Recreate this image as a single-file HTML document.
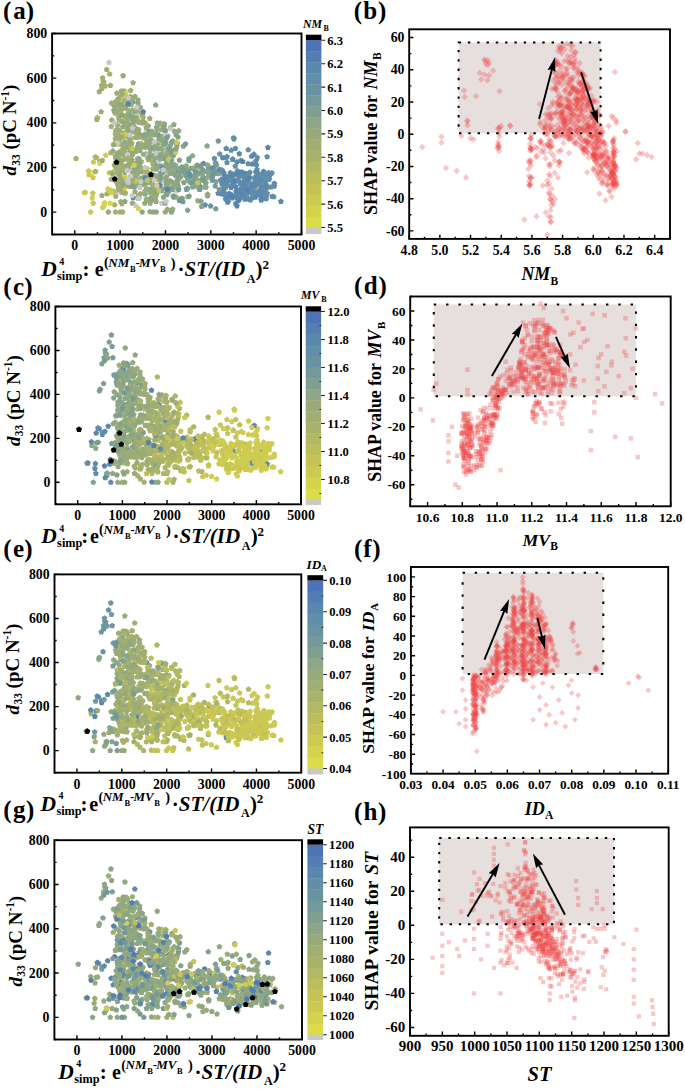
<!DOCTYPE html>
<html><head><meta charset="utf-8"><style>
html,body{margin:0;padding:0;background:#fff;}
svg{display:block;}
text{font-family:"Liberation Serif",serif;font-weight:bold;fill:#000;}
</style></head><body>
<svg width="685" height="1089" viewBox="0 0 685 1089">
<defs><clipPath id="clipLa"><rect x="52.1" y="33.5" width="249.4" height="201.0"/></clipPath><clipPath id="clipLc"><rect x="55.4" y="306.5" width="245.6" height="197.8"/></clipPath><clipPath id="clipLe"><rect x="54.5" y="574.4" width="246.8" height="198.30000000000007"/></clipPath><clipPath id="clipLg"><rect x="54.4" y="840.2" width="247.6" height="199.29999999999995"/></clipPath><clipPath id="clipRb"><rect x="409.2" y="29.3" width="260.8" height="209.6"/></clipPath><clipPath id="clipRd"><rect x="410.2" y="296.5" width="260.50000000000006" height="209.8"/></clipPath><clipPath id="clipRf"><rect x="410.9" y="567.0" width="257.30000000000007" height="206.70000000000005"/></clipPath><clipPath id="clipRh"><rect x="410.0" y="827.4" width="258.70000000000005" height="208.39999999999998"/></clipPath><marker id="ma13" markerUnits="userSpaceOnUse" overflow="visible" markerWidth="1" markerHeight="1" refX="0" refY="0" orient="0"><polygon points="0.00,-2.60 2.90,-0.49 1.79,2.92 -1.79,2.92 -2.90,-0.49" fill="#b0b664"/></marker><marker id="ma14" markerUnits="userSpaceOnUse" overflow="visible" markerWidth="1" markerHeight="1" refX="0" refY="0" orient="0"><polygon points="0.00,-2.60 2.90,-0.49 1.79,2.92 -1.79,2.92 -2.90,-0.49" fill="#acb468"/></marker><marker id="ma15" markerUnits="userSpaceOnUse" overflow="visible" markerWidth="1" markerHeight="1" refX="0" refY="0" orient="0"><polygon points="0.00,-2.60 2.90,-0.49 1.79,2.92 -1.79,2.92 -2.90,-0.49" fill="#a8b16a"/></marker><marker id="ma16" markerUnits="userSpaceOnUse" overflow="visible" markerWidth="1" markerHeight="1" refX="0" refY="0" orient="0"><polygon points="0.00,-2.60 2.90,-0.49 1.79,2.92 -1.79,2.92 -2.90,-0.49" fill="#a4af6e"/></marker><marker id="ma17" markerUnits="userSpaceOnUse" overflow="visible" markerWidth="1" markerHeight="1" refX="0" refY="0" orient="0"><polygon points="0.00,-2.60 2.90,-0.49 1.79,2.92 -1.79,2.92 -2.90,-0.49" fill="#a1ae71"/></marker><marker id="ma18" markerUnits="userSpaceOnUse" overflow="visible" markerWidth="1" markerHeight="1" refX="0" refY="0" orient="0"><polygon points="0.00,-2.60 2.90,-0.49 1.79,2.92 -1.79,2.92 -2.90,-0.49" fill="#9dac75"/></marker><marker id="ma19" markerUnits="userSpaceOnUse" overflow="visible" markerWidth="1" markerHeight="1" refX="0" refY="0" orient="0"><polygon points="0.00,-2.60 2.90,-0.49 1.79,2.92 -1.79,2.92 -2.90,-0.49" fill="#9aab78"/></marker><marker id="ma2" markerUnits="userSpaceOnUse" overflow="visible" markerWidth="1" markerHeight="1" refX="0" refY="0" orient="0"><polygon points="0.00,-2.60 2.90,-0.49 1.79,2.92 -1.79,2.92 -2.90,-0.49" fill="#d8d64c"/></marker><marker id="ma20" markerUnits="userSpaceOnUse" overflow="visible" markerWidth="1" markerHeight="1" refX="0" refY="0" orient="0"><polygon points="0.00,-2.60 2.90,-0.49 1.79,2.92 -1.79,2.92 -2.90,-0.49" fill="#96a97c"/></marker><marker id="ma21" markerUnits="userSpaceOnUse" overflow="visible" markerWidth="1" markerHeight="1" refX="0" refY="0" orient="0"><polygon points="0.00,-2.60 2.90,-0.49 1.79,2.92 -1.79,2.92 -2.90,-0.49" fill="#90a882"/></marker><marker id="ma22" markerUnits="userSpaceOnUse" overflow="visible" markerWidth="1" markerHeight="1" refX="0" refY="0" orient="0"><polygon points="0.00,-2.60 2.90,-0.49 1.79,2.92 -1.79,2.92 -2.90,-0.49" fill="#8ba686"/></marker><marker id="ma23" markerUnits="userSpaceOnUse" overflow="visible" markerWidth="1" markerHeight="1" refX="0" refY="0" orient="0"><polygon points="0.00,-2.60 2.90,-0.49 1.79,2.92 -1.79,2.92 -2.90,-0.49" fill="#86a38b"/></marker><marker id="ma24" markerUnits="userSpaceOnUse" overflow="visible" markerWidth="1" markerHeight="1" refX="0" refY="0" orient="0"><polygon points="0.00,-2.60 2.90,-0.49 1.79,2.92 -1.79,2.92 -2.90,-0.49" fill="#80a18f"/></marker><marker id="ma25" markerUnits="userSpaceOnUse" overflow="visible" markerWidth="1" markerHeight="1" refX="0" refY="0" orient="0"><polygon points="0.00,-2.60 2.90,-0.49 1.79,2.92 -1.79,2.92 -2.90,-0.49" fill="#7a9e93"/></marker><marker id="ma26" markerUnits="userSpaceOnUse" overflow="visible" markerWidth="1" markerHeight="1" refX="0" refY="0" orient="0"><polygon points="0.00,-2.60 2.90,-0.49 1.79,2.92 -1.79,2.92 -2.90,-0.49" fill="#769b97"/></marker><marker id="ma27" markerUnits="userSpaceOnUse" overflow="visible" markerWidth="1" markerHeight="1" refX="0" refY="0" orient="0"><polygon points="0.00,-2.60 2.90,-0.49 1.79,2.92 -1.79,2.92 -2.90,-0.49" fill="#70989c"/></marker><marker id="ma28" markerUnits="userSpaceOnUse" overflow="visible" markerWidth="1" markerHeight="1" refX="0" refY="0" orient="0"><polygon points="0.00,-2.60 2.90,-0.49 1.79,2.92 -1.79,2.92 -2.90,-0.49" fill="#6c95a0"/></marker><marker id="ma29" markerUnits="userSpaceOnUse" overflow="visible" markerWidth="1" markerHeight="1" refX="0" refY="0" orient="0"><polygon points="0.00,-2.60 2.90,-0.49 1.79,2.92 -1.79,2.92 -2.90,-0.49" fill="#6993a2"/></marker><marker id="ma3" markerUnits="userSpaceOnUse" overflow="visible" markerWidth="1" markerHeight="1" refX="0" refY="0" orient="0"><polygon points="0.00,-2.60 2.90,-0.49 1.79,2.92 -1.79,2.92 -2.90,-0.49" fill="#d6d24d"/></marker><marker id="ma30" markerUnits="userSpaceOnUse" overflow="visible" markerWidth="1" markerHeight="1" refX="0" refY="0" orient="0"><polygon points="0.00,-2.60 2.90,-0.49 1.79,2.92 -1.79,2.92 -2.90,-0.49" fill="#6591a6"/></marker><marker id="ma31" markerUnits="userSpaceOnUse" overflow="visible" markerWidth="1" markerHeight="1" refX="0" refY="0" orient="0"><polygon points="0.00,-2.60 2.90,-0.49 1.79,2.92 -1.79,2.92 -2.90,-0.49" fill="#628fa8"/></marker><marker id="ma32" markerUnits="userSpaceOnUse" overflow="visible" markerWidth="1" markerHeight="1" refX="0" refY="0" orient="0"><polygon points="0.00,-2.60 2.90,-0.49 1.79,2.92 -1.79,2.92 -2.90,-0.49" fill="#5f8cab"/></marker><marker id="ma33" markerUnits="userSpaceOnUse" overflow="visible" markerWidth="1" markerHeight="1" refX="0" refY="0" orient="0"><polygon points="0.00,-2.60 2.90,-0.49 1.79,2.92 -1.79,2.92 -2.90,-0.49" fill="#5c89ad"/></marker><marker id="ma34" markerUnits="userSpaceOnUse" overflow="visible" markerWidth="1" markerHeight="1" refX="0" refY="0" orient="0"><polygon points="0.00,-2.60 2.90,-0.49 1.79,2.92 -1.79,2.92 -2.90,-0.49" fill="#5985af"/></marker><marker id="ma35" markerUnits="userSpaceOnUse" overflow="visible" markerWidth="1" markerHeight="1" refX="0" refY="0" orient="0"><polygon points="0.00,-2.60 2.90,-0.49 1.79,2.92 -1.79,2.92 -2.90,-0.49" fill="#5682b1"/></marker><marker id="ma4" markerUnits="userSpaceOnUse" overflow="visible" markerWidth="1" markerHeight="1" refX="0" refY="0" orient="0"><polygon points="0.00,-2.60 2.90,-0.49 1.79,2.92 -1.79,2.92 -2.90,-0.49" fill="#d2ce4f"/></marker><marker id="ma5" markerUnits="userSpaceOnUse" overflow="visible" markerWidth="1" markerHeight="1" refX="0" refY="0" orient="0"><polygon points="0.00,-2.60 2.90,-0.49 1.79,2.92 -1.79,2.92 -2.90,-0.49" fill="#cfcc51"/></marker><marker id="ma6" markerUnits="userSpaceOnUse" overflow="visible" markerWidth="1" markerHeight="1" refX="0" refY="0" orient="0"><polygon points="0.00,-2.60 2.90,-0.49 1.79,2.92 -1.79,2.92 -2.90,-0.49" fill="#cbc853"/></marker><marker id="ma7" markerUnits="userSpaceOnUse" overflow="visible" markerWidth="1" markerHeight="1" refX="0" refY="0" orient="0"><polygon points="0.00,-2.60 2.90,-0.49 1.79,2.92 -1.79,2.92 -2.90,-0.49" fill="#c8c655"/></marker><marker id="ma8" markerUnits="userSpaceOnUse" overflow="visible" markerWidth="1" markerHeight="1" refX="0" refY="0" orient="0"><polygon points="0.00,-2.60 2.90,-0.49 1.79,2.92 -1.79,2.92 -2.90,-0.49" fill="#c4c357"/></marker><marker id="mag" markerUnits="userSpaceOnUse" overflow="visible" markerWidth="1" markerHeight="1" refX="0" refY="0" orient="0"><polygon points="0.00,-2.60 2.90,-0.49 1.79,2.92 -1.79,2.92 -2.90,-0.49" fill="#c8c8c8"/></marker><marker id="mak" markerUnits="userSpaceOnUse" overflow="visible" markerWidth="1" markerHeight="1" refX="0" refY="0" orient="0"><polygon points="0.00,-2.60 2.90,-0.49 1.79,2.92 -1.79,2.92 -2.90,-0.49" fill="#000"/></marker><marker id="mc10" markerUnits="userSpaceOnUse" overflow="visible" markerWidth="1" markerHeight="1" refX="0" refY="0" orient="0"><polygon points="0.00,-2.60 2.90,-0.49 1.79,2.92 -1.79,2.92 -2.90,-0.49" fill="#bcbe5c"/></marker><marker id="mc11" markerUnits="userSpaceOnUse" overflow="visible" markerWidth="1" markerHeight="1" refX="0" refY="0" orient="0"><polygon points="0.00,-2.60 2.90,-0.49 1.79,2.92 -1.79,2.92 -2.90,-0.49" fill="#b8bb5f"/></marker><marker id="mc12" markerUnits="userSpaceOnUse" overflow="visible" markerWidth="1" markerHeight="1" refX="0" refY="0" orient="0"><polygon points="0.00,-2.60 2.90,-0.49 1.79,2.92 -1.79,2.92 -2.90,-0.49" fill="#b4b962"/></marker><marker id="mc13" markerUnits="userSpaceOnUse" overflow="visible" markerWidth="1" markerHeight="1" refX="0" refY="0" orient="0"><polygon points="0.00,-2.60 2.90,-0.49 1.79,2.92 -1.79,2.92 -2.90,-0.49" fill="#b0b664"/></marker><marker id="mc14" markerUnits="userSpaceOnUse" overflow="visible" markerWidth="1" markerHeight="1" refX="0" refY="0" orient="0"><polygon points="0.00,-2.60 2.90,-0.49 1.79,2.92 -1.79,2.92 -2.90,-0.49" fill="#acb468"/></marker><marker id="mc15" markerUnits="userSpaceOnUse" overflow="visible" markerWidth="1" markerHeight="1" refX="0" refY="0" orient="0"><polygon points="0.00,-2.60 2.90,-0.49 1.79,2.92 -1.79,2.92 -2.90,-0.49" fill="#a8b16a"/></marker><marker id="mc16" markerUnits="userSpaceOnUse" overflow="visible" markerWidth="1" markerHeight="1" refX="0" refY="0" orient="0"><polygon points="0.00,-2.60 2.90,-0.49 1.79,2.92 -1.79,2.92 -2.90,-0.49" fill="#a4af6e"/></marker><marker id="mc17" markerUnits="userSpaceOnUse" overflow="visible" markerWidth="1" markerHeight="1" refX="0" refY="0" orient="0"><polygon points="0.00,-2.60 2.90,-0.49 1.79,2.92 -1.79,2.92 -2.90,-0.49" fill="#a1ae71"/></marker><marker id="mc18" markerUnits="userSpaceOnUse" overflow="visible" markerWidth="1" markerHeight="1" refX="0" refY="0" orient="0"><polygon points="0.00,-2.60 2.90,-0.49 1.79,2.92 -1.79,2.92 -2.90,-0.49" fill="#9dac75"/></marker><marker id="mc19" markerUnits="userSpaceOnUse" overflow="visible" markerWidth="1" markerHeight="1" refX="0" refY="0" orient="0"><polygon points="0.00,-2.60 2.90,-0.49 1.79,2.92 -1.79,2.92 -2.90,-0.49" fill="#9aab78"/></marker><marker id="mc20" markerUnits="userSpaceOnUse" overflow="visible" markerWidth="1" markerHeight="1" refX="0" refY="0" orient="0"><polygon points="0.00,-2.60 2.90,-0.49 1.79,2.92 -1.79,2.92 -2.90,-0.49" fill="#96a97c"/></marker><marker id="mc21" markerUnits="userSpaceOnUse" overflow="visible" markerWidth="1" markerHeight="1" refX="0" refY="0" orient="0"><polygon points="0.00,-2.60 2.90,-0.49 1.79,2.92 -1.79,2.92 -2.90,-0.49" fill="#90a882"/></marker><marker id="mc22" markerUnits="userSpaceOnUse" overflow="visible" markerWidth="1" markerHeight="1" refX="0" refY="0" orient="0"><polygon points="0.00,-2.60 2.90,-0.49 1.79,2.92 -1.79,2.92 -2.90,-0.49" fill="#8ba686"/></marker><marker id="mc23" markerUnits="userSpaceOnUse" overflow="visible" markerWidth="1" markerHeight="1" refX="0" refY="0" orient="0"><polygon points="0.00,-2.60 2.90,-0.49 1.79,2.92 -1.79,2.92 -2.90,-0.49" fill="#86a38b"/></marker><marker id="mc24" markerUnits="userSpaceOnUse" overflow="visible" markerWidth="1" markerHeight="1" refX="0" refY="0" orient="0"><polygon points="0.00,-2.60 2.90,-0.49 1.79,2.92 -1.79,2.92 -2.90,-0.49" fill="#80a18f"/></marker><marker id="mc25" markerUnits="userSpaceOnUse" overflow="visible" markerWidth="1" markerHeight="1" refX="0" refY="0" orient="0"><polygon points="0.00,-2.60 2.90,-0.49 1.79,2.92 -1.79,2.92 -2.90,-0.49" fill="#7a9e93"/></marker><marker id="mc26" markerUnits="userSpaceOnUse" overflow="visible" markerWidth="1" markerHeight="1" refX="0" refY="0" orient="0"><polygon points="0.00,-2.60 2.90,-0.49 1.79,2.92 -1.79,2.92 -2.90,-0.49" fill="#769b97"/></marker><marker id="mc27" markerUnits="userSpaceOnUse" overflow="visible" markerWidth="1" markerHeight="1" refX="0" refY="0" orient="0"><polygon points="0.00,-2.60 2.90,-0.49 1.79,2.92 -1.79,2.92 -2.90,-0.49" fill="#70989c"/></marker><marker id="mc32" markerUnits="userSpaceOnUse" overflow="visible" markerWidth="1" markerHeight="1" refX="0" refY="0" orient="0"><polygon points="0.00,-2.60 2.90,-0.49 1.79,2.92 -1.79,2.92 -2.90,-0.49" fill="#5f8cab"/></marker><marker id="mc33" markerUnits="userSpaceOnUse" overflow="visible" markerWidth="1" markerHeight="1" refX="0" refY="0" orient="0"><polygon points="0.00,-2.60 2.90,-0.49 1.79,2.92 -1.79,2.92 -2.90,-0.49" fill="#5c89ad"/></marker><marker id="mc34" markerUnits="userSpaceOnUse" overflow="visible" markerWidth="1" markerHeight="1" refX="0" refY="0" orient="0"><polygon points="0.00,-2.60 2.90,-0.49 1.79,2.92 -1.79,2.92 -2.90,-0.49" fill="#5985af"/></marker><marker id="mc35" markerUnits="userSpaceOnUse" overflow="visible" markerWidth="1" markerHeight="1" refX="0" refY="0" orient="0"><polygon points="0.00,-2.60 2.90,-0.49 1.79,2.92 -1.79,2.92 -2.90,-0.49" fill="#5682b1"/></marker><marker id="mc5" markerUnits="userSpaceOnUse" overflow="visible" markerWidth="1" markerHeight="1" refX="0" refY="0" orient="0"><polygon points="0.00,-2.60 2.90,-0.49 1.79,2.92 -1.79,2.92 -2.90,-0.49" fill="#cfcc51"/></marker><marker id="mc6" markerUnits="userSpaceOnUse" overflow="visible" markerWidth="1" markerHeight="1" refX="0" refY="0" orient="0"><polygon points="0.00,-2.60 2.90,-0.49 1.79,2.92 -1.79,2.92 -2.90,-0.49" fill="#cbc853"/></marker><marker id="mc7" markerUnits="userSpaceOnUse" overflow="visible" markerWidth="1" markerHeight="1" refX="0" refY="0" orient="0"><polygon points="0.00,-2.60 2.90,-0.49 1.79,2.92 -1.79,2.92 -2.90,-0.49" fill="#c8c655"/></marker><marker id="mc8" markerUnits="userSpaceOnUse" overflow="visible" markerWidth="1" markerHeight="1" refX="0" refY="0" orient="0"><polygon points="0.00,-2.60 2.90,-0.49 1.79,2.92 -1.79,2.92 -2.90,-0.49" fill="#c4c357"/></marker><marker id="mc9" markerUnits="userSpaceOnUse" overflow="visible" markerWidth="1" markerHeight="1" refX="0" refY="0" orient="0"><polygon points="0.00,-2.60 2.90,-0.49 1.79,2.92 -1.79,2.92 -2.90,-0.49" fill="#c0c05a"/></marker><marker id="mck" markerUnits="userSpaceOnUse" overflow="visible" markerWidth="1" markerHeight="1" refX="0" refY="0" orient="0"><polygon points="0.00,-2.60 2.90,-0.49 1.79,2.92 -1.79,2.92 -2.90,-0.49" fill="#000"/></marker><marker id="me10" markerUnits="userSpaceOnUse" overflow="visible" markerWidth="1" markerHeight="1" refX="0" refY="0" orient="0"><polygon points="0.00,-2.60 2.90,-0.49 1.79,2.92 -1.79,2.92 -2.90,-0.49" fill="#bcbe5c"/></marker><marker id="me11" markerUnits="userSpaceOnUse" overflow="visible" markerWidth="1" markerHeight="1" refX="0" refY="0" orient="0"><polygon points="0.00,-2.60 2.90,-0.49 1.79,2.92 -1.79,2.92 -2.90,-0.49" fill="#b8bb5f"/></marker><marker id="me12" markerUnits="userSpaceOnUse" overflow="visible" markerWidth="1" markerHeight="1" refX="0" refY="0" orient="0"><polygon points="0.00,-2.60 2.90,-0.49 1.79,2.92 -1.79,2.92 -2.90,-0.49" fill="#b4b962"/></marker><marker id="me13" markerUnits="userSpaceOnUse" overflow="visible" markerWidth="1" markerHeight="1" refX="0" refY="0" orient="0"><polygon points="0.00,-2.60 2.90,-0.49 1.79,2.92 -1.79,2.92 -2.90,-0.49" fill="#b0b664"/></marker><marker id="me14" markerUnits="userSpaceOnUse" overflow="visible" markerWidth="1" markerHeight="1" refX="0" refY="0" orient="0"><polygon points="0.00,-2.60 2.90,-0.49 1.79,2.92 -1.79,2.92 -2.90,-0.49" fill="#acb468"/></marker><marker id="me15" markerUnits="userSpaceOnUse" overflow="visible" markerWidth="1" markerHeight="1" refX="0" refY="0" orient="0"><polygon points="0.00,-2.60 2.90,-0.49 1.79,2.92 -1.79,2.92 -2.90,-0.49" fill="#a8b16a"/></marker><marker id="me16" markerUnits="userSpaceOnUse" overflow="visible" markerWidth="1" markerHeight="1" refX="0" refY="0" orient="0"><polygon points="0.00,-2.60 2.90,-0.49 1.79,2.92 -1.79,2.92 -2.90,-0.49" fill="#a4af6e"/></marker><marker id="me17" markerUnits="userSpaceOnUse" overflow="visible" markerWidth="1" markerHeight="1" refX="0" refY="0" orient="0"><polygon points="0.00,-2.60 2.90,-0.49 1.79,2.92 -1.79,2.92 -2.90,-0.49" fill="#a1ae71"/></marker><marker id="me18" markerUnits="userSpaceOnUse" overflow="visible" markerWidth="1" markerHeight="1" refX="0" refY="0" orient="0"><polygon points="0.00,-2.60 2.90,-0.49 1.79,2.92 -1.79,2.92 -2.90,-0.49" fill="#9dac75"/></marker><marker id="me19" markerUnits="userSpaceOnUse" overflow="visible" markerWidth="1" markerHeight="1" refX="0" refY="0" orient="0"><polygon points="0.00,-2.60 2.90,-0.49 1.79,2.92 -1.79,2.92 -2.90,-0.49" fill="#9aab78"/></marker><marker id="me20" markerUnits="userSpaceOnUse" overflow="visible" markerWidth="1" markerHeight="1" refX="0" refY="0" orient="0"><polygon points="0.00,-2.60 2.90,-0.49 1.79,2.92 -1.79,2.92 -2.90,-0.49" fill="#96a97c"/></marker><marker id="me21" markerUnits="userSpaceOnUse" overflow="visible" markerWidth="1" markerHeight="1" refX="0" refY="0" orient="0"><polygon points="0.00,-2.60 2.90,-0.49 1.79,2.92 -1.79,2.92 -2.90,-0.49" fill="#90a882"/></marker><marker id="me22" markerUnits="userSpaceOnUse" overflow="visible" markerWidth="1" markerHeight="1" refX="0" refY="0" orient="0"><polygon points="0.00,-2.60 2.90,-0.49 1.79,2.92 -1.79,2.92 -2.90,-0.49" fill="#8ba686"/></marker><marker id="me23" markerUnits="userSpaceOnUse" overflow="visible" markerWidth="1" markerHeight="1" refX="0" refY="0" orient="0"><polygon points="0.00,-2.60 2.90,-0.49 1.79,2.92 -1.79,2.92 -2.90,-0.49" fill="#86a38b"/></marker><marker id="me24" markerUnits="userSpaceOnUse" overflow="visible" markerWidth="1" markerHeight="1" refX="0" refY="0" orient="0"><polygon points="0.00,-2.60 2.90,-0.49 1.79,2.92 -1.79,2.92 -2.90,-0.49" fill="#80a18f"/></marker><marker id="me25" markerUnits="userSpaceOnUse" overflow="visible" markerWidth="1" markerHeight="1" refX="0" refY="0" orient="0"><polygon points="0.00,-2.60 2.90,-0.49 1.79,2.92 -1.79,2.92 -2.90,-0.49" fill="#7a9e93"/></marker><marker id="me26" markerUnits="userSpaceOnUse" overflow="visible" markerWidth="1" markerHeight="1" refX="0" refY="0" orient="0"><polygon points="0.00,-2.60 2.90,-0.49 1.79,2.92 -1.79,2.92 -2.90,-0.49" fill="#769b97"/></marker><marker id="me27" markerUnits="userSpaceOnUse" overflow="visible" markerWidth="1" markerHeight="1" refX="0" refY="0" orient="0"><polygon points="0.00,-2.60 2.90,-0.49 1.79,2.92 -1.79,2.92 -2.90,-0.49" fill="#70989c"/></marker><marker id="me28" markerUnits="userSpaceOnUse" overflow="visible" markerWidth="1" markerHeight="1" refX="0" refY="0" orient="0"><polygon points="0.00,-2.60 2.90,-0.49 1.79,2.92 -1.79,2.92 -2.90,-0.49" fill="#6c95a0"/></marker><marker id="me29" markerUnits="userSpaceOnUse" overflow="visible" markerWidth="1" markerHeight="1" refX="0" refY="0" orient="0"><polygon points="0.00,-2.60 2.90,-0.49 1.79,2.92 -1.79,2.92 -2.90,-0.49" fill="#6993a2"/></marker><marker id="me31" markerUnits="userSpaceOnUse" overflow="visible" markerWidth="1" markerHeight="1" refX="0" refY="0" orient="0"><polygon points="0.00,-2.60 2.90,-0.49 1.79,2.92 -1.79,2.92 -2.90,-0.49" fill="#628fa8"/></marker><marker id="me32" markerUnits="userSpaceOnUse" overflow="visible" markerWidth="1" markerHeight="1" refX="0" refY="0" orient="0"><polygon points="0.00,-2.60 2.90,-0.49 1.79,2.92 -1.79,2.92 -2.90,-0.49" fill="#5f8cab"/></marker><marker id="me33" markerUnits="userSpaceOnUse" overflow="visible" markerWidth="1" markerHeight="1" refX="0" refY="0" orient="0"><polygon points="0.00,-2.60 2.90,-0.49 1.79,2.92 -1.79,2.92 -2.90,-0.49" fill="#5c89ad"/></marker><marker id="me35" markerUnits="userSpaceOnUse" overflow="visible" markerWidth="1" markerHeight="1" refX="0" refY="0" orient="0"><polygon points="0.00,-2.60 2.90,-0.49 1.79,2.92 -1.79,2.92 -2.90,-0.49" fill="#5682b1"/></marker><marker id="me6" markerUnits="userSpaceOnUse" overflow="visible" markerWidth="1" markerHeight="1" refX="0" refY="0" orient="0"><polygon points="0.00,-2.60 2.90,-0.49 1.79,2.92 -1.79,2.92 -2.90,-0.49" fill="#cbc853"/></marker><marker id="me7" markerUnits="userSpaceOnUse" overflow="visible" markerWidth="1" markerHeight="1" refX="0" refY="0" orient="0"><polygon points="0.00,-2.60 2.90,-0.49 1.79,2.92 -1.79,2.92 -2.90,-0.49" fill="#c8c655"/></marker><marker id="me8" markerUnits="userSpaceOnUse" overflow="visible" markerWidth="1" markerHeight="1" refX="0" refY="0" orient="0"><polygon points="0.00,-2.60 2.90,-0.49 1.79,2.92 -1.79,2.92 -2.90,-0.49" fill="#c4c357"/></marker><marker id="me9" markerUnits="userSpaceOnUse" overflow="visible" markerWidth="1" markerHeight="1" refX="0" refY="0" orient="0"><polygon points="0.00,-2.60 2.90,-0.49 1.79,2.92 -1.79,2.92 -2.90,-0.49" fill="#c0c05a"/></marker><marker id="mek" markerUnits="userSpaceOnUse" overflow="visible" markerWidth="1" markerHeight="1" refX="0" refY="0" orient="0"><polygon points="0.00,-2.60 2.90,-0.49 1.79,2.92 -1.79,2.92 -2.90,-0.49" fill="#000"/></marker><marker id="mg10" markerUnits="userSpaceOnUse" overflow="visible" markerWidth="1" markerHeight="1" refX="0" refY="0" orient="0"><polygon points="0.00,-2.60 2.90,-0.49 1.79,2.92 -1.79,2.92 -2.90,-0.49" fill="#bcbe5c"/></marker><marker id="mg15" markerUnits="userSpaceOnUse" overflow="visible" markerWidth="1" markerHeight="1" refX="0" refY="0" orient="0"><polygon points="0.00,-2.60 2.90,-0.49 1.79,2.92 -1.79,2.92 -2.90,-0.49" fill="#a8b16a"/></marker><marker id="mg16" markerUnits="userSpaceOnUse" overflow="visible" markerWidth="1" markerHeight="1" refX="0" refY="0" orient="0"><polygon points="0.00,-2.60 2.90,-0.49 1.79,2.92 -1.79,2.92 -2.90,-0.49" fill="#a4af6e"/></marker><marker id="mg17" markerUnits="userSpaceOnUse" overflow="visible" markerWidth="1" markerHeight="1" refX="0" refY="0" orient="0"><polygon points="0.00,-2.60 2.90,-0.49 1.79,2.92 -1.79,2.92 -2.90,-0.49" fill="#a1ae71"/></marker><marker id="mg18" markerUnits="userSpaceOnUse" overflow="visible" markerWidth="1" markerHeight="1" refX="0" refY="0" orient="0"><polygon points="0.00,-2.60 2.90,-0.49 1.79,2.92 -1.79,2.92 -2.90,-0.49" fill="#9dac75"/></marker><marker id="mg19" markerUnits="userSpaceOnUse" overflow="visible" markerWidth="1" markerHeight="1" refX="0" refY="0" orient="0"><polygon points="0.00,-2.60 2.90,-0.49 1.79,2.92 -1.79,2.92 -2.90,-0.49" fill="#9aab78"/></marker><marker id="mg20" markerUnits="userSpaceOnUse" overflow="visible" markerWidth="1" markerHeight="1" refX="0" refY="0" orient="0"><polygon points="0.00,-2.60 2.90,-0.49 1.79,2.92 -1.79,2.92 -2.90,-0.49" fill="#96a97c"/></marker><marker id="mg21" markerUnits="userSpaceOnUse" overflow="visible" markerWidth="1" markerHeight="1" refX="0" refY="0" orient="0"><polygon points="0.00,-2.60 2.90,-0.49 1.79,2.92 -1.79,2.92 -2.90,-0.49" fill="#90a882"/></marker><marker id="mg22" markerUnits="userSpaceOnUse" overflow="visible" markerWidth="1" markerHeight="1" refX="0" refY="0" orient="0"><polygon points="0.00,-2.60 2.90,-0.49 1.79,2.92 -1.79,2.92 -2.90,-0.49" fill="#8ba686"/></marker><marker id="mg23" markerUnits="userSpaceOnUse" overflow="visible" markerWidth="1" markerHeight="1" refX="0" refY="0" orient="0"><polygon points="0.00,-2.60 2.90,-0.49 1.79,2.92 -1.79,2.92 -2.90,-0.49" fill="#86a38b"/></marker><marker id="mg24" markerUnits="userSpaceOnUse" overflow="visible" markerWidth="1" markerHeight="1" refX="0" refY="0" orient="0"><polygon points="0.00,-2.60 2.90,-0.49 1.79,2.92 -1.79,2.92 -2.90,-0.49" fill="#80a18f"/></marker><marker id="mg25" markerUnits="userSpaceOnUse" overflow="visible" markerWidth="1" markerHeight="1" refX="0" refY="0" orient="0"><polygon points="0.00,-2.60 2.90,-0.49 1.79,2.92 -1.79,2.92 -2.90,-0.49" fill="#7a9e93"/></marker><marker id="mg26" markerUnits="userSpaceOnUse" overflow="visible" markerWidth="1" markerHeight="1" refX="0" refY="0" orient="0"><polygon points="0.00,-2.60 2.90,-0.49 1.79,2.92 -1.79,2.92 -2.90,-0.49" fill="#769b97"/></marker><marker id="mg27" markerUnits="userSpaceOnUse" overflow="visible" markerWidth="1" markerHeight="1" refX="0" refY="0" orient="0"><polygon points="0.00,-2.60 2.90,-0.49 1.79,2.92 -1.79,2.92 -2.90,-0.49" fill="#70989c"/></marker><marker id="mg28" markerUnits="userSpaceOnUse" overflow="visible" markerWidth="1" markerHeight="1" refX="0" refY="0" orient="0"><polygon points="0.00,-2.60 2.90,-0.49 1.79,2.92 -1.79,2.92 -2.90,-0.49" fill="#6c95a0"/></marker><marker id="mg33" markerUnits="userSpaceOnUse" overflow="visible" markerWidth="1" markerHeight="1" refX="0" refY="0" orient="0"><polygon points="0.00,-2.60 2.90,-0.49 1.79,2.92 -1.79,2.92 -2.90,-0.49" fill="#5c89ad"/></marker><marker id="mg34" markerUnits="userSpaceOnUse" overflow="visible" markerWidth="1" markerHeight="1" refX="0" refY="0" orient="0"><polygon points="0.00,-2.60 2.90,-0.49 1.79,2.92 -1.79,2.92 -2.90,-0.49" fill="#5985af"/></marker><marker id="mg35" markerUnits="userSpaceOnUse" overflow="visible" markerWidth="1" markerHeight="1" refX="0" refY="0" orient="0"><polygon points="0.00,-2.60 2.90,-0.49 1.79,2.92 -1.79,2.92 -2.90,-0.49" fill="#5682b1"/></marker><marker id="mg36" markerUnits="userSpaceOnUse" overflow="visible" markerWidth="1" markerHeight="1" refX="0" refY="0" orient="0"><polygon points="0.00,-2.60 2.90,-0.49 1.79,2.92 -1.79,2.92 -2.90,-0.49" fill="#547eb3"/></marker><marker id="mg37" markerUnits="userSpaceOnUse" overflow="visible" markerWidth="1" markerHeight="1" refX="0" refY="0" orient="0"><polygon points="0.00,-2.60 2.90,-0.49 1.79,2.92 -1.79,2.92 -2.90,-0.49" fill="#5178b5"/></marker><marker id="mg4" markerUnits="userSpaceOnUse" overflow="visible" markerWidth="1" markerHeight="1" refX="0" refY="0" orient="0"><polygon points="0.00,-2.60 2.90,-0.49 1.79,2.92 -1.79,2.92 -2.90,-0.49" fill="#d2ce4f"/></marker><marker id="mg5" markerUnits="userSpaceOnUse" overflow="visible" markerWidth="1" markerHeight="1" refX="0" refY="0" orient="0"><polygon points="0.00,-2.60 2.90,-0.49 1.79,2.92 -1.79,2.92 -2.90,-0.49" fill="#cfcc51"/></marker><marker id="mg6" markerUnits="userSpaceOnUse" overflow="visible" markerWidth="1" markerHeight="1" refX="0" refY="0" orient="0"><polygon points="0.00,-2.60 2.90,-0.49 1.79,2.92 -1.79,2.92 -2.90,-0.49" fill="#cbc853"/></marker><marker id="mg7" markerUnits="userSpaceOnUse" overflow="visible" markerWidth="1" markerHeight="1" refX="0" refY="0" orient="0"><polygon points="0.00,-2.60 2.90,-0.49 1.79,2.92 -1.79,2.92 -2.90,-0.49" fill="#c8c655"/></marker><marker id="mg8" markerUnits="userSpaceOnUse" overflow="visible" markerWidth="1" markerHeight="1" refX="0" refY="0" orient="0"><polygon points="0.00,-2.60 2.90,-0.49 1.79,2.92 -1.79,2.92 -2.90,-0.49" fill="#c4c357"/></marker><marker id="mg9" markerUnits="userSpaceOnUse" overflow="visible" markerWidth="1" markerHeight="1" refX="0" refY="0" orient="0"><polygon points="0.00,-2.60 2.90,-0.49 1.79,2.92 -1.79,2.92 -2.90,-0.49" fill="#c0c05a"/></marker><marker id="mg14" markerUnits="userSpaceOnUse" overflow="visible" markerWidth="1" markerHeight="1" refX="0" refY="0" orient="0"><polygon points="0.00,-2.60 2.90,-0.49 1.79,2.92 -1.79,2.92 -2.90,-0.49" fill="#acb468"/></marker><marker id="mg32" markerUnits="userSpaceOnUse" overflow="visible" markerWidth="1" markerHeight="1" refX="0" refY="0" orient="0"><polygon points="0.00,-2.60 2.90,-0.49 1.79,2.92 -1.79,2.92 -2.90,-0.49" fill="#5f8cab"/></marker><marker id="mgk" markerUnits="userSpaceOnUse" overflow="visible" markerWidth="1" markerHeight="1" refX="0" refY="0" orient="0"><polygon points="0.00,-2.60 2.90,-0.49 1.79,2.92 -1.79,2.92 -2.90,-0.49" fill="#000"/></marker><marker id="rb" markerUnits="userSpaceOnUse" overflow="visible" markerWidth="1" markerHeight="1" refX="0" refY="0" orient="0"><polygon points="0,-3.36 3.20,0 0,3.36 -3.20,0" fill="#ee4444" fill-opacity="0.3"/></marker><marker id="rd" markerUnits="userSpaceOnUse" overflow="visible" markerWidth="1" markerHeight="1" refX="0" refY="0" orient="0"><rect x="-2.25" y="-2.25" width="4.50" height="4.50" fill="#ee4444" fill-opacity="0.3"/></marker><marker id="rf" markerUnits="userSpaceOnUse" overflow="visible" markerWidth="1" markerHeight="1" refX="0" refY="0" orient="0"><polygon points="0,-3.04 2.90,0 0,3.04 -2.90,0" fill="#ee4444" fill-opacity="0.3"/></marker><marker id="rh" markerUnits="userSpaceOnUse" overflow="visible" markerWidth="1" markerHeight="1" refX="0" refY="0" orient="0"><rect x="-2.10" y="-2.10" width="4.20" height="4.20" fill="#ee4444" fill-opacity="0.3"/></marker></defs>
<g clip-path="url(#clipLa)"><path d="M96.5 157.2" marker-start="url(#ma13)" marker-mid="url(#ma13)" marker-end="url(#ma13)" fill="none" stroke="none"/><path d="M119.9 97.2L113.5 191.0L121.2 165.3" marker-start="url(#ma14)" marker-mid="url(#ma14)" marker-end="url(#ma14)" fill="none" stroke="none"/><path d="M122.7 148.7L128.8 182.8L129.7 186.1L127.4 166.3L125.2 116.8L114.6 204.4L121.7 104.6L124.4 137.3L119.1 119.6" marker-start="url(#ma15)" marker-mid="url(#ma15)" marker-end="url(#ma15)" fill="none" stroke="none"/><path d="M115.7 195.8L137.9 173.0L145.3 174.5L125.6 107.2L124.6 90.9L120.0 211.7L109.7 73.7L122.6 211.7L154.1 174.8L119.6 114.9L120.0 175.2L124.1 126.3L111.3 178.9" marker-start="url(#ma16)" marker-mid="url(#ma16)" marker-end="url(#ma16)" fill="none" stroke="none"/><path d="M116.3 134.6L129.8 151.5L139.6 161.1L126.7 142.2L139.8 112.9L126.8 117.4L126.5 155.0L121.8 168.8L127.6 119.1L101.1 111.4L115.6 130.4L121.6 120.8L99.8 161.0L197.8 200.3L129.0 114.1L140.4 144.1L145.1 122.4L135.9 120.9L137.8 182.2L130.0 139.5L128.4 166.3L101.6 85.1" marker-start="url(#ma17)" marker-mid="url(#ma17)" marker-end="url(#ma17)" fill="none" stroke="none"/><path d="M117.8 101.4L135.5 162.8L125.9 115.8L181.0 198.2L107.1 193.4L116.9 92.8L155.5 178.8L160.7 148.1L132.5 202.8L120.4 105.3L170.6 173.1L121.1 110.0L115.8 180.3L123.6 149.2L122.1 153.6L155.4 165.2L115.6 156.8L171.2 172.5L136.8 183.7L137.9 132.2L207.3 171.1L151.7 180.0L117.9 157.4L120.0 181.5L133.0 175.6" marker-start="url(#ma18)" marker-mid="url(#ma18)" marker-end="url(#ma18)" fill="none" stroke="none"/><path d="M165.5 130.0L127.9 113.7L160.2 122.8L119.1 135.9L138.0 99.6L115.5 155.5L161.4 129.4L160.2 123.9L171.8 152.1L134.5 111.4L140.9 135.2L131.3 144.0L187.9 196.3L147.1 155.4L165.8 152.6L142.9 183.0L149.7 174.9L134.3 126.5L116.8 100.5L132.8 173.4L118.7 140.9L145.7 137.0L152.5 192.8L174.0 195.6" marker-start="url(#ma19)" marker-mid="url(#ma19)" marker-end="url(#ma19)" fill="none" stroke="none"/><path d="M99.8 163.2L110.2 202.8" marker-start="url(#ma2)" marker-mid="url(#ma2)" marker-end="url(#ma2)" fill="none" stroke="none"/><path d="M121.6 91.9L140.1 144.0L137.2 130.7L175.6 165.1L128.5 126.8L163.7 169.4L153.8 158.0L138.5 129.2L115.7 157.4L147.8 172.3L188.3 180.3L150.0 211.3L146.9 141.0L135.7 117.5L156.0 186.7L142.3 181.4L133.1 179.9L116.0 104.0L161.6 140.7L166.1 184.1L135.5 151.1L186.7 169.2L122.8 181.7L150.2 182.3L125.1 103.8L168.4 147.9L136.7 133.0L160.5 166.6L152.0 179.4L153.1 155.2L142.5 145.8L136.4 110.5L159.0 138.8L148.2 125.5L122.3 144.4" marker-start="url(#ma20)" marker-mid="url(#ma20)" marker-end="url(#ma20)" fill="none" stroke="none"/><path d="M208.9 174.0L150.6 139.1L205.7 182.9L151.4 189.0L118.8 181.6L152.4 184.3L164.7 141.5L192.5 155.4L178.7 130.4L125.0 152.0L158.2 178.1L131.8 159.6L117.8 170.6L178.2 185.8L219.5 173.3L199.4 180.9L134.5 186.8L116.5 161.9L187.7 187.9L137.1 148.6L117.5 102.9L135.6 170.8L159.8 176.8L128.6 110.0L130.8 150.6L162.4 154.7L180.6 176.6L197.6 179.7" marker-start="url(#ma21)" marker-mid="url(#ma21)" marker-end="url(#ma21)" fill="none" stroke="none"/><path d="M173.3 153.4L138.9 197.7L171.5 141.9L197.8 166.3L118.4 109.6L202.7 178.7L156.6 126.9L163.5 196.8L112.8 150.7L170.1 180.4L166.9 194.3L170.5 144.9L153.4 211.7L169.0 173.3L147.6 178.2L188.9 160.3L135.8 184.6L174.7 183.2" marker-start="url(#ma22)" marker-mid="url(#ma22)" marker-end="url(#ma22)" fill="none" stroke="none"/><path d="M215.9 181.4L124.9 201.1L156.5 160.6L171.5 211.7L173.9 152.0L149.2 131.3L142.2 171.4L170.6 154.2L202.6 172.7L168.7 191.2L201.0 200.9L198.9 173.7L189.0 174.5L178.0 136.7L137.9 102.9L161.0 172.1L137.6 163.0L193.3 183.7L219.0 171.2" marker-start="url(#ma23)" marker-mid="url(#ma23)" marker-end="url(#ma23)" fill="none" stroke="none"/><path d="M197.0 168.1L179.4 159.8L166.5 158.4L168.9 181.6L190.0 176.1L165.8 176.2L121.6 114.1L201.1 171.7L194.0 177.1L196.7 167.6" marker-start="url(#ma24)" marker-mid="url(#ma24)" marker-end="url(#ma24)" fill="none" stroke="none"/><path d="M163.2 158.1L199.5 189.2L174.2 149.7L173.3 155.3L207.6 195.3L177.3 182.8L185.9 165.6L206.0 186.7" marker-start="url(#ma25)" marker-mid="url(#ma25)" marker-end="url(#ma25)" fill="none" stroke="none"/><path d="M182.9 201.4L179.7 171.8L192.0 168.2" marker-start="url(#ma26)" marker-mid="url(#ma26)" marker-end="url(#ma26)" fill="none" stroke="none"/><path d="M193.2 184.2L212.2 179.8L218.3 140.5L191.6 181.5L193.5 181.7" marker-start="url(#ma27)" marker-mid="url(#ma27)" marker-end="url(#ma27)" fill="none" stroke="none"/><path d="M208.1 166.4L179.4 200.0L184.2 170.0" marker-start="url(#ma28)" marker-mid="url(#ma28)" marker-end="url(#ma28)" fill="none" stroke="none"/><path d="M253.5 190.0L210.6 205.7L244.6 186.7" marker-start="url(#ma29)" marker-mid="url(#ma29)" marker-end="url(#ma29)" fill="none" stroke="none"/><path d="M104.3 204.7L138.4 208.2L94.1 171.5" marker-start="url(#ma3)" marker-mid="url(#ma3)" marker-end="url(#ma3)" fill="none" stroke="none"/><path d="M225.5 194.7L238.8 176.2L248.3 149.4L209.0 175.6L265.4 188.6L221.8 183.3" marker-start="url(#ma30)" marker-mid="url(#ma30)" marker-end="url(#ma30)" fill="none" stroke="none"/><path d="M240.3 183.4L227.1 184.7L249.6 185.7L244.9 196.6L264.5 197.0L222.1 169.7L257.0 169.2L264.7 184.8L248.9 176.9L270.9 186.6L261.9 189.1L261.6 178.7L249.9 171.9L265.6 186.6L265.5 179.7L231.2 149.9L232.5 175.0L232.9 180.0L240.2 196.8L232.7 158.7L229.4 196.7" marker-start="url(#ma31)" marker-mid="url(#ma31)" marker-end="url(#ma31)" fill="none" stroke="none"/><path d="M231.7 176.2L231.7 194.3L261.3 178.6L269.3 178.8L240.2 194.1L252.2 192.7L154.4 164.5L223.7 172.2L205.1 204.6L221.8 193.6L274.3 185.8L223.8 186.9L259.2 193.6L243.9 172.8L236.5 194.7L158.8 134.9L224.4 174.6L260.0 194.0L223.6 189.4L223.1 185.2L225.8 193.5L226.2 194.3L257.2 157.2L266.6 178.2L258.0 187.8L249.8 190.0" marker-start="url(#ma32)" marker-mid="url(#ma32)" marker-end="url(#ma32)" fill="none" stroke="none"/><path d="M247.0 178.9L236.8 197.0L266.2 198.3L245.8 190.1L223.7 179.4L234.7 180.9L215.7 162.5L227.0 156.3L229.3 193.1L241.5 171.6L240.7 189.2L256.9 182.3L235.7 203.2L228.1 201.2L236.9 161.7L256.2 193.9L267.5 175.5" marker-start="url(#ma33)" marker-mid="url(#ma33)" marker-end="url(#ma33)" fill="none" stroke="none"/><path d="M174.6 170.9L195.7 185.4L252.3 163.7L255.4 196.8L258.5 186.5L267.5 174.7L270.2 174.0L263.4 187.4L233.6 137.6L267.9 147.0" marker-start="url(#ma34)" marker-mid="url(#ma34)" marker-end="url(#ma34)" fill="none" stroke="none"/><path d="M233.0 174.2L258.0 188.3" marker-start="url(#ma35)" marker-mid="url(#ma35)" marker-end="url(#ma35)" fill="none" stroke="none"/><path d="M92.2 197.6L113.1 171.3L158.7 180.1L113.9 143.5L107.9 188.4L102.7 207.2" marker-start="url(#ma4)" marker-mid="url(#ma4)" marker-end="url(#ma4)" fill="none" stroke="none"/><path d="M155.6 179.2L184.2 166.7L175.4 152.0" marker-start="url(#ma5)" marker-mid="url(#ma5)" marker-end="url(#ma5)" fill="none" stroke="none"/><path d="M88.7 170.6L90.6 211.7L103.0 80.6L126.5 182.5" marker-start="url(#ma6)" marker-mid="url(#ma6)" marker-end="url(#ma6)" fill="none" stroke="none"/><path d="M179.2 178.9L147.1 168.2L89.1 174.4L163.9 123.5" marker-start="url(#ma7)" marker-mid="url(#ma7)" marker-end="url(#ma7)" fill="none" stroke="none"/><path d="M198.8 186.6L197.9 167.9L191.4 181.2" marker-start="url(#ma8)" marker-mid="url(#ma8)" marker-end="url(#ma8)" fill="none" stroke="none"/><path d="M138.3 163.0L164.9 174.1L138.4 115.5L109.0 62.1L159.5 186.7L144.3 175.2L114.8 113.2L161.7 202.8L129.7 130.1L132.0 169.3L158.5 160.5L146.6 130.2L131.3 104.6L125.7 101.7" marker-start="url(#mag)" marker-mid="url(#mag)" marker-end="url(#mag)" fill="none" stroke="none"/><path d="M119.9 112.6L95.3 156.5" marker-start="url(#ma13)" marker-mid="url(#ma13)" marker-end="url(#ma13)" fill="none" stroke="none"/><path d="M150.0 158.7" marker-start="url(#ma14)" marker-mid="url(#ma14)" marker-end="url(#ma14)" fill="none" stroke="none"/><path d="M76.1 158.1L130.4 175.7L127.3 96.6L128.5 110.6L102.0 88.2L104.6 202.5L140.3 166.7L105.2 85.5" marker-start="url(#ma15)" marker-mid="url(#ma15)" marker-end="url(#ma15)" fill="none" stroke="none"/><path d="M141.3 161.2L131.4 155.2L118.1 162.7L132.4 128.1L114.7 178.7L130.6 90.1L146.4 171.3L121.4 163.2L141.7 121.5L144.2 169.8L118.6 176.9" marker-start="url(#ma16)" marker-mid="url(#ma16)" marker-end="url(#ma16)" fill="none" stroke="none"/><path d="M136.3 108.4L118.0 153.5L134.2 181.9L138.6 136.8L193.2 175.7L155.2 167.9L133.1 82.4L122.0 192.2L123.5 154.4L137.5 133.8L103.8 81.5L128.5 128.5L121.7 169.7L115.4 133.8L102.0 195.2L134.0 131.6L118.9 143.3L111.5 102.7L152.8 184.1L114.4 164.7L126.6 131.1L102.6 77.5L118.6 116.8" marker-start="url(#ma17)" marker-mid="url(#ma17)" marker-end="url(#ma17)" fill="none" stroke="none"/><path d="M117.4 183.4L99.3 91.3L102.3 160.0L135.4 137.2L115.4 138.5L145.9 177.1L148.4 159.3L117.5 152.7L117.0 143.4L125.2 192.5L130.3 103.8L134.6 169.7L123.9 90.9L134.9 96.1L121.5 90.5L151.7 147.2L124.8 107.9L117.5 124.8L118.8 160.6L154.1 193.9L139.8 186.6L121.9 203.3L161.9 165.8L120.8 201.3L119.0 159.2" marker-start="url(#ma18)" marker-mid="url(#ma18)" marker-end="url(#ma18)" fill="none" stroke="none"/><path d="M129.8 139.5L125.8 185.6L165.3 211.7L125.5 165.9L163.9 150.7L129.0 165.8L158.5 177.9L131.9 154.2L133.8 165.7L147.3 156.5L118.8 99.5L161.2 179.9L147.2 154.2L147.0 199.5L166.1 136.7L165.1 143.1L115.7 105.4L156.7 132.6L165.1 169.6L121.2 95.9L121.2 152.7L146.4 198.8L137.6 158.6L127.0 180.7L193.5 167.9L135.9 117.0L165.9 180.2L160.4 158.5L153.5 164.8" marker-start="url(#ma19)" marker-mid="url(#ma19)" marker-end="url(#ma19)" fill="none" stroke="none"/><path d="M111.2 192.4" marker-start="url(#ma2)" marker-mid="url(#ma2)" marker-end="url(#ma2)" fill="none" stroke="none"/><path d="M156.5 175.6L125.3 140.3L139.6 133.7L122.7 126.4L132.6 153.7L126.2 179.6L161.3 138.4L172.2 183.3L163.1 144.8L157.3 122.6L207.6 193.9L138.8 122.1L207.6 177.2L135.4 149.4L121.7 132.4L187.5 176.8L168.3 168.7L149.4 139.6L136.3 128.5L108.4 211.7L173.9 124.2L169.6 149.7L170.5 127.3L138.1 198.1L129.7 133.2L162.6 171.5L137.6 146.1L122.8 184.4L167.8 135.7L136.1 166.3L176.9 146.0L133.1 123.4L138.4 170.9L127.1 169.7L151.6 199.4" marker-start="url(#ma20)" marker-mid="url(#ma20)" marker-end="url(#ma20)" fill="none" stroke="none"/><path d="M156.8 188.4L139.7 163.8L167.0 149.2L142.6 114.1L166.0 156.5L146.3 143.5L141.3 144.3L121.3 104.0L161.8 136.0L156.7 187.2L146.6 188.8L165.3 202.8L162.2 136.1L169.8 184.7L148.5 134.0L123.1 75.3L135.4 176.8L172.2 187.0L115.9 155.8L125.1 181.0L159.8 178.6L165.7 143.1L170.6 181.4L149.9 153.8L119.0 173.1" marker-start="url(#ma21)" marker-mid="url(#ma21)" marker-end="url(#ma21)" fill="none" stroke="none"/><path d="M169.4 167.0L143.5 184.0L164.5 188.0L195.1 170.8L192.6 182.5L176.1 148.5L145.9 153.6L207.1 145.6L173.9 196.8L181.0 169.9L167.8 166.4L150.9 197.6L170.2 189.3L189.4 174.0L113.9 110.0L172.3 188.1L139.5 162.7L164.5 123.7L171.6 154.4L115.3 165.3L163.5 154.4L139.9 150.2L129.9 137.2L156.0 201.2" marker-start="url(#ma22)" marker-mid="url(#ma22)" marker-end="url(#ma22)" fill="none" stroke="none"/><path d="M216.7 173.1L126.2 147.3L213.8 169.8L192.7 186.5L183.4 145.8L136.1 129.3L187.2 177.5L174.1 189.3L163.9 126.5L172.8 140.5L199.2 165.9L138.6 143.3L120.7 133.5L179.6 176.5L138.3 161.9L164.2 175.2L190.1 181.9L166.3 163.4L153.3 189.3L173.6 170.9" marker-start="url(#ma23)" marker-mid="url(#ma23)" marker-end="url(#ma23)" fill="none" stroke="none"/><path d="M149.0 130.9L176.2 134.6L183.8 167.3L161.8 178.7L202.8 177.9L176.2 142.3L174.8 174.0L156.1 193.3L214.4 169.7L205.7 181.9" marker-start="url(#ma24)" marker-mid="url(#ma24)" marker-end="url(#ma24)" fill="none" stroke="none"/><path d="M170.9 150.6L166.3 159.1L202.9 169.4L179.4 170.2L160.8 173.5L215.5 163.2L215.7 172.3L148.8 189.2L186.4 189.0L166.2 192.9L187.0 188.0L138.6 166.5L185.5 143.5" marker-start="url(#ma25)" marker-mid="url(#ma25)" marker-end="url(#ma25)" fill="none" stroke="none"/><path d="M211.3 168.0L216.4 164.8L194.1 177.7L215.2 185.7" marker-start="url(#ma26)" marker-mid="url(#ma26)" marker-end="url(#ma26)" fill="none" stroke="none"/><path d="M192.0 182.6" marker-start="url(#ma27)" marker-mid="url(#ma27)" marker-end="url(#ma27)" fill="none" stroke="none"/><path d="M190.9 175.7" marker-start="url(#ma28)" marker-mid="url(#ma28)" marker-end="url(#ma28)" fill="none" stroke="none"/><path d="M273.8 196.4L244.2 174.2L177.2 142.7L235.3 165.8" marker-start="url(#ma29)" marker-mid="url(#ma29)" marker-end="url(#ma29)" fill="none" stroke="none"/><path d="M124.4 188.8" marker-start="url(#ma3)" marker-mid="url(#ma3)" marker-end="url(#ma3)" fill="none" stroke="none"/><path d="M244.1 183.1L225.9 157.2L225.6 187.3L246.2 173.3L200.3 186.3L241.3 195.8" marker-start="url(#ma30)" marker-mid="url(#ma30)" marker-end="url(#ma30)" fill="none" stroke="none"/><path d="M240.9 160.0L263.8 174.3L249.8 187.0L223.2 179.3L261.5 175.5L265.9 180.2L248.1 163.3L203.4 163.0L243.2 185.8L258.7 173.2L267.1 156.3L240.9 190.3" marker-start="url(#ma31)" marker-mid="url(#ma31)" marker-end="url(#ma31)" fill="none" stroke="none"/><path d="M243.7 183.2L266.7 194.1L268.8 177.2L272.2 196.1L235.3 148.1L255.1 181.2L264.3 190.8L261.0 176.2L265.3 180.4L218.2 192.9L251.8 197.4L212.8 167.6L258.5 182.1L263.8 180.9L237.9 180.6L226.5 183.1L232.3 196.8L252.9 194.3L220.6 179.7L225.6 198.5L268.6 172.3L232.6 159.0L248.4 198.7L237.2 179.8" marker-start="url(#ma32)" marker-mid="url(#ma32)" marker-end="url(#ma32)" fill="none" stroke="none"/><path d="M274.3 183.1L133.2 197.3L221.1 190.6L264.4 183.7L227.8 180.1L232.6 183.7L250.8 191.6L280.9 201.0L246.7 191.0L237.5 170.8L132.7 101.4L253.9 153.9L236.6 173.5L241.8 187.7L250.4 199.6L255.9 176.8L251.0 186.5L258.8 175.2L241.0 174.3L227.8 176.5L260.7 184.8" marker-start="url(#ma33)" marker-mid="url(#ma33)" marker-end="url(#ma33)" fill="none" stroke="none"/><path d="M260.7 181.1L260.5 195.1L231.2 187.1L256.2 190.6L252.1 184.9L239.3 199.0L245.0 173.3L160.0 184.8" marker-start="url(#ma34)" marker-mid="url(#ma34)" marker-end="url(#ma34)" fill="none" stroke="none"/><path d="M260.1 187.9L234.5 180.5L229.7 194.5L263.1 187.1L143.2 111.4L236.9 205.5L240.9 190.5" marker-start="url(#ma35)" marker-mid="url(#ma35)" marker-end="url(#ma35)" fill="none" stroke="none"/><path d="M122.0 134.7L125.8 92.6L125.0 176.8" marker-start="url(#ma4)" marker-mid="url(#ma4)" marker-end="url(#ma4)" fill="none" stroke="none"/><path d="M122.1 99.0L85.2 192.1L84.2 192.3" marker-start="url(#ma6)" marker-mid="url(#ma6)" marker-end="url(#ma6)" fill="none" stroke="none"/><path d="M249.0 182.6L93.2 202.8L135.5 180.6L256.4 187.7L132.0 148.0" marker-start="url(#ma7)" marker-mid="url(#ma7)" marker-end="url(#ma7)" fill="none" stroke="none"/><path d="M117.9 143.7L109.3 172.4L92.8 192.8" marker-start="url(#ma8)" marker-mid="url(#ma8)" marker-end="url(#ma8)" fill="none" stroke="none"/><path d="M146.3 154.7L172.5 185.0L164.6 181.2L166.1 151.7L139.9 186.8L177.1 190.4L117.5 142.4L127.5 154.1L144.9 167.1L140.5 106.9L129.4 101.4L135.7 205.2L165.4 134.8L165.5 176.1L163.5 169.2L118.1 191.9L132.5 165.2L124.6 140.0L175.8 182.0" marker-start="url(#mag)" marker-mid="url(#mag)" marker-end="url(#mag)" fill="none" stroke="none"/><path d="M118.3 114.6L95.6 171.1L97.5 117.2L124.2 100.0" marker-start="url(#ma14)" marker-mid="url(#ma14)" marker-end="url(#ma14)" fill="none" stroke="none"/><path d="M111.3 126.0L117.8 168.8L110.9 152.3L129.2 143.4" marker-start="url(#ma15)" marker-mid="url(#ma15)" marker-end="url(#ma15)" fill="none" stroke="none"/><path d="M128.2 159.2L125.2 192.8L143.1 117.1L127.6 158.0L123.5 149.2L114.3 102.2L138.5 195.3L119.1 129.9L123.3 136.0L118.4 186.5L150.9 192.6L106.7 69.2L119.6 151.4L141.6 143.5L142.5 122.5" marker-start="url(#ma16)" marker-mid="url(#ma16)" marker-end="url(#ma16)" fill="none" stroke="none"/><path d="M132.0 118.7L118.3 163.7L114.0 174.6L149.7 118.1L117.3 161.7L118.6 136.6L137.0 119.4L96.8 119.0L117.9 171.6L155.4 188.3L131.1 126.6L132.5 179.9L152.8 168.6L115.5 211.7L118.3 189.4L117.4 108.8L116.1 167.5L119.9 138.2" marker-start="url(#ma17)" marker-mid="url(#ma17)" marker-end="url(#ma17)" fill="none" stroke="none"/><path d="M152.8 162.6L115.3 112.1L143.3 137.6L145.8 137.4L130.2 137.6L120.6 177.9L110.4 85.1L120.3 136.3L136.8 119.2L140.3 178.1L124.8 172.1L111.8 119.7L118.8 156.2L137.3 150.4L116.9 129.2L131.4 103.7L155.7 148.2L140.2 167.3L131.6 142.6L157.5 144.1L143.4 153.9L145.0 190.7L125.8 180.9L137.1 168.0L155.1 188.7L139.2 121.5L118.1 98.4L137.4 164.7L113.9 105.1L123.7 159.1L155.9 195.9L115.8 155.9" marker-start="url(#ma18)" marker-mid="url(#ma18)" marker-end="url(#ma18)" fill="none" stroke="none"/><path d="M128.6 163.9L155.3 199.5L127.1 147.2L135.0 191.7L149.5 142.3L129.3 142.6L140.8 179.5L174.5 183.3L122.4 121.1L126.7 184.1L131.3 162.9L121.0 181.3L132.3 109.9L146.2 127.1L147.8 146.3L154.2 134.7L137.7 129.9L141.2 182.2L120.7 189.7L161.6 153.3L130.5 184.2L116.8 111.5L128.8 135.7L129.1 113.3L150.2 149.6L136.2 172.6L146.6 188.3L122.5 93.7L176.2 196.7L151.0 174.2L112.3 173.1L145.3 182.4L140.8 146.5L132.2 99.2L140.5 193.4L140.3 107.0L131.9 176.7" marker-start="url(#ma19)" marker-mid="url(#ma19)" marker-end="url(#ma19)" fill="none" stroke="none"/><path d="M104.5 202.8" marker-start="url(#ma2)" marker-mid="url(#ma2)" marker-end="url(#ma2)" fill="none" stroke="none"/><path d="M128.2 123.2L129.5 185.3L132.5 124.6L146.7 182.6L125.9 122.7L157.1 192.2L118.0 153.0L115.9 162.2L130.2 96.2L113.5 144.4L150.2 191.5L167.2 152.1L124.6 142.0L143.5 122.0L152.0 130.9L129.9 128.2L129.9 124.9L119.4 160.2L151.3 134.2L128.7 100.8L170.0 164.1L144.8 202.8L197.2 164.8L167.4 208.9L175.8 184.5L150.2 202.8L157.2 187.7L145.0 146.9L204.9 186.8L151.0 140.7" marker-start="url(#ma20)" marker-mid="url(#ma20)" marker-end="url(#ma20)" fill="none" stroke="none"/><path d="M175.6 167.5L132.5 172.6L122.7 185.1L156.3 211.7L165.6 166.3L154.9 149.8L172.6 208.8L197.6 186.4L133.3 116.3L156.9 128.1L155.7 104.7L174.3 164.3L132.8 185.7L207.7 164.7L172.9 170.6L174.4 130.9L146.0 134.7L156.5 168.9L155.4 143.9L134.5 168.7L145.3 193.8" marker-start="url(#ma21)" marker-mid="url(#ma21)" marker-end="url(#ma21)" fill="none" stroke="none"/><path d="M178.7 168.7L133.2 120.5L195.8 176.6L175.8 183.2L177.3 179.6L152.0 147.0L121.3 114.9L159.8 165.6L144.2 134.4L190.4 168.1L150.2 176.5L158.4 148.6L128.4 131.0L209.6 173.3L143.6 177.2L158.5 156.8L171.8 181.6L154.4 141.7L142.2 211.7L160.4 190.4L155.9 190.8L166.3 181.4L138.7 158.1L155.8 134.2L166.3 177.1L161.2 166.0L152.0 174.3" marker-start="url(#ma22)" marker-mid="url(#ma22)" marker-end="url(#ma22)" fill="none" stroke="none"/><path d="M167.9 191.3L176.0 175.1L136.8 166.2L206.8 171.1L158.3 154.4L193.2 185.5L149.1 156.7L164.9 130.1L201.6 206.0L129.8 115.1L205.8 182.4L172.2 165.5L164.6 143.9L144.9 182.7L186.0 170.7" marker-start="url(#ma23)" marker-mid="url(#ma23)" marker-end="url(#ma23)" fill="none" stroke="none"/><path d="M182.4 171.7L183.8 182.2L132.9 185.8L165.6 141.4L172.3 187.6L187.6 209.9L171.6 160.1L203.5 176.9L189.1 195.8L193.6 176.8" marker-start="url(#ma24)" marker-mid="url(#ma24)" marker-end="url(#ma24)" fill="none" stroke="none"/><path d="M166.8 137.0L215.8 208.4L173.2 195.9L196.9 165.2L185.6 175.1L203.5 179.8L199.8 189.0L183.6 169.6L161.4 190.1L181.7 166.7L189.0 158.3L169.1 148.6" marker-start="url(#ma25)" marker-mid="url(#ma25)" marker-end="url(#ma25)" fill="none" stroke="none"/><path d="M201.1 165.4L178.7 189.1L182.3 198.0L214.8 170.1L219.2 189.0" marker-start="url(#ma26)" marker-mid="url(#ma26)" marker-end="url(#ma26)" fill="none" stroke="none"/><path d="M198.1 183.6L219.7 153.5L195.5 171.8L212.6 172.5" marker-start="url(#ma27)" marker-mid="url(#ma27)" marker-end="url(#ma27)" fill="none" stroke="none"/><path d="M189.0 172.7L212.8 175.8" marker-start="url(#ma28)" marker-mid="url(#ma28)" marker-end="url(#ma28)" fill="none" stroke="none"/><path d="M264.7 188.2" marker-start="url(#ma29)" marker-mid="url(#ma29)" marker-end="url(#ma29)" fill="none" stroke="none"/><path d="M189.8 175.2L245.4 181.3L250.7 183.0L214.4 158.1L220.7 169.9" marker-start="url(#ma30)" marker-mid="url(#ma30)" marker-end="url(#ma30)" fill="none" stroke="none"/><path d="M255.5 176.5L271.9 172.5L229.6 180.2L243.6 187.5L267.8 178.5L234.0 138.5L246.9 181.7L248.2 173.5L261.5 174.9L267.1 193.1L262.2 182.9L264.7 194.7L248.4 179.0" marker-start="url(#ma31)" marker-mid="url(#ma31)" marker-end="url(#ma31)" fill="none" stroke="none"/><path d="M230.3 172.4L256.4 164.6L245.8 193.2L244.7 178.7L249.8 177.2L243.5 176.4L254.2 191.2L251.6 192.1L232.3 197.7L247.2 193.5L238.1 179.3L258.6 190.9L227.0 162.1L232.3 184.9L255.9 160.6L226.0 194.0L254.7 177.9L225.8 182.2L219.5 169.0L237.2 190.2L237.7 170.8L234.0 174.5" marker-start="url(#ma32)" marker-mid="url(#ma32)" marker-end="url(#ma32)" fill="none" stroke="none"/><path d="M254.9 185.4L234.0 173.8L239.3 153.3L260.8 192.5L227.6 201.8L261.4 189.9L224.1 193.5L252.3 185.0L255.8 171.5L241.0 188.5L255.0 185.9L145.6 177.5L242.9 181.6L226.2 148.1L261.2 199.5L162.4 167.9L244.8 198.8L263.6 171.0L257.9 177.4L266.3 184.5L266.8 187.3L245.9 184.2L222.7 157.3" marker-start="url(#ma33)" marker-mid="url(#ma33)" marker-end="url(#ma33)" fill="none" stroke="none"/><path d="M238.3 200.4L251.6 155.9L261.3 199.3L227.6 197.6L238.2 173.0L223.9 177.6L235.8 186.3L242.1 193.8L245.7 189.0" marker-start="url(#ma34)" marker-mid="url(#ma34)" marker-end="url(#ma34)" fill="none" stroke="none"/><path d="M247.2 189.8L167.3 188.9L231.6 196.2L248.3 177.9L242.6 161.2L128.1 103.7L236.2 190.9" marker-start="url(#ma35)" marker-mid="url(#ma35)" marker-end="url(#ma35)" fill="none" stroke="none"/><path d="M134.4 164.8" marker-start="url(#ma4)" marker-mid="url(#ma4)" marker-end="url(#ma4)" fill="none" stroke="none"/><path d="M108.7 190.1L105.7 154.8L111.4 189.9" marker-start="url(#ma5)" marker-mid="url(#ma5)" marker-end="url(#ma5)" fill="none" stroke="none"/><path d="M176.7 142.0L93.0 177.1L126.1 134.0L93.5 161.7" marker-start="url(#ma6)" marker-mid="url(#ma6)" marker-end="url(#ma6)" fill="none" stroke="none"/><path d="M159.0 190.1" marker-start="url(#ma7)" marker-mid="url(#ma7)" marker-end="url(#ma7)" fill="none" stroke="none"/><path d="M197.6 182.6L168.3 158.8L147.3 179.9" marker-start="url(#ma8)" marker-mid="url(#ma8)" marker-end="url(#ma8)" fill="none" stroke="none"/><path d="M128.3 181.8L130.8 175.7L156.0 152.6L154.4 141.4L138.6 198.1L127.0 170.1L166.2 201.0L115.1 177.1L140.7 181.4L156.9 185.4L127.4 180.4L132.2 195.2L114.5 122.4L128.3 97.3L132.6 127.7L163.1 169.4L154.3 179.9L136.8 106.9L170.6 128.4L130.0 134.7" marker-start="url(#mag)" marker-mid="url(#mag)" marker-end="url(#mag)" fill="none" stroke="none"/><path d="M116.5 161.9L114.7 178.7L151.0 174.2" marker-start="url(#mak)" marker-mid="url(#mak)" marker-end="url(#mak)" fill="none" stroke="none"/></g>
<path d="M74.77 234.50v-4.2M97.45 234.50v-2.2M120.12 234.50v-4.2M142.79 234.50v-2.2M165.46 234.50v-4.2M188.14 234.50v-2.2M210.81 234.50v-4.2M233.48 234.50v-2.2M256.15 234.50v-4.2M278.83 234.50v-2.2M301.50 234.50v-4.2M52.10 234.50h2.2M52.10 212.17h4.2M52.10 189.83h2.2M52.10 167.50h4.2M52.10 145.17h2.2M52.10 122.83h4.2M52.10 100.50h2.2M52.10 78.17h4.2M52.10 55.83h2.2M52.10 33.50h4.2" stroke="#000" stroke-width="1.4" fill="none"/>
<rect x="52.10" y="33.50" width="249.40" height="201.00" fill="none" stroke="#000" stroke-width="1.9"/>
<text x="74.77" y="250.30" font-size="13.8" text-anchor="middle">0</text>
<text x="120.12" y="250.30" font-size="13.8" text-anchor="middle">1000</text>
<text x="165.46" y="250.30" font-size="13.8" text-anchor="middle">2000</text>
<text x="210.81" y="250.30" font-size="13.8" text-anchor="middle">3000</text>
<text x="256.15" y="250.30" font-size="13.8" text-anchor="middle">4000</text>
<text x="301.50" y="250.30" font-size="13.8" text-anchor="middle">5000</text>
<text x="47.20" y="216.67" font-size="13.8" text-anchor="end">0</text>
<text x="47.20" y="172.00" font-size="13.8" text-anchor="end">200</text>
<text x="47.20" y="127.33" font-size="13.8" text-anchor="end">400</text>
<text x="47.20" y="82.67" font-size="13.8" text-anchor="end">600</text>
<text x="47.20" y="38.00" font-size="13.8" text-anchor="end">800</text>
<text x="3.00" y="18.80" font-size="25">(</text><text x="13.25" y="18.80" font-size="25">a</text><text x="25.80" y="18.80" font-size="25">)</text>
<g transform="translate(16.10 175.30) rotate(-90)"><text x="-0.20" y="0.00" font-size="19" font-style="italic">d</text><text x="9.60" y="3.60" font-size="11.5">33</text><text x="21.00" y="0.00" font-size="19"> (pC N</text><text x="74.80" y="-7.60" font-size="11.5">-1</text><text x="84.20" y="0.00" font-size="19">)</text></g>
<g transform="translate(0.00 0.00)"><text x="41.15" y="276.00" font-size="21.5" font-style="italic">D</text><text x="59.16" y="264.90" font-size="10">4</text><text x="57.00" y="280.00" font-size="12.3">simp</text><text x="82.60" y="276.00" font-size="21">:</text><text x="94.80" y="276.00" font-size="20">e</text><text x="104.00" y="267.20" font-size="14">(</text><text x="108.30" y="266.60" font-size="13" font-style="italic">NM</text><text x="130.00" y="271.70" font-size="8.5">B</text><text x="135.50" y="266.60" font-size="13">-</text><text x="139.10" y="266.60" font-size="13" font-style="italic">MV</text><text x="159.90" y="271.70" font-size="8.5">B</text><text x="170.80" y="267.60" font-size="14.5">)</text><text x="177.40" y="276.00" font-size="21">·</text><text x="184.40" y="276.00" font-size="21" font-style="italic">ST/(ID</text><text x="246.70" y="282.60" font-size="12">A</text><text x="255.60" y="276.00" font-size="21">)</text><text x="262.40" y="268.70" font-size="13">2</text></g>
<rect x="305.90" y="40.10" width="15.50" height="11.44" fill="#4d72b8"/>
<rect x="305.90" y="51.14" width="15.50" height="11.44" fill="#547eb3"/>
<rect x="305.90" y="62.18" width="15.50" height="11.44" fill="#5a87ae"/>
<rect x="305.90" y="73.22" width="15.50" height="11.44" fill="#618ea9"/>
<rect x="305.90" y="84.26" width="15.50" height="11.44" fill="#6993a2"/>
<rect x="305.90" y="95.31" width="15.50" height="11.44" fill="#73999a"/>
<rect x="305.90" y="106.35" width="15.50" height="11.44" fill="#7fa090"/>
<rect x="305.90" y="117.39" width="15.50" height="11.44" fill="#8ca686"/>
<rect x="305.90" y="128.43" width="15.50" height="11.44" fill="#98aa7a"/>
<rect x="305.90" y="139.47" width="15.50" height="11.44" fill="#a0ae72"/>
<rect x="305.90" y="150.51" width="15.50" height="11.44" fill="#a9b26a"/>
<rect x="305.90" y="161.55" width="15.50" height="11.44" fill="#b2b863"/>
<rect x="305.90" y="172.59" width="15.50" height="11.44" fill="#bcbe5c"/>
<rect x="305.90" y="183.64" width="15.50" height="11.44" fill="#c5c357"/>
<rect x="305.90" y="194.68" width="15.50" height="11.44" fill="#cdca52"/>
<rect x="305.90" y="205.72" width="15.50" height="11.44" fill="#d5d24d"/>
<rect x="305.90" y="216.76" width="15.50" height="11.44" fill="#dcdb4a"/>
<rect x="305.90" y="34.70" width="15.50" height="5.40" fill="#000"/>
<rect x="305.90" y="227.80" width="15.50" height="6.20" fill="#c8c8cc"/>
<text x="327.30" y="44.70" font-size="12.6">6.3</text>
<text x="327.30" y="68.10" font-size="12.6">6.2</text>
<text x="327.30" y="91.50" font-size="12.6">6.1</text>
<text x="327.30" y="114.90" font-size="12.6">6.0</text>
<text x="327.30" y="138.30" font-size="12.6">5.9</text>
<text x="327.30" y="161.70" font-size="12.6">5.8</text>
<text x="327.30" y="185.10" font-size="12.6">5.7</text>
<text x="327.30" y="208.50" font-size="12.6">5.6</text>
<text x="327.30" y="231.90" font-size="12.6">5.5</text>
<path d="M321.40 40.30h3.8M321.40 63.70h3.8M321.40 87.10h3.8M321.40 110.50h3.8M321.40 133.90h3.8M321.40 157.30h3.8M321.40 180.70h3.8M321.40 204.10h3.8M321.40 227.50h3.8" stroke="#222" stroke-width="1.1" fill="none"/>
<text x="302.90" y="28.00" font-size="11.8" font-style="italic">NM</text>
<text x="323.60" y="31.00" font-size="8">B</text>
<g clip-path="url(#clipLc)"><path d="M216.7 452.1L172.0 443.9L200.6 459.7L216.5 433.5L225.1 445.4L162.1 437.5" marker-start="url(#mc10)" marker-mid="url(#mc10)" marker-end="url(#mc10)" fill="none" stroke="none"/><path d="M176.1 441.7L189.6 451.0L163.1 400.9L198.8 470.6L198.8 437.2L167.4 446.9L199.9 444.5L171.6 451.0L190.2 445.3L208.2 441.9L170.5 444.1L175.5 466.0L181.9 447.3L176.2 453.8" marker-start="url(#mc11)" marker-mid="url(#mc11)" marker-end="url(#mc11)" fill="none" stroke="none"/><path d="M167.0 401.4L153.1 459.5L182.3 468.6L170.5 452.3L174.8 424.5L200.5 451.5L191.2 446.8L192.6 451.8L188.0 440.0L144.8 453.7L195.1 447.8L178.7 453.4L194.4 454.3" marker-start="url(#mc12)" marker-mid="url(#mc12)" marker-end="url(#mc12)" fill="none" stroke="none"/><path d="M181.0 442.6L158.2 431.6L166.5 444.9L193.7 426.4L133.9 430.6L174.7 426.4L170.3 461.7L202.0 471.2L167.4 423.7L172.0 416.1L122.2 446.0L180.7 470.3L162.6 442.9L190.2 431.3" marker-start="url(#mc13)" marker-mid="url(#mc13)" marker-end="url(#mc13)" fill="none" stroke="none"/><path d="M154.2 454.9L168.1 429.5L179.5 456.4L173.0 413.2L185.4 437.5L163.4 473.1L153.8 450.1L179.4 408.0L155.2 481.9L185.4 440.8L160.7 410.2" marker-start="url(#mc14)" marker-mid="url(#mc14)" marker-end="url(#mc14)" fill="none" stroke="none"/><path d="M173.0 481.9L166.3 412.8L173.3 423.2L159.9 448.8L172.0 425.2L149.0 426.5L165.1 467.2L188.9 458.5L172.7 443.3L169.9 419.1L176.8 423.1L151.6 445.7L165.5 395.1L168.4 464.8L135.1 446.3" marker-start="url(#mc15)" marker-mid="url(#mc15)" marker-end="url(#mc15)" fill="none" stroke="none"/><path d="M142.0 415.2L137.6 433.8L165.3 440.3L156.1 435.4L157.2 449.5L160.4 450.8L140.4 387.2L140.4 478.5L161.9 395.5L120.1 441.4L161.1 457.3L140.8 468.1L133.4 415.2L167.7 454.7L157.1 436.1L138.8 404.4L137.9 392.5L161.4 447.5L126.6 408.6L148.5 401.7L132.9 421.7L154.2 463.3L122.3 452.1L137.8 455.2L133.4 376.5" marker-start="url(#mc16)" marker-mid="url(#mc16)" marker-end="url(#mc16)" fill="none" stroke="none"/><path d="M127.1 471.4L177.0 436.0L130.6 398.3L161.8 394.4L149.6 443.1L119.2 364.8L162.4 419.3L144.1 442.2L142.8 406.5L175.6 420.9L157.3 449.9L136.6 457.4L160.4 406.3L137.5 422.2L146.2 445.9L152.0 453.0L147.0 394.0L138.8 454.3L144.4 417.0L130.7 381.8L153.5 450.7L134.9 444.2L149.4 448.9L139.6 434.0L164.0 425.8L124.5 415.6" marker-start="url(#mc17)" marker-mid="url(#mc17)" marker-end="url(#mc17)" fill="none" stroke="none"/><path d="M131.9 422.7L123.8 364.0L152.4 410.5L139.9 443.8L155.6 429.0L175.4 423.1L127.2 423.1L157.7 457.3L142.3 415.4L115.2 421.9L131.8 401.5L155.9 445.6L119.8 374.8L123.8 385.8L139.9 374.8L113.7 449.6L127.9 373.6" marker-start="url(#mc18)" marker-mid="url(#mc18)" marker-end="url(#mc18)" fill="none" stroke="none"/><path d="M118.7 406.0L120.1 373.4L128.9 413.4L118.0 466.2L164.8 429.2L147.2 445.3L129.7 390.7L140.0 371.6L148.8 412.3L117.8 426.6L148.9 439.1L118.2 451.0L115.9 461.5L129.6 437.2L158.3 398.4L117.9 427.9L124.8 481.9L154.9 426.3" marker-start="url(#mc19)" marker-mid="url(#mc19)" marker-end="url(#mc19)" fill="none" stroke="none"/><path d="M121.1 452.3L128.7 426.0L124.0 439.6L134.5 473.1L116.3 414.8L122.2 369.2L124.9 419.9L144.2 452.0L127.8 379.1L135.2 450.6L122.2 481.9L131.8 456.6L125.8 420.4L139.1 419.8L139.8 452.8L139.9 403.6L137.6 441.6L136.3 398.0L138.4 382.2L160.2 431.5L121.4 391.3L150.0 397.1L130.6 437.2" marker-start="url(#mc20)" marker-mid="url(#mc20)" marker-end="url(#mc20)" fill="none" stroke="none"/><path d="M141.6 432.0L140.3 433.9L115.5 442.1L105.5 352.9L151.1 402.8L117.9 401.9L163.2 412.0L112.6 473.1L125.0 452.3L117.1 384.9L91.8 445.2L121.9 386.6L124.0 376.5L119.1 372.4L121.0 412.2L147.6 408.4" marker-start="url(#mc21)" marker-mid="url(#mc21)" marker-end="url(#mc21)" fill="none" stroke="none"/><path d="M139.2 402.1L128.9 389.1L130.1 385.5L140.4 400.7L123.9 392.4L124.3 424.7L128.7 453.2L132.1 410.8" marker-start="url(#mc22)" marker-mid="url(#mc22)" marker-end="url(#mc22)" fill="none" stroke="none"/><path d="M93.3 481.9L128.1 387.5L121.4 407.2L130.9 453.4L126.8 363.0L123.3 381.8L123.5 436.2L116.9 474.6L126.3 397.9" marker-start="url(#mc23)" marker-mid="url(#mc23)" marker-end="url(#mc23)" fill="none" stroke="none"/><path d="M103.6 383.2L136.5 383.1L137.8 389.2L118.3 375.9L120.7 381.4" marker-start="url(#mc24)" marker-mid="url(#mc24)" marker-end="url(#mc24)" fill="none" stroke="none"/><path d="M141.8 384.6L118.0 428.4L122.7 377.1L111.4 334.6L131.1 385.8L127.4 388.4L112.1 346.1L96.7 442.3L134.0 440.2L104.1 357.3" marker-start="url(#mc25)" marker-mid="url(#mc25)" marker-end="url(#mc25)" fill="none" stroke="none"/><path d="M102.3 432.0L127.2 375.6" marker-start="url(#mc26)" marker-mid="url(#mc26)" marker-end="url(#mc26)" fill="none" stroke="none"/><path d="M118.8 432.9" marker-start="url(#mc27)" marker-mid="url(#mc27)" marker-end="url(#mc27)" fill="none" stroke="none"/><path d="M91.4 441.4L94.9 468.0L102.4 434.1L105.2 477.4" marker-start="url(#mc32)" marker-mid="url(#mc32)" marker-end="url(#mc32)" fill="none" stroke="none"/><path d="M109.6 463.9L110.3 459.0L120.2 428.4" marker-start="url(#mc33)" marker-mid="url(#mc33)" marker-end="url(#mc33)" fill="none" stroke="none"/><path d="M106.8 474.9L151.9 481.5" marker-start="url(#mc34)" marker-mid="url(#mc34)" marker-end="url(#mc34)" fill="none" stroke="none"/><path d="M260.1 464.4L99.1 428.3" marker-start="url(#mc35)" marker-mid="url(#mc35)" marker-end="url(#mc35)" fill="none" stroke="none"/><path d="M240.8 454.0L227.7 455.3L249.9 456.3L247.3 449.6L245.3 467.0L232.3 464.7L253.7 460.5L261.4 449.3L269.3 449.5L240.6 464.6L264.5 467.4L222.8 440.5L257.2 440.1L252.4 463.2L266.3 468.7L213.1 450.5L224.4 443.0L264.7 455.4L246.1 460.6L235.2 451.5L252.5 434.6L222.5 464.1L239.2 447.0L233.5 445.0L274.2 456.4L249.2 447.6L270.8 457.2L224.5 457.5L259.3 464.1L211.5 476.0L262.0 459.6L261.7 449.4L219.1 411.8L244.2 443.6L255.6 467.2L237.0 465.1L229.9 463.6L241.9 442.4L258.7 457.0L250.1 442.7L267.5 445.4L258.1 458.8L209.0 437.3L224.3 460.0L270.2 444.7L226.5 463.9L265.7 457.2L265.5 450.3L248.6 420.6L226.9 464.8L257.1 453.0L231.8 421.0L257.4 428.3L266.6 448.9L258.2 458.3L236.3 473.5L263.5 458.0L265.5 459.2L250.1 460.5L228.7 471.5L237.4 432.7L233.3 429.7L256.4 464.3L267.9 418.1L267.5 446.2" marker-start="url(#mc5)" marker-mid="url(#mc5)" marker-end="url(#mc5)" fill="none" stroke="none"/><path d="M232.3 447.0L206.1 474.8L192.8 452.2L203.7 449.4L208.5 465.7L233.1 445.8L222.5 453.9L187.2 436.5L230.0 467.1" marker-start="url(#mc6)" marker-mid="url(#mc6)" marker-end="url(#mc6)" fill="none" stroke="none"/><path d="M209.8 444.8L193.2 439.1L226.1 465.1L237.2 467.4L194.4 454.8L224.4 450.1L227.7 427.4L241.1 459.7L244.9 457.3L209.9 446.3L202.1 442.5" marker-start="url(#mc7)" marker-mid="url(#mc7)" marker-end="url(#mc7)" fill="none" stroke="none"/><path d="M180.8 430.8L196.8 456.0L180.6 449.6L199.0 438.7L220.2 444.1L223.8 455.8L197.8 438.5L240.6 467.2L219.7 442.0L198.7 450.4" marker-start="url(#mc8)" marker-mid="url(#mc8)" marker-end="url(#mc8)" fill="none" stroke="none"/><path d="M198.1 439.0L184.2 471.7L206.7 453.6L199.8 457.2L180.1 401.9L203.6 443.5L189.2 466.7L233.4 450.7L194.7 452.3L234.2 408.9L207.0 457.3" marker-start="url(#mc9)" marker-mid="url(#mc9)" marker-end="url(#mc9)" fill="none" stroke="none"/><path d="M180.8 441.0L193.7 453.1L147.7 424.7L193.2 453.3L193.8 457.0L188.5 448.2L158.4 457.7L195.2 448.4L157.8 463.8L192.1 446.4L173.1 425.4L188.2 458.6L169.4 407.1" marker-start="url(#mc10)" marker-mid="url(#mc10)" marker-end="url(#mc10)" fill="none" stroke="none"/><path d="M203.9 440.2L196.2 441.6L166.9 481.9L182.3 440.8L175.6 459.8L177.6 413.6L204.4 433.9L188.8 447.5L167.0 406.2L154.6 454.7L167.3 414.3L186.8 414.7L175.0 441.8" marker-start="url(#mc11)" marker-mid="url(#mc11)" marker-end="url(#mc11)" fill="none" stroke="none"/><path d="M163.4 407.4L173.7 458.6L167.0 446.8L181.0 447.3L167.8 463.4L178.3 417.2L161.7 455.4" marker-start="url(#mc12)" marker-mid="url(#mc12)" marker-end="url(#mc12)" fill="none" stroke="none"/><path d="M166.1 458.5L168.6 420.3L169.3 437.3L171.7 459.8L124.3 462.7L166.7 440.4L176.2 444.8L165.8 445.9L173.7 457.5L164.3 442.3L146.1 440.7L142.3 437.6" marker-start="url(#mc13)" marker-mid="url(#mc13)" marker-end="url(#mc13)" fill="none" stroke="none"/><path d="M158.2 446.4L158.5 459.0L136.3 452.6L174.0 455.5L141.7 434.7L167.5 427.6L208.1 416.8L175.3 467.2L157.0 438.8L150.9 402.3L190.6 444.7L185.1 438.1L141.5 433.6L167.7 408.0L148.4 459.3L166.1 395.3L148.3 469.1L175.3 395.7L140.1 468.5L161.5 449.3L162.1 429.5L172.1 452.1L141.7 457.1" marker-start="url(#mc14)" marker-mid="url(#mc14)" marker-end="url(#mc14)" fill="none" stroke="none"/><path d="M167.8 430.1L163.0 409.7L151.8 429.7L162.5 444.2L137.4 408.5L152.7 468.0L146.7 438.0L150.2 430.3L150.6 459.7L137.7 475.4L134.4 399.6L171.3 455.3L150.3 405.4L171.1 420.8L117.7 436.2L127.3 451.7L134.1 419.2L163.5 436.7L177.3 452.7L155.0 459.8" marker-start="url(#mc15)" marker-mid="url(#mc15)" marker-end="url(#mc15)" fill="none" stroke="none"/><path d="M145.4 454.6L141.6 405.1L167.7 422.9L177.5 419.6L164.8 416.0L163.4 449.4L147.7 447.8L126.6 459.4L166.7 414.3L166.9 473.1L139.6 429.6L145.1 383.2L140.3 432.8L172.0 398.8L191.3 452.5L140.4 441.7L157.7 471.5" marker-start="url(#mc16)" marker-mid="url(#mc16)" marker-end="url(#mc16)" fill="none" stroke="none"/><path d="M170.9 437.9L148.2 425.8L166.2 451.8L135.3 467.7L131.1 436.7L148.1 414.7L129.7 425.2L135.9 436.6L149.2 427.6L162.8 450.5L142.5 378.7L133.5 426.3L148.9 469.9L165.5 398.0L163.8 407.5L123.0 405.0L136.1 403.1L137.4 447.6L153.5 418.4L165.1 425.5L167.4 450.8L140.6 437.4L129.2 440.5L153.4 469.8" marker-start="url(#mc17)" marker-mid="url(#mc17)" marker-end="url(#mc17)" fill="none" stroke="none"/><path d="M128.4 418.5L174.2 411.8L138.3 399.9L134.6 436.1L139.6 417.3L141.9 421.3L143.6 393.1L123.1 471.7L126.8 411.3L121.3 443.9" marker-start="url(#mc18)" marker-mid="url(#mc18)" marker-end="url(#mc18)" fill="none" stroke="none"/><path d="M172.4 421.7L138.3 380.2L127.5 411.6L120.2 414.9L132.5 446.4L141.9 457.3L127.7 436.8L144.5 385.8L119.8 413.6L134.0 425.3L149.1 425.3L127.4 462.9L132.4 375.7L136.7 440.5L137.0 368.1L138.0 388.6L121.1 431.6L138.1 437.2L127.2 447.5" marker-start="url(#mc19)" marker-mid="url(#mc19)" marker-end="url(#mc19)" fill="none" stroke="none"/><path d="M127.9 456.1L119.7 454.0L134.7 424.8L130.6 400.0L137.5 420.6L123.4 423.8L121.2 414.5L132.7 362.2L118.2 426.8L125.1 455.0L132.0 408.6L135.2 394.9L151.7 424.9L167.9 434.3L121.3 430.2L120.9 447.6" marker-start="url(#mc20)" marker-mid="url(#mc20)" marker-end="url(#mc20)" fill="none" stroke="none"/><path d="M140.6 408.2L129.5 368.6L138.1 400.8L121.1 371.5L123.6 375.9L135.2 354.6L159.0 394.2L124.3 406.1L140.7 393.7L140.6 414.5L117.8 405.2L137.5 451.3L125.3 347.6L127.0 379.7L120.9 388.5" marker-start="url(#mc21)" marker-mid="url(#mc21)" marker-end="url(#mc21)" fill="none" stroke="none"/><path d="M131.9 410.8L120.3 424.6L124.9 397.9L143.3 415.5L117.7 409.8L139.5 405.2L119.8 423.8L131.6 373.3L120.4 433.6L124.0 440.6L120.4 462.3L151.2 410.9L87.0 462.8L119.8 396.3L113.6 462.9L124.1 473.6L107.7 357.7" marker-start="url(#mc22)" marker-mid="url(#mc22)" marker-end="url(#mc22)" fill="none" stroke="none"/><path d="M125.7 425.5L106.3 353.8L126.1 363.0L123.7 362.6L116.7 435.6" marker-start="url(#mc23)" marker-mid="url(#mc23)" marker-end="url(#mc23)" fill="none" stroke="none"/><path d="M143.3 432.2L101.9 363.4L130.6 382.4L118.0 377.3L119.3 414.7L124.0 403.8L134.8 373.3L107.1 472.8L123.6 434.1L128.7 402.5" marker-start="url(#mc24)" marker-mid="url(#mc24)" marker-end="url(#mc24)" fill="none" stroke="none"/><path d="M111.8 443.2L124.3 370.9L116.3 381.8L129.2 451.4L122.2 384.4L131.8 404.6L105.1 349.8" marker-start="url(#mc25)" marker-mid="url(#mc25)" marker-end="url(#mc25)" fill="none" stroke="none"/><path d="M79.0 429.1L104.5 360.3L128.0 364.6L113.9 374.6" marker-start="url(#mc26)" marker-mid="url(#mc26)" marker-end="url(#mc26)" fill="none" stroke="none"/><path d="M117.0 449.4" marker-start="url(#mc27)" marker-mid="url(#mc27)" marker-end="url(#mc27)" fill="none" stroke="none"/><path d="M260.9 451.7L235.1 451.2L160.2 448.6L104.8 431.0L95.9 473.1L88.0 462.5L110.8 481.9L95.4 463.2L97.9 427.5L155.8 464.4L155.3 435.7" marker-start="url(#mc32)" marker-mid="url(#mc32)" marker-end="url(#mc32)" fill="none" stroke="none"/><path d="M165.5 421.9L254.2 425.0L165.1 440.0" marker-start="url(#mc33)" marker-mid="url(#mc33)" marker-end="url(#mc33)" fill="none" stroke="none"/><path d="M123.4 367.9" marker-start="url(#mc34)" marker-mid="url(#mc34)" marker-end="url(#mc34)" fill="none" stroke="none"/><path d="M128.4 450.3L158.4 404.0L104.5 465.6L194.7 438.7L148.3 442.1" marker-start="url(#mc35)" marker-mid="url(#mc35)" marker-end="url(#mc35)" fill="none" stroke="none"/><path d="M217.5 443.9L241.3 431.0L263.8 445.1L273.7 466.8L250.1 457.6L244.1 453.8L266.8 464.6L268.8 447.9L272.1 466.5L274.3 453.8L255.4 451.9L221.8 461.1L260.6 465.5L231.8 457.7L264.4 461.3L264.5 454.3L256.4 461.1L261.1 446.9L252.4 455.5L261.7 446.2L244.5 445.0L265.3 451.1L218.9 463.4L228.4 450.8L266.0 450.9L263.2 457.6L233.1 454.3L216.3 434.1L251.1 462.1L252.0 467.8L280.7 471.3L216.5 443.1L247.0 461.5L249.3 453.2L248.4 434.2L258.7 452.8L263.9 451.6L226.2 457.9L238.3 451.2L227.2 453.8L237.1 444.2L246.5 444.1L256.6 458.3L243.6 456.4L253.2 464.8L242.3 458.3L226.3 468.9L241.7 466.2L237.4 475.7L268.6 443.1L250.7 469.9L258.9 444.0L267.1 427.4L241.4 460.8L248.7 469.1L256.1 447.5L237.6 450.5L251.3 457.0L259.0 446.0L241.5 445.1L241.3 461.0L260.8 455.3" marker-start="url(#mc5)" marker-mid="url(#mc5)" marker-end="url(#mc5)" fill="none" stroke="none"/><path d="M244.4 453.7L221.3 450.4L228.4 447.3L216.0 456.3" marker-start="url(#mc6)" marker-mid="url(#mc6)" marker-end="url(#mc6)" fill="none" stroke="none"/><path d="M260.2 458.5L223.9 450.0L184.7 417.0L230.3 464.9L238.0 441.6L239.8 469.4L226.5 428.2L232.8 467.2L215.2 440.6" marker-start="url(#mc7)" marker-mid="url(#mc7)" marker-end="url(#mc7)" fill="none" stroke="none"/><path d="M214.6 440.6L235.8 419.2L208.6 464.4L217.2 435.7L200.3 436.8L208.5 447.9L169.9 439.6L235.8 436.7L201.3 456.8L245.4 444.1L233.1 430.0" marker-start="url(#mc8)" marker-mid="url(#mc8)" marker-end="url(#mc8)" fill="none" stroke="none"/><path d="M178.5 460.9L194.3 446.4L173.7 453.9L212.2 438.8L178.6 413.9L177.6 405.9L187.7 459.5L203.8 448.6L213.6 438.5L206.7 452.5" marker-start="url(#mc9)" marker-mid="url(#mc9)" marker-end="url(#mc9)" fill="none" stroke="none"/><path d="M177.2 453.9L158.6 455.9L198.7 456.9L200.8 459.5L146.7 473.1L167.8 452.0L190.2 429.3L204.5 447.6L187.3 441.5" marker-start="url(#mc10)" marker-mid="url(#mc10)" marker-end="url(#mc10)" fill="none" stroke="none"/><path d="M174.7 466.3L186.9 445.9L199.1 454.2L194.4 456.0L191.6 438.9L198.7 453.2L163.0 460.6L175.7 435.2L248.7 449.7" marker-start="url(#mc11)" marker-mid="url(#mc11)" marker-end="url(#mc11)" fill="none" stroke="none"/><path d="M177.4 445.8L145.2 408.9L140.5 465.8L180.0 459.6L160.6 460.6L196.6 442.6L164.7 440.2L169.9 429.8L213.4 443.3L158.9 458.3L158.2 439.8" marker-start="url(#mc12)" marker-mid="url(#mc12)" marker-end="url(#mc12)" fill="none" stroke="none"/><path d="M168.4 408.4L169.4 461.8L180.1 439.5L202.1 436.3L190.2 443.5L168.9 459.5L167.7 471.3L191.0 445.9L175.9 453.9L178.7 450.3L178.1 413.2L152.0 462.0L142.2 438.2L157.4 376.6L157.6 461.3L177.2 455.1L152.0 473.1L174.4 441.4L167.9 447.8L190.3 466.2L205.9 457.4" marker-start="url(#mc13)" marker-mid="url(#mc13)" marker-end="url(#mc13)" fill="none" stroke="none"/><path d="M154.6 433.5L157.7 423.7L157.0 469.8L156.7 420.9L139.7 401.4L157.2 458.9L163.3 424.4L166.2 415.1L159.2 415.3L173.7 458.1L132.0 399.6L156.1 450.5L156.8 459.2L148.5 458.8L162.0 460.9L177.6 467.1" marker-start="url(#mc14)" marker-mid="url(#mc14)" marker-end="url(#mc14)" fill="none" stroke="none"/><path d="M153.8 418.2L150.9 427.8L174.1 479.0L147.4 448.2L155.9 406.1L167.2 412.7L157.4 419.3L145.5 447.9L164.1 438.8L152.0 420.7L173.2 452.3L156.1 412.9L171.5 435.0L149.2 450.6L170.7 419.8L157.1 415.2L142.5 463.9" marker-start="url(#mc15)" marker-mid="url(#mc15)" marker-end="url(#mc15)" fill="none" stroke="none"/><path d="M131.6 455.9L140.6 468.4L129.2 441.0L148.5 453.2L158.8 462.7L129.6 451.0L142.3 448.8L166.5 401.6L160.1 419.8L168.7 423.2L153.8 402.3L127.9 451.5L139.1 438.8L144.1 481.9L152.7 445.0L157.5 405.6L136.5 439.5L147.2 464.3L152.8 411.9L157.6 466.3" marker-start="url(#mc16)" marker-mid="url(#mc16)" marker-end="url(#mc16)" fill="none" stroke="none"/><path d="M130.5 452.5L130.3 430.2L147.7 408.8L156.1 412.7L151.3 413.5L142.7 452.0L128.1 394.3L134.3 465.7L120.7 457.1L152.7 463.0L149.6 417.5L152.0 447.3L184.9 440.5L160.1 427.8L144.4 394.1L154.6 439.5L138.3 443.3L119.7 380.6L146.8 453.4L173.1 431.0L175.8 402.3L147.2 453.0L146.8 418.1" marker-start="url(#mc17)" marker-mid="url(#mc17)" marker-end="url(#mc17)" fill="none" stroke="none"/><path d="M127.4 463.3L137.1 462.2L145.0 388.7L120.9 408.0L160.0 425.5L138.8 390.9L123.2 451.9L135.0 456.3L148.1 398.6L161.4 436.5L173.7 436.4L132.6 454.8L134.6 450.6L121.8 422.5L146.9 461.2L121.7 431.2L141.1 393.1L172.1 399.9L140.6 429.1L134.9 456.3L162.9 436.9L142.7 417.7L118.4 438.4" marker-start="url(#mc18)" marker-mid="url(#mc18)" marker-end="url(#mc18)" fill="none" stroke="none"/><path d="M134.5 396.1L142.7 450.2L134.6 443.4L139.0 391.0L128.9 454.7L125.5 407.3L120.2 442.4L123.5 386.6L132.3 368.2L121.1 427.3L135.4 388.0L158.6 399.6L143.2 452.8L133.7 413.9L145.4 393.6L119.1 383.3L145.3 425.0L131.2 385.0L153.1 405.6L117.8 481.9L139.4 435.7L136.4 435.7L134.3 371.2L134.0 447.5" marker-start="url(#mc19)" marker-mid="url(#mc19)" marker-end="url(#mc19)" fill="none" stroke="none"/><path d="M120.5 434.6L129.3 418.4L125.7 420.4L124.9 455.7L118.2 433.2L146.1 405.8L130.4 369.3L131.9 386.8L122.9 460.2L130.5 402.4L134.7 399.2L128.3 405.4L138.8 378.7L130.3 375.6L113.8 460.4L125.9 430.1L142.2 378.8L118.1 426.9" marker-start="url(#mc20)" marker-mid="url(#mc20)" marker-end="url(#mc20)" fill="none" stroke="none"/><path d="M120.6 386.3L130.3 394.8L134.1 390.3L111.1 460.6L135.3 392.2L122.9 448.6L158.1 481.8L121.3 401.4L133.3 433.8L134.4 381.6L127.0 442.9L114.2 391.4L139.3 421.5L126.8 413.3L113.3 423.4L130.9 407.1L143.5 414.8L132.1 396.5L130.8 372.7L132.1 406.1L147.9 406.0" marker-start="url(#mc21)" marker-mid="url(#mc21)" marker-end="url(#mc21)" fill="none" stroke="none"/><path d="M117.6 383.8L130.7 434.8L120.1 439.7L117.4 447.8L95.7 447.8L133.5 375.6L116.9 394.0L124.8 365.7L120.4 370.3L114.7 443.8" marker-start="url(#mc22)" marker-mid="url(#mc22)" marker-end="url(#mc22)" fill="none" stroke="none"/><path d="M113.7 397.5L132.9 446.5L138.9 437.1L99.4 390.7L120.3 424.1L107.0 473.1L115.9 415.7L119.2 400.7L126.4 372.0L120.6 460.0" marker-start="url(#mc23)" marker-mid="url(#mc23)" marker-end="url(#mc23)" fill="none" stroke="none"/><path d="M132.4 408.9L129.8 429.0L131.4 413.9L116.6 374.1L109.2 341.7L131.3 414.6L122.1 409.5" marker-start="url(#mc24)" marker-mid="url(#mc24)" marker-end="url(#mc24)" fill="none" stroke="none"/><path d="M112.8 357.3L98.2 441.9L100.1 388.9" marker-start="url(#mc25)" marker-mid="url(#mc25)" marker-end="url(#mc25)" fill="none" stroke="none"/><path d="M124.7 392.7L122.6 407.6L133.2 398.1L116.2 377.0" marker-start="url(#mc26)" marker-mid="url(#mc26)" marker-end="url(#mc26)" fill="none" stroke="none"/><path d="M116.4 445.4" marker-start="url(#mc27)" marker-mid="url(#mc27)" marker-end="url(#mc27)" fill="none" stroke="none"/><path d="M267.1 463.6" marker-start="url(#mc33)" marker-mid="url(#mc33)" marker-end="url(#mc33)" fill="none" stroke="none"/><path d="M151.5 389.8L108.2 425.8L251.9 462.5L96.2 432.7L183.0 437.6" marker-start="url(#mc34)" marker-mid="url(#mc34)" marker-end="url(#mc34)" fill="none" stroke="none"/><path d="M119.6 432.7L153.8 445.1" marker-start="url(#mc35)" marker-mid="url(#mc35)" marker-end="url(#mc35)" fill="none" stroke="none"/><path d="M247.5 460.3L255.1 456.0L230.9 443.2L256.6 435.5L255.7 447.2L216.7 478.6L271.9 443.3L251.9 427.0L260.9 463.0L228.2 472.1L264.7 458.8L261.5 460.4L246.2 463.7L245.1 449.3L250.1 447.9L243.9 447.1L224.8 464.0L232.2 466.6L261.4 469.7L252.6 455.6L248.6 448.6L256.0 442.3L244.0 458.0L241.4 459.0L255.2 456.4L254.4 461.7L245.8 451.9L243.3 452.2L267.8 449.2L213.6 446.5L234.6 409.8L251.0 453.6L247.2 452.4L210.5 444.0L258.8 461.4L261.3 469.8L232.8 455.5L245.2 469.1L256.1 431.6L242.9 432.2L261.6 445.6L254.9 448.6L226.5 452.8L220.3 439.9L236.3 456.9L236.7 461.4L262.3 453.5L264.7 465.2L263.7 441.8L258.1 448.1L221.5 440.8L242.5 464.3L219.9 459.5L266.3 455.1L237.7 460.7L246.1 459.6L266.8 457.9L246.2 454.8L223.4 428.3L238.2 441.6L234.5 445.2" marker-start="url(#mc5)" marker-mid="url(#mc5)" marker-end="url(#mc5)" fill="none" stroke="none"/><path d="M234.5 444.6L238.7 470.7L230.2 450.9L226.9 419.2L232.9 468.1L202.6 476.2L206.8 453.0L247.6 464.0L248.5 444.3L208.7 435.6" marker-start="url(#mc6)" marker-mid="url(#mc6)" marker-end="url(#mc6)" fill="none" stroke="none"/><path d="M177.0 438.4L183.7 442.5L207.8 441.9L220.4 424.6L238.6 443.8L238.6 450.0L224.6 448.3L227.7 433.1L198.3 435.7" marker-start="url(#mc7)" marker-mid="url(#mc7)" marker-end="url(#mc7)" fill="none" stroke="none"/><path d="M198.0 436.1L167.2 437.2L228.2 468.0L204.4 450.5L226.7 464.4L215.2 429.1L168.9 479.1L188.9 480.1L215.6 440.9" marker-start="url(#mc8)" marker-mid="url(#mc8)" marker-end="url(#mc8)" fill="none" stroke="none"/><path d="M239.7 424.4L197.0 447.3L185.1 452.8L183.6 468.3L194.7 447.5" marker-start="url(#mc9)" marker-mid="url(#mc9)" marker-end="url(#mc9)" fill="none" stroke="none"/><path d="M79.0 429.1L119.6 432.7L121.3 443.9L113.7 449.6L111.1 460.6" marker-start="url(#mck)" marker-mid="url(#mck)" marker-end="url(#mck)" fill="none" stroke="none"/></g>
<path d="M77.73 504.30v-4.2M100.05 504.30v-2.2M122.38 504.30v-4.2M144.71 504.30v-2.2M167.04 504.30v-4.2M189.36 504.30v-2.2M211.69 504.30v-4.2M234.02 504.30v-2.2M256.35 504.30v-4.2M278.67 504.30v-2.2M301.00 504.30v-4.2M55.40 504.30h2.2M55.40 482.32h4.2M55.40 460.34h2.2M55.40 438.37h4.2M55.40 416.39h2.2M55.40 394.41h4.2M55.40 372.43h2.2M55.40 350.46h4.2M55.40 328.48h2.2M55.40 306.50h4.2" stroke="#000" stroke-width="1.4" fill="none"/>
<rect x="55.40" y="306.50" width="245.60" height="197.80" fill="none" stroke="#000" stroke-width="1.9"/>
<text x="77.73" y="520.10" font-size="13.8" text-anchor="middle">0</text>
<text x="122.38" y="520.10" font-size="13.8" text-anchor="middle">1000</text>
<text x="167.04" y="520.10" font-size="13.8" text-anchor="middle">2000</text>
<text x="211.69" y="520.10" font-size="13.8" text-anchor="middle">3000</text>
<text x="256.35" y="520.10" font-size="13.8" text-anchor="middle">4000</text>
<text x="301.00" y="520.10" font-size="13.8" text-anchor="middle">5000</text>
<text x="50.50" y="486.82" font-size="13.8" text-anchor="end">0</text>
<text x="50.50" y="442.87" font-size="13.8" text-anchor="end">200</text>
<text x="50.50" y="398.91" font-size="13.8" text-anchor="end">400</text>
<text x="50.50" y="354.96" font-size="13.8" text-anchor="end">600</text>
<text x="50.50" y="311.00" font-size="13.8" text-anchor="end">800</text>
<text x="3.30" y="294.60" font-size="25">(</text><text x="12.95" y="294.60" font-size="25">c</text><text x="24.30" y="294.60" font-size="25">)</text>
<g transform="translate(19.80 445.80) rotate(-90)"><text x="-0.20" y="0.00" font-size="19" font-style="italic">d</text><text x="9.60" y="3.60" font-size="11.5">33</text><text x="21.00" y="0.00" font-size="19"> (pC N</text><text x="74.80" y="-7.60" font-size="11.5">-1</text><text x="84.20" y="0.00" font-size="19">)</text></g>
<g transform="translate(0.10 267.30)"><text x="41.15" y="276.00" font-size="21.5" font-style="italic">D</text><text x="59.16" y="264.90" font-size="10">4</text><text x="57.00" y="280.00" font-size="12.3">simp</text><text x="81.10" y="276.00" font-size="21">:</text><text x="89.80" y="276.00" font-size="20">e</text><text x="99.00" y="267.20" font-size="14">(</text><text x="103.30" y="266.60" font-size="13" font-style="italic">NM</text><text x="125.00" y="271.70" font-size="8.5">B</text><text x="130.50" y="266.60" font-size="13">-</text><text x="134.10" y="266.60" font-size="13" font-style="italic">MV</text><text x="154.90" y="271.70" font-size="8.5">B</text><text x="165.80" y="267.60" font-size="14.5">)</text><text x="172.40" y="276.00" font-size="21">·</text><text x="179.40" y="276.00" font-size="21" font-style="italic">ST/(ID</text><text x="241.70" y="282.60" font-size="12">A</text><text x="250.60" y="276.00" font-size="21">)</text><text x="257.40" y="268.70" font-size="13">2</text></g>
<rect x="305.70" y="311.70" width="15.40" height="11.46" fill="#4d72b8"/>
<rect x="305.70" y="322.76" width="15.40" height="11.46" fill="#547eb3"/>
<rect x="305.70" y="333.82" width="15.40" height="11.46" fill="#5a87ae"/>
<rect x="305.70" y="344.88" width="15.40" height="11.46" fill="#618ea9"/>
<rect x="305.70" y="355.94" width="15.40" height="11.46" fill="#6993a2"/>
<rect x="305.70" y="366.99" width="15.40" height="11.46" fill="#73999a"/>
<rect x="305.70" y="378.05" width="15.40" height="11.46" fill="#7fa090"/>
<rect x="305.70" y="389.11" width="15.40" height="11.46" fill="#8ca686"/>
<rect x="305.70" y="400.17" width="15.40" height="11.46" fill="#98aa7a"/>
<rect x="305.70" y="411.23" width="15.40" height="11.46" fill="#a0ae72"/>
<rect x="305.70" y="422.29" width="15.40" height="11.46" fill="#a9b26a"/>
<rect x="305.70" y="433.35" width="15.40" height="11.46" fill="#b2b863"/>
<rect x="305.70" y="444.41" width="15.40" height="11.46" fill="#bcbe5c"/>
<rect x="305.70" y="455.46" width="15.40" height="11.46" fill="#c5c357"/>
<rect x="305.70" y="466.52" width="15.40" height="11.46" fill="#cdca52"/>
<rect x="305.70" y="477.58" width="15.40" height="11.46" fill="#d5d24d"/>
<rect x="305.70" y="488.64" width="15.40" height="11.46" fill="#dcdb4a"/>
<rect x="305.70" y="306.30" width="15.40" height="5.40" fill="#000"/>
<rect x="305.70" y="499.70" width="15.40" height="5.30" fill="#c8c8cc"/>
<text x="327.50" y="315.90" font-size="12.6">12.0</text>
<text x="327.50" y="343.90" font-size="12.6">11.8</text>
<text x="327.50" y="371.90" font-size="12.6">11.6</text>
<text x="327.50" y="399.90" font-size="12.6">11.4</text>
<text x="327.50" y="427.90" font-size="12.6">11.2</text>
<text x="327.50" y="455.90" font-size="12.6">11.0</text>
<text x="327.50" y="483.90" font-size="12.6">10.8</text>
<path d="M321.10 311.50h3.8M321.10 325.50h-1.6M321.10 339.50h3.8M321.10 353.50h-1.6M321.10 367.50h3.8M321.10 381.50h-1.6M321.10 395.50h3.8M321.10 409.50h-1.6M321.10 423.50h3.8M321.10 437.50h-1.6M321.10 451.50h3.8M321.10 465.50h-1.6M321.10 479.50h3.8M321.10 493.50h-1.6" stroke="#222" stroke-width="1.1" fill="none"/>
<text x="301.10" y="298.70" font-size="11.8" font-style="italic">MV</text>
<text x="321.30" y="301.60" font-size="8">B</text>
<g clip-path="url(#clipLe)"><path d="M128.4 657.2L139.9 702.2L237.2 735.7L222.7 708.7L174.4 692.7L219.0 680.0L175.3 689.1L162.8 680.2L192.5 720.5L203.5 717.7L124.4 720.6L199.7 712.8L153.3 718.3L185.2 709.1L250.1 728.8L186.9 704.7L175.1 734.3" marker-start="url(#me10)" marker-mid="url(#me10)" marker-end="url(#me10)" fill="none" stroke="none"/><path d="M232.2 715.2L180.8 710.8L182.1 736.9L139.9 655.3L171.7 712.1L171.7 693.4L174.4 694.6L164.8 735.5L161.7 705.7L233.4 719.0L170.2 712.3" marker-start="url(#me11)" marker-mid="url(#me11)" marker-end="url(#me11)" fill="none" stroke="none"/><path d="M184.0 740.1L141.6 683.4L206.5 721.8L176.7 704.2L155.2 697.2L175.8 710.0L140.0 668.9L123.5 707.9L170.1 720.5L196.6 724.3L189.3 719.3L151.4 749.8L175.1 691.3L179.8 670.0L159.5 717.1L140.4 736.4L134.7 718.8L132.9 683.4L167.3 723.0L148.5 694.7L187.7 708.3L185.2 705.8L141.8 683.5L151.6 721.2L248.6 688.8L138.3 672.5L176.5 691.3L155.5 713.8L138.7 688.0L190.0 713.5L161.1 715.8L201.9 710.8L153.8 731.5L219.6 710.3" marker-start="url(#me12)" marker-mid="url(#me12)" marker-end="url(#me12)" fill="none" stroke="none"/><path d="M146.7 713.5L149.2 711.3L139.9 746.8L143.7 710.5L167.0 691.9L151.1 713.9L159.8 699.7L194.5 720.6L147.1 676.5L124.0 683.8" marker-start="url(#me13)" marker-mid="url(#me13)" marker-end="url(#me13)" fill="none" stroke="none"/><path d="M209.6 713.0L166.7 669.6L128.1 694.3L162.0 687.5L246.2 728.9L180.3 717.9L136.0 651.2L143.7 720.3L156.9 718.1L148.5 707.3L136.1 725.7L156.7 704.3L126.7 643.7L165.2 663.2L168.1 733.1L139.3 721.1L179.1 676.2L180.5 738.6L162.3 711.1L153.1 718.9L194.9 716.1L148.0 669.8L132.4 689.9L194.2 722.6L137.3 723.5" marker-start="url(#me14)" marker-mid="url(#me14)" marker-end="url(#me14)" fill="none" stroke="none"/><path d="M152.7 727.8L164.9 708.5L157.8 699.8L162.7 669.0L193.5 694.6L150.6 670.9L127.2 647.1L160.7 725.5L122.8 649.9L172.7 681.3L160.0 674.5L191.0 715.1L145.7 714.2L188.7 726.7L117.3 696.1L91.1 713.4L137.4 660.6L171.7 684.3L154.5 694.5L133.5 708.4L135.8 666.2L127.3 641.7" marker-start="url(#me15)" marker-mid="url(#me15)" marker-end="url(#me15)" fill="none" stroke="none"/><path d="M126.6 739.7L192.9 707.3L114.8 710.3L160.0 719.0L148.4 680.5L121.6 637.2L173.0 691.4L130.4 721.7L126.3 631.0L131.3 724.9L125.2 688.6L167.1 715.2L126.9 656.5L126.1 676.8" marker-start="url(#me16)" marker-mid="url(#me16)" marker-end="url(#me16)" fill="none" stroke="none"/><path d="M119.5 641.4L141.1 700.3L141.3 652.7L138.7 670.3L151.9 678.6L117.4 734.5L164.5 697.4L161.5 663.6L137.3 657.3L137.0 690.4L157.9 666.5L116.5 653.0L144.3 721.9L171.3 719.3L123.3 653.9L123.4 644.5L137.1 709.9L121.7 714.2L144.0 685.2L139.4 642.8L137.9 650.3L149.0 717.2L149.6 665.2L163.6 694.0L134.6 714.5" marker-start="url(#me17)" marker-mid="url(#me17)" marker-end="url(#me17)" fill="none" stroke="none"/><path d="M118.1 674.2L128.3 681.6L139.4 712.0L130.1 666.4L120.5 720.5L166.1 713.1L134.0 741.4L165.9 681.0L126.6 691.3L117.3 670.0L130.6 653.9L115.3 729.8L129.0 705.4L128.1 721.4L160.3 678.3L121.7 720.4L130.0 705.5" marker-start="url(#me18)" marker-mid="url(#me18)" marker-end="url(#me18)" fill="none" stroke="none"/><path d="M137.1 702.0L153.8 723.2L109.0 732.2L118.6 632.9L129.2 658.9L119.5 709.6L117.6 719.2L118.2 701.1L208.3 734.0L172.3 711.5L139.1 702.2L132.9 644.6" marker-start="url(#me19)" marker-mid="url(#me19)" marker-end="url(#me19)" fill="none" stroke="none"/><path d="M129.5 653.6L106.2 743.3L167.7 697.7L139.5 639.6L133.4 698.8L117.7 644.0L121.7 750.2L124.2 750.2L121.3 654.7L138.3 722.5L130.2 649.9L134.4 712.4" marker-start="url(#me20)" marker-mid="url(#me20)" marker-end="url(#me20)" fill="none" stroke="none"/><path d="M123.3 632.0L92.6 750.2L122.1 645.2L139.4 671.7L119.3 642.8L104.6 745.8L131.6 679.0L118.5 640.5L120.8 659.4" marker-start="url(#me21)" marker-mid="url(#me21)" marker-end="url(#me21)" fill="none" stroke="none"/><path d="M131.4 690.9L120.8 675.4L142.4 674.7L109.7 727.3L120.4 680.4L119.6 696.6" marker-start="url(#me22)" marker-mid="url(#me22)" marker-end="url(#me22)" fill="none" stroke="none"/><path d="M94.2 736.3L127.6 655.6L117.5 696.7L115.7 682.9L120.1 649.5L114.6 690.1" marker-start="url(#me23)" marker-mid="url(#me23)" marker-end="url(#me23)" fill="none" stroke="none"/><path d="M161.4 662.5L117.2 694.8L124.4 688.1L122.9 704.4L112.0 741.4L131.3 669.7L113.1 717.8" marker-start="url(#me24)" marker-mid="url(#me24)" marker-end="url(#me24)" fill="none" stroke="none"/><path d="M116.3 743.0L125.8 666.0" marker-start="url(#me25)" marker-mid="url(#me25)" marker-end="url(#me25)" fill="none" stroke="none"/><path d="M111.5 614.1L103.5 625.3" marker-start="url(#me26)" marker-mid="url(#me26)" marker-end="url(#me26)" fill="none" stroke="none"/><path d="M104.8 620.9" marker-start="url(#me27)" marker-mid="url(#me27)" marker-end="url(#me27)" fill="none" stroke="none"/><path d="M110.8 602.6" marker-start="url(#me28)" marker-mid="url(#me28)" marker-end="url(#me28)" fill="none" stroke="none"/><path d="M103.0 651.3" marker-start="url(#me29)" marker-mid="url(#me29)" marker-end="url(#me29)" fill="none" stroke="none"/><path d="M123.3 660.5" marker-start="url(#me31)" marker-mid="url(#me31)" marker-end="url(#me31)" fill="none" stroke="none"/><path d="M90.7 709.7L101.7 700.2L146.5 662.1" marker-start="url(#me32)" marker-mid="url(#me32)" marker-end="url(#me32)" fill="none" stroke="none"/><path d="M101.7 702.3L208.9 705.5L123.8 692.9L98.4 696.5" marker-start="url(#me33)" marker-mid="url(#me33)" marker-end="url(#me33)" fill="none" stroke="none"/><path d="M96.0 710.5" marker-start="url(#me35)" marker-mid="url(#me35)" marker-end="url(#me35)" fill="none" stroke="none"/><path d="M227.6 723.5L249.9 724.6L245.3 735.3L232.2 733.0L261.5 717.6L269.5 717.7L226.1 733.4L240.7 732.9L264.6 735.7L194.1 723.0L257.3 708.3L252.5 731.5L266.4 737.0L213.0 718.8L224.3 711.2L264.9 723.6L156.8 717.8L224.4 718.4L205.9 743.2L235.2 719.8L252.6 702.9L222.4 732.4L239.2 715.2L233.5 713.3L274.4 724.7L249.2 715.8L271.0 725.4L216.4 701.7L259.4 732.4L211.3 744.3L262.2 727.9L244.3 711.9L255.7 735.5L237.0 733.4L198.6 738.9L227.6 695.6L169.9 730.0L225.0 713.6L260.2 732.7L229.9 731.9L241.9 710.7L258.8 725.3L250.2 711.0L267.7 713.7L258.2 727.1L270.3 713.0L223.7 724.1L226.4 732.2L265.8 725.5L265.7 718.6L241.1 728.0L245.0 725.6L257.2 721.2L209.7 714.6L231.7 689.2L257.5 696.5L266.7 717.2L233.1 714.0L258.3 726.6L236.2 741.9L263.6 726.3L265.6 727.4L222.4 722.2L234.1 677.1L240.6 735.5L233.2 697.9L256.5 732.6L206.8 725.6L268.0 686.3L267.6 714.5" marker-start="url(#me6)" marker-mid="url(#me6)" marker-end="url(#me6)" fill="none" stroke="none"/><path d="M247.3 717.9L253.8 728.8L172.6 750.2L200.4 728.0L261.8 717.6L220.1 712.3L198.6 705.4L208.1 710.2L237.4 700.9L229.9 735.4" marker-start="url(#me7)" marker-mid="url(#me7)" marker-end="url(#me7)" fill="none" stroke="none"/><path d="M216.6 720.4L180.5 699.0L199.6 725.4L155.7 703.7L198.8 707.0L200.3 719.8L201.8 739.5L224.2 728.2L169.5 687.3L226.8 733.1L154.8 750.2L178.4 721.7L228.7 739.8L175.9 722.1" marker-start="url(#me8)" marker-mid="url(#me8)" marker-end="url(#me8)" fill="none" stroke="none"/><path d="M240.8 722.2L197.9 707.2L157.3 725.5L224.4 725.8L203.4 711.7L179.2 724.7L188.9 735.0L192.4 720.1L163.0 741.4L189.9 699.5L197.6 706.7L181.6 715.6L198.5 718.7" marker-start="url(#me9)" marker-mid="url(#me9)" marker-end="url(#me9)" fill="none" stroke="none"/><path d="M217.4 712.1L165.8 726.8L203.7 708.5L193.5 721.4L173.3 722.2L175.0 735.5L193.6 725.3L182.0 709.0L184.9 706.4L165.1 666.1L177.3 681.7L148.0 727.6L163.4 675.7L201.1 725.1L228.4 715.5" marker-start="url(#me10)" marker-mid="url(#me10)" marker-end="url(#me10)" fill="none" stroke="none"/><path d="M212.0 707.1L244.6 713.2L203.7 716.8L217.1 703.9L248.5 702.4L166.5 741.4L175.9 713.0L238.3 719.5L173.4 725.8L154.2 723.0L248.7 737.4L161.3 723.6" marker-start="url(#me11)" marker-mid="url(#me11)" marker-end="url(#me11)" fill="none" stroke="none"/><path d="M144.9 722.8L157.8 714.6L235.0 719.5L196.0 709.9L180.5 709.3L141.2 703.0L130.6 704.9L135.4 704.8L171.4 728.1L177.3 674.1L130.1 650.4L158.0 672.1L137.2 743.8L139.8 701.0L165.5 714.2L175.0 663.8L128.6 719.6L147.9 710.3L120.3 715.9L174.7 710.0" marker-start="url(#me12)" marker-mid="url(#me12)" marker-end="url(#me12)" fill="none" stroke="none"/><path d="M170.6 706.1L137.9 648.3L167.4 691.1L177.2 687.8L164.4 684.2L169.0 705.6L216.2 702.3L162.4 718.8L158.0 726.0L187.4 727.8L133.0 694.5L140.1 682.7L137.0 688.7L226.5 696.4L133.9 667.8L169.5 707.8L164.7 708.3L167.4 731.7L153.1 686.6L86.3 731.1L167.1 719.1L155.4 732.7L141.3 725.4L167.5 702.6L120.3 656.6" marker-start="url(#me13)" marker-mid="url(#me13)" marker-end="url(#me13)" fill="none" stroke="none"/><path d="M158.1 727.2L147.7 694.0L127.4 724.4L168.2 688.5L119.6 683.1L178.2 729.2L162.1 712.5L129.1 693.4L146.3 706.2L139.0 673.3L178.3 682.1L147.3 716.1L149.8 698.5L130.1 668.1L126.8 731.2L150.8 679.1L172.8 693.6L170.8 689.0L139.6 736.8L191.1 720.8L126.8 719.9L139.1 685.5L124.5 723.3L178.0 685.4L123.1 702.3L145.7 708.9L241.5 713.3L153.0 738.1L157.3 739.8L126.2 679.5L215.9 724.5" marker-start="url(#me14)" marker-mid="url(#me14)" marker-end="url(#me14)" fill="none" stroke="none"/><path d="M119.7 692.8L165.9 720.1L124.3 666.0L162.6 677.9L148.6 693.5L119.8 701.8L166.3 682.5L204.3 702.1L123.4 708.8L95.2 741.4L136.2 708.7L171.7 666.9L161.7 697.7L143.1 661.2L163.2 705.0L141.8 705.9L122.5 740.0L128.7 708.8L177.0 720.9" marker-start="url(#me15)" marker-mid="url(#me15)" marker-end="url(#me15)" fill="none" stroke="none"/><path d="M173.7 723.8L142.8 700.4L141.4 725.6L144.1 653.9L147.3 692.9L184.4 685.1L156.6 707.0L120.5 639.5L136.9 676.7L134.7 622.7L123.7 639.0L123.7 731.0L190.3 713.0L142.0 646.8L163.1 717.7L140.3 661.8L200.1 705.0L117.4 645.4L166.3 708.7L134.3 641.4L137.5 656.7L140.1 705.6L123.5 741.9L154.9 704.0" marker-start="url(#me16)" marker-mid="url(#me16)" marker-end="url(#me16)" fill="none" stroke="none"/><path d="M172.1 689.9L131.4 679.0L167.5 698.3L167.2 695.8L147.7 682.9L148.7 695.8L163.0 675.5L148.4 738.2L141.0 701.9L165.7 663.4L119.8 730.6L144.6 651.3L135.6 671.2L136.5 636.2L123.2 630.6L132.2 630.3L164.7 693.7L161.1 717.6L166.9 682.5L126.6 715.8" marker-start="url(#me17)" marker-mid="url(#me17)" marker-end="url(#me17)" fill="none" stroke="none"/><path d="M119.1 722.2L134.8 736.0L127.1 705.0L151.4 697.9L165.1 690.1L140.1 676.4L159.8 716.8L150.4 670.5L123.0 644.0L173.4 726.9L123.7 674.3L118.7 682.9L123.4 671.9L166.7 715.1L157.4 732.1L134.1 704.3L106.5 741.1L117.6 695.0L137.6 705.4L139.9 710.0L116.1 703.9L120.7 712.1" marker-start="url(#me18)" marker-mid="url(#me18)" marker-end="url(#me18)" fill="none" stroke="none"/><path d="M141.1 673.3L135.8 720.8L137.6 668.9L111.1 711.4L131.9 643.7L127.4 632.7L166.6 674.4L117.2 673.4L124.8 615.6L125.5 631.0L139.1 697.9L137.8 668.1L131.3 672.8L169.0 675.3L131.5 676.7L120.5 699.8L134.7 663.1" marker-start="url(#me19)" marker-mid="url(#me19)" marker-end="url(#me19)" fill="none" stroke="none"/><path d="M132.0 714.6L125.1 693.7L131.0 641.3L122.8 692.0L103.9 733.9L180.7 715.5L141.4 689.5L119.2 664.5L128.2 670.7L154.6 728.1" marker-start="url(#me20)" marker-mid="url(#me20)" marker-end="url(#me20)" fill="none" stroke="none"/><path d="M78.2 697.3L134.2 693.0L127.8 718.6L117.1 678.0L126.1 727.6L119.2 692.0L120.6 682.7L126.5 647.8L117.1 704.4L133.6 687.4" marker-start="url(#me21)" marker-mid="url(#me21)" marker-end="url(#me21)" fill="none" stroke="none"/><path d="M122.8 635.9L137.0 719.5L122.4 673.1L110.2 750.2L121.6 652.4L113.0 731.2" marker-start="url(#me22)" marker-mid="url(#me22)" marker-end="url(#me22)" fill="none" stroke="none"/><path d="M115.7 649.9L149.9 673.5L87.3 730.8" marker-start="url(#me23)" marker-mid="url(#me23)" marker-end="url(#me23)" fill="none" stroke="none"/><path d="M127.8 686.7L126.9 679.8L128.9 636.6L167.4 676.2" marker-start="url(#me24)" marker-mid="url(#me24)" marker-end="url(#me24)" fill="none" stroke="none"/><path d="M133.5 693.5L104.2 699.2L116.4 717.6L120.7 698.5" marker-start="url(#me25)" marker-mid="url(#me25)" marker-end="url(#me25)" fill="none" stroke="none"/><path d="M119.2 681.8L107.1 625.7" marker-start="url(#me26)" marker-mid="url(#me26)" marker-end="url(#me26)" fill="none" stroke="none"/><path d="M113.3 642.7L104.4 617.8" marker-start="url(#me27)" marker-mid="url(#me27)" marker-end="url(#me27)" fill="none" stroke="none"/><path d="M101.3 631.5L105.7 621.8L94.7 731.5" marker-start="url(#me28)" marker-mid="url(#me28)" marker-end="url(#me28)" fill="none" stroke="none"/><path d="M103.9 628.4" marker-start="url(#me29)" marker-mid="url(#me29)" marker-end="url(#me29)" fill="none" stroke="none"/><path d="M142.8 683.7L136.9 715.8L226.2 737.2L97.2 695.8" marker-start="url(#me33)" marker-mid="url(#me33)" marker-end="url(#me33)" fill="none" stroke="none"/><path d="M264.0 713.3L273.9 735.2L261.0 720.0L250.1 725.9L244.1 722.1L266.9 732.9L268.9 716.2L272.3 734.8L223.8 718.3L274.4 722.0L255.4 720.1L221.7 729.4L193.0 721.5L207.9 685.0L260.8 733.8L231.7 726.0L264.5 729.6L264.6 722.6L261.2 715.2L252.5 723.8L152.2 736.3L230.3 733.2L261.8 714.4L265.4 719.4L218.8 731.7L266.1 719.1L158.6 662.3L263.3 725.9L233.1 722.5L208.4 732.7L252.1 736.1L280.9 739.7L247.1 729.8L244.5 722.0L195.0 716.7L238.0 709.9L239.8 737.7L258.8 721.0L264.0 719.9L147.9 737.4L254.2 693.2L237.1 712.5L232.8 735.5L191.9 714.7L215.1 708.8L241.7 734.5L237.4 744.1L268.7 711.4L250.8 738.2L258.9 712.2L233.1 698.2L267.3 695.6L206.5 720.8L256.2 715.8L171.7 720.3L251.3 725.3L259.1 714.2L186.5 682.9L260.9 723.6" marker-start="url(#me6)" marker-mid="url(#me6)" marker-end="url(#me6)" fill="none" stroke="none"/><path d="M235.8 687.4L256.5 729.4L216.4 711.3L188.5 715.8L226.2 726.2L256.6 726.6L243.7 724.7L221.3 718.7L188.0 726.9" marker-start="url(#me7)" marker-mid="url(#me7)" marker-end="url(#me7)" fill="none" stroke="none"/><path d="M241.3 699.2L166.5 750.2L214.5 708.9L188.2 716.5L228.4 719.1L175.3 728.1L213.5 706.7L208.4 716.1L171.0 723.5L227.1 722.0L235.8 704.9L242.3 726.5L194.5 707.0L245.4 712.4L163.9 710.5L241.3 729.3" marker-start="url(#me8)" marker-mid="url(#me8)" marker-end="url(#me8)" fill="none" stroke="none"/><path d="M260.3 726.8L194.1 714.6L251.2 730.4L150.2 728.0L173.9 679.9L249.4 721.5L246.5 712.3L253.2 733.1L241.4 729.1L237.6 718.7L151.3 693.1" marker-start="url(#me9)" marker-mid="url(#me9)" marker-end="url(#me9)" fill="none" stroke="none"/><path d="M176.7 706.6L177.1 714.1L201.9 704.6L155.7 680.9L190.7 714.2L186.6 714.1L198.9 722.5L156.2 689.1L118.7 668.8L147.0 716.5L204.3 718.8L166.2 669.7L202.4 744.5L184.6 708.7L164.4 708.5L169.5 698.0L121.1 699.4L226.4 721.1L148.7 718.8L188.6 748.5L152.3 713.2L174.1 709.6L219.8 727.8" marker-start="url(#me10)" marker-mid="url(#me10)" marker-end="url(#me10)" fill="none" stroke="none"/><path d="M168.0 676.6L129.8 698.4L179.8 707.8L183.5 710.7L190.0 711.8L157.3 691.9L151.1 657.9L134.8 660.3L246.2 732.0L175.6 722.2L178.4 718.6L158.4 731.0L177.8 681.4L220.3 692.8L133.8 734.0L147.6 666.7L129.9 637.4L142.7 721.1L206.6 721.3L172.9 720.5L162.5 705.1L133.5 715.7" marker-start="url(#me11)" marker-mid="url(#me11)" marker-end="url(#me11)" fill="none" stroke="none"/><path d="M154.2 701.7L228.2 740.4L138.5 659.1L176.9 722.1L159.6 693.7L194.1 724.3L152.3 731.3L149.2 685.7L155.5 674.2L151.6 730.3L151.6 715.5L234.5 678.0L200.6 727.8L173.3 704.6L132.1 723.1L134.1 718.9L227.6 701.3L171.8 668.0L134.4 724.6L153.4 713.4L147.5 674.2L117.8 706.6" marker-start="url(#me12)" marker-mid="url(#me12)" marker-end="url(#me12)" fill="none" stroke="none"/><path d="M169.1 730.1L174.4 734.6L131.0 724.1L197.8 704.3L167.4 739.6L128.3 723.0L153.3 686.4L122.6 720.2L166.9 705.4L134.5 724.6L160.3 728.9L161.0 704.8L166.8 680.8L141.7 706.4L158.8 683.5L159.8 696.0L146.5 729.5L156.4 727.5L175.4 703.4L177.3 735.4L157.1 673.8L167.5 716.0L175.5 670.5L170.3 688.0" marker-start="url(#me13)" marker-mid="url(#me13)" marker-end="url(#me13)" fill="none" stroke="none"/><path d="M130.2 703.1L156.6 738.2L128.7 709.2L120.3 676.1L124.3 724.0L122.0 675.8L127.6 662.4L129.0 719.3L150.5 696.0L141.8 717.1L115.3 683.8L130.0 670.6L162.9 692.6L126.2 681.4L157.0 644.7L154.2 707.7L162.7 728.9L155.7 681.1L143.6 750.2L220.2 708.1L124.2 633.7L120.0 728.3L146.3 741.4L176.9 723.3L140.2 697.3L146.4 686.3L187.0 709.7L142.0 732.2" marker-start="url(#me14)" marker-mid="url(#me14)" marker-end="url(#me14)" fill="none" stroke="none"/><path d="M129.9 720.7L128.8 686.6L140.1 736.8L136.6 730.5L129.2 697.3L142.3 718.5L148.1 721.5L142.2 720.3L120.1 725.3L145.6 673.9L139.2 669.5L157.0 687.5L168.4 691.4L122.4 728.5L198.5 721.5L144.9 661.7L118.5 651.4L173.4 726.4L130.7 653.1L143.9 662.2L137.8 711.6L140.7 661.2L171.2 703.2L157.2 729.6L146.4 721.6L151.6 741.4L158.5 726.6L121.5 677.6" marker-start="url(#me15)" marker-mid="url(#me15)" marker-end="url(#me15)" fill="none" stroke="none"/><path d="M129.8 662.9L133.6 658.4L119.5 707.9L140.0 734.1L117.6 701.4L132.9 643.7L159.7 688.0L121.3 690.7L152.7 673.8L125.9 640.0L138.3 646.8L190.0 734.5L194.5 715.8L157.8 708.0L157.2 734.6" marker-start="url(#me16)" marker-mid="url(#me16)" marker-end="url(#me16)" fill="none" stroke="none"/><path d="M138.4 705.3L126.9 731.6L150.9 681.7L144.5 656.8L131.8 677.1L125.1 688.6L132.8 702.1L124.9 675.5L131.8 636.2L133.2 682.0L134.2 667.3L153.3 670.5L130.4 675.2L163.7 707.0L143.0 683.0L155.7 718.8L131.5 664.6L119.8 638.4L130.8 682.8L119.1 648.7L131.6 674.2L113.2 728.7L142.3 685.8L135.9 703.9L136.0 707.7L141.7 646.9" marker-start="url(#me17)" marker-mid="url(#me17)" marker-end="url(#me17)" fill="none" stroke="none"/><path d="M120.0 654.4L132.4 714.7L134.0 711.7L120.8 669.5L138.4 659.0L119.7 692.3L126.5 711.2L145.1 716.2L144.8 693.2L138.9 703.9L146.7 721.3L133.7 639.2L156.7 683.4" marker-start="url(#me18)" marker-mid="url(#me18)" marker-end="url(#me18)" fill="none" stroke="none"/><path d="M117.0 651.9L119.0 700.9L119.6 710.7L120.5 695.5L134.9 656.1L131.4 654.9L130.3 640.8L138.6 707.1L152.4 680.1L125.4 698.3L117.5 695.1" marker-start="url(#me19)" marker-mid="url(#me19)" marker-end="url(#me19)" fill="none" stroke="none"/><path d="M120.0 702.9L144.8 677.1L122.3 716.8L130.9 682.1L113.6 659.5L97.5 710.1L132.7 666.3L127.7 673.5L131.5 667.8L127.4 719.8L148.0 727.1L146.8 732.6" marker-start="url(#me20)" marker-mid="url(#me20)" marker-end="url(#me20)" fill="none" stroke="none"/><path d="M134.0 664.3L156.7 727.1" marker-start="url(#me21)" marker-mid="url(#me21)" marker-end="url(#me21)" fill="none" stroke="none"/><path d="M158.2 724.2L98.7 658.8L133.9 649.7L123.0 654.7L138.8 689.7L116.3 662.1L129.7 643.6L172.8 699.3" marker-start="url(#me22)" marker-mid="url(#me22)" marker-end="url(#me22)" fill="none" stroke="none"/><path d="M110.5 728.9L147.2 676.9L124.1 660.9L158.2 667.7L99.4 657.0L114.1 712.1" marker-start="url(#me23)" marker-mid="url(#me23)" marker-end="url(#me23)" fill="none" stroke="none"/><path d="M106.4 741.4" marker-start="url(#me24)" marker-mid="url(#me24)" marker-end="url(#me24)" fill="none" stroke="none"/><path d="M112.7 691.6L117.2 750.2" marker-start="url(#me25)" marker-mid="url(#me25)" marker-end="url(#me25)" fill="none" stroke="none"/><path d="M113.1 665.6L115.8 713.6" marker-start="url(#me26)" marker-mid="url(#me26)" marker-end="url(#me26)" fill="none" stroke="none"/><path d="M116.8 716.1L95.5 700.9" marker-start="url(#me27)" marker-mid="url(#me27)" marker-end="url(#me27)" fill="none" stroke="none"/><path d="M112.2 625.3L115.6 645.0" marker-start="url(#me28)" marker-mid="url(#me28)" marker-end="url(#me28)" fill="none" stroke="none"/><path d="M116.0 642.2L108.6 609.7" marker-start="url(#me29)" marker-mid="url(#me29)" marker-end="url(#me29)" fill="none" stroke="none"/><path d="M107.6 694.0" marker-start="url(#me33)" marker-mid="url(#me33)" marker-end="url(#me33)" fill="none" stroke="none"/><path d="M94.9 716.1" marker-start="url(#me35)" marker-mid="url(#me35)" marker-end="url(#me35)" fill="none" stroke="none"/><path d="M247.5 728.6L255.2 724.2L230.8 711.4L234.5 712.9L239.7 692.6L256.7 703.7L255.8 715.4L216.5 746.9L272.1 711.6L251.9 695.2L261.0 731.3L196.7 715.5L264.9 727.1L261.6 728.7L245.1 717.6L250.2 716.1L207.6 710.1L243.9 715.4L232.1 734.9L261.5 738.0L252.6 723.9L248.6 716.9L230.2 719.1L244.0 726.3L241.4 727.3L255.3 724.7L254.5 730.0L191.3 707.1L251.9 730.8L267.9 717.5L226.8 687.4L232.8 736.4L251.0 721.9L247.2 720.6L210.3 712.3L238.6 718.2L258.9 729.7L261.4 738.1L232.8 723.8L245.2 737.4L256.2 699.8L243.0 700.4L248.5 712.5L261.7 713.9L267.2 731.9L215.1 697.3L161.6 729.2L236.3 725.2L168.6 747.5L262.4 721.8L215.5 709.1L263.8 710.0L190.0 697.5L258.2 716.4L221.4 709.0L242.5 732.5L266.4 723.4L246.1 727.9L266.9 726.1L246.3 723.1L234.5 713.5" marker-start="url(#me6)" marker-mid="url(#me6)" marker-end="url(#me6)" fill="none" stroke="none"/><path d="M184.8 721.1L228.2 736.3L256.1 710.6L183.3 736.7L213.5 714.8L247.6 732.3L255.0 716.9L236.7 729.7L167.5 720.3L248.7 718.0L204.4 715.9L223.3 696.5" marker-start="url(#me7)" marker-mid="url(#me7)" marker-end="url(#me7)" fill="none" stroke="none"/><path d="M238.7 739.1L157.7 750.2L179.7 727.9L224.5 716.6L213.3 711.5L151.6 688.9L226.6 732.7L264.9 733.5" marker-start="url(#me8)" marker-mid="url(#me8)" marker-end="url(#me8)" fill="none" stroke="none"/><path d="M168.5 727.7L224.7 732.3L173.8 747.3L198.5 725.2L238.6 712.0L196.4 710.9L245.8 720.2L243.3 720.5L165.8 683.3L182.7 705.8L198.1 703.9L208.5 703.9L237.7 729.0L205.7 725.6L238.2 709.8" marker-start="url(#me9)" marker-mid="url(#me9)" marker-end="url(#me9)" fill="none" stroke="none"/><path d="M87.3 730.8" marker-start="url(#mek)" marker-mid="url(#mek)" marker-end="url(#mek)" fill="none" stroke="none"/></g>
<path d="M76.94 772.70v-4.2M99.37 772.70v-2.2M121.81 772.70v-4.2M144.25 772.70v-2.2M166.68 772.70v-4.2M189.12 772.70v-2.2M211.55 772.70v-4.2M233.99 772.70v-2.2M256.43 772.70v-4.2M278.86 772.70v-2.2M301.30 772.70v-4.2M54.50 772.70h2.2M54.50 750.67h4.2M54.50 728.63h2.2M54.50 706.60h4.2M54.50 684.57h2.2M54.50 662.53h4.2M54.50 640.50h2.2M54.50 618.47h4.2M54.50 596.43h2.2M54.50 574.40h4.2" stroke="#000" stroke-width="1.4" fill="none"/>
<rect x="54.50" y="574.40" width="246.80" height="198.30" fill="none" stroke="#000" stroke-width="1.9"/>
<text x="76.94" y="788.50" font-size="13.8" text-anchor="middle">0</text>
<text x="121.81" y="788.50" font-size="13.8" text-anchor="middle">1000</text>
<text x="166.68" y="788.50" font-size="13.8" text-anchor="middle">2000</text>
<text x="211.55" y="788.50" font-size="13.8" text-anchor="middle">3000</text>
<text x="256.43" y="788.50" font-size="13.8" text-anchor="middle">4000</text>
<text x="301.30" y="788.50" font-size="13.8" text-anchor="middle">5000</text>
<text x="49.60" y="755.17" font-size="13.8" text-anchor="end">0</text>
<text x="49.60" y="711.10" font-size="13.8" text-anchor="end">200</text>
<text x="49.60" y="667.03" font-size="13.8" text-anchor="end">400</text>
<text x="49.60" y="622.97" font-size="13.8" text-anchor="end">600</text>
<text x="49.60" y="578.90" font-size="13.8" text-anchor="end">800</text>
<text x="3.30" y="557.10" font-size="25">(</text><text x="12.95" y="557.10" font-size="25">e</text><text x="24.30" y="557.10" font-size="25">)</text>
<g transform="translate(18.70 714.20) rotate(-90)"><text x="-0.20" y="0.00" font-size="19" font-style="italic">d</text><text x="9.60" y="3.60" font-size="11.5">33</text><text x="21.00" y="0.00" font-size="19"> (pC N</text><text x="74.80" y="-7.60" font-size="11.5">-1</text><text x="84.20" y="0.00" font-size="19">)</text></g>
<g transform="translate(-0.60 534.60)"><text x="41.15" y="276.00" font-size="21.5" font-style="italic">D</text><text x="59.16" y="264.90" font-size="10">4</text><text x="57.00" y="280.00" font-size="12.3">simp</text><text x="81.10" y="276.00" font-size="21">:</text><text x="89.80" y="276.00" font-size="20">e</text><text x="99.00" y="267.20" font-size="14">(</text><text x="103.30" y="266.60" font-size="13" font-style="italic">NM</text><text x="125.00" y="271.70" font-size="8.5">B</text><text x="130.50" y="266.60" font-size="13">-</text><text x="134.10" y="266.60" font-size="13" font-style="italic">MV</text><text x="154.90" y="271.70" font-size="8.5">B</text><text x="165.80" y="267.60" font-size="14.5">)</text><text x="172.40" y="276.00" font-size="21">·</text><text x="179.40" y="276.00" font-size="21" font-style="italic">ST/(ID</text><text x="241.70" y="282.60" font-size="12">A</text><text x="250.60" y="276.00" font-size="21">)</text><text x="257.40" y="268.70" font-size="13">2</text></g>
<rect x="307.40" y="580.50" width="15.80" height="11.46" fill="#4d72b8"/>
<rect x="307.40" y="591.56" width="15.80" height="11.46" fill="#547eb3"/>
<rect x="307.40" y="602.63" width="15.80" height="11.46" fill="#5a87ae"/>
<rect x="307.40" y="613.69" width="15.80" height="11.46" fill="#618ea9"/>
<rect x="307.40" y="624.76" width="15.80" height="11.46" fill="#6993a2"/>
<rect x="307.40" y="635.82" width="15.80" height="11.46" fill="#73999a"/>
<rect x="307.40" y="646.89" width="15.80" height="11.46" fill="#7fa090"/>
<rect x="307.40" y="657.95" width="15.80" height="11.46" fill="#8ca686"/>
<rect x="307.40" y="669.02" width="15.80" height="11.46" fill="#98aa7a"/>
<rect x="307.40" y="680.08" width="15.80" height="11.46" fill="#a0ae72"/>
<rect x="307.40" y="691.15" width="15.80" height="11.46" fill="#a9b26a"/>
<rect x="307.40" y="702.21" width="15.80" height="11.46" fill="#b2b863"/>
<rect x="307.40" y="713.28" width="15.80" height="11.46" fill="#bcbe5c"/>
<rect x="307.40" y="724.34" width="15.80" height="11.46" fill="#c5c357"/>
<rect x="307.40" y="735.41" width="15.80" height="11.46" fill="#cdca52"/>
<rect x="307.40" y="746.47" width="15.80" height="11.46" fill="#d5d24d"/>
<rect x="307.40" y="757.54" width="15.80" height="11.46" fill="#dcdb4a"/>
<rect x="307.40" y="575.20" width="15.80" height="5.30" fill="#000"/>
<rect x="307.40" y="768.60" width="15.80" height="5.90" fill="#c8c8cc"/>
<text x="329.30" y="584.80" font-size="12.6">0.10</text>
<text x="329.30" y="616.15" font-size="12.6">0.09</text>
<text x="329.30" y="647.50" font-size="12.6">0.08</text>
<text x="329.30" y="678.85" font-size="12.6">0.07</text>
<text x="329.30" y="710.20" font-size="12.6">0.06</text>
<text x="329.30" y="741.55" font-size="12.6">0.05</text>
<text x="329.30" y="772.90" font-size="12.6">0.04</text>
<path d="M323.20 580.40h3.8M323.20 596.07h-1.6M323.20 611.75h3.8M323.20 627.42h-1.6M323.20 643.10h3.8M323.20 658.77h-1.6M323.20 674.45h3.8M323.20 690.12h-1.6M323.20 705.80h3.8M323.20 721.47h-1.6M323.20 737.15h3.8M323.20 752.82h-1.6M323.20 768.50h3.8" stroke="#222" stroke-width="1.1" fill="none"/>
<text x="306.50" y="568.50" font-size="13.2" font-style="italic">ID</text>
<text x="321.00" y="571.40" font-size="8">A</text>
<g clip-path="url(#clipLg)"><path d="M217.0 986.9L223.1 975.2L172.9 1016.9L155.0 1016.9" marker-start="url(#mg10)" marker-mid="url(#mg10)" marker-end="url(#mg10)" fill="none" stroke="none"/><path d="M120.9 941.7" marker-start="url(#mg15)" marker-mid="url(#mg15)" marker-end="url(#mg15)" fill="none" stroke="none"/><path d="M270.1 984.3L164.7 963.8L118.7 899.0L133.7 974.9L118.6 906.6" marker-start="url(#mg16)" marker-mid="url(#mg16)" marker-end="url(#mg16)" fill="none" stroke="none"/><path d="M130.3 932.7L117.4 961.2L163.0 935.3L127.4 913.3L199.0 1005.6L173.0 947.7L115.4 996.4L203.9 984.2L138.8 954.4L139.6 938.0L187.3 971.2L233.7 964.3L181.9 982.1" marker-start="url(#mg17)" marker-mid="url(#mg17)" marker-end="url(#mg17)" fill="none" stroke="none"/><path d="M184.3 1006.7L210.0 979.5L90.7 976.2L155.4 963.6L149.4 977.8L160.3 985.5L140.1 921.5L122.2 911.4L121.7 903.3L175.3 957.7L175.6 955.5L179.6 991.2L136.2 992.2L250.7 977.5L258.8 993.7L123.9 959.3L156.9 970.8L117.4 962.5L176.8 957.7L144.5 988.5L153.6 984.8L168.4 999.7L172.0 950.6L137.3 976.4L161.3 982.3L125.9 932.3L160.0 966.1L241.1 1002.1L130.2 971.9" marker-start="url(#mg18)" marker-mid="url(#mg18)" marker-end="url(#mg18)" fill="none" stroke="none"/><path d="M118.2 940.5L139.6 978.5L262.1 984.1L94.2 1002.9L129.7 919.8L106.2 1009.9L200.0 992.0L146.9 980.0L224.7 977.7L170.4 987.1L206.3 1009.8L148.6 946.8L180.6 984.4L180.1 936.3L222.9 999.0L239.7 981.7L130.5 988.2L143.9 977.0L244.8 978.4L237.5 1000.0L101.7 966.6L163.1 946.5L170.2 996.5L260.8 999.3L268.3 980.2L145.9 980.7L142.0 949.9L270.9 979.5L126.8 909.9L96.1 977.0L169.8 953.7L155.7 980.3L171.6 985.8L267.3 983.7L198.0 973.2L229.2 1006.5L257.0 999.2L207.2 992.1L268.2 981.0L103.5 891.4" marker-start="url(#mg19)" marker-mid="url(#mg19)" marker-end="url(#mg19)" fill="none" stroke="none"/><path d="M228.1 990.1L141.5 918.9L254.3 995.4L154.0 989.8L257.9 974.8L246.7 995.4L224.8 984.9L235.7 986.3L172.0 978.6L124.5 954.4L275.0 991.2L173.3 957.8L119.6 976.1L260.0 999.0L262.7 994.4L157.1 984.7L203.8 978.2L199.2 973.4L228.1 962.0L225.4 980.1L148.7 961.1L137.2 956.8L192.7 986.6L112.1 1008.1L158.1 932.8L266.3 985.1L241.6 994.5L146.7 928.3L227.3 999.7L109.8 993.8L257.8 987.8L233.5 980.5L128.3 988.0L130.4 916.1L180.8 1005.3L132.5 956.3L194.6 989.1L230.4 1002.0L175.4 1000.9L134.8 981.1L198.9 985.2" marker-start="url(#mg20)" marker-mid="url(#mg20)" marker-end="url(#mg20)" fill="none" stroke="none"/><path d="M241.3 988.8L119.6 907.6L232.7 981.7L181.1 977.3L245.8 1001.9L206.9 988.4L140.0 968.6L165.1 975.0L120.6 987.1L182.4 1003.5L176.1 976.5L140.1 935.1L267.0 1003.6L213.4 985.3L265.5 990.2L166.4 979.6L139.7 905.7L151.6 1016.5L253.2 969.3L161.8 929.9L159.8 983.6L133.5 965.2L137.4 923.5L126.4 897.1L211.8 1011.0L219.4 946.3L172.0 959.8L133.1 949.7L256.2 1002.1L174.7 961.0L122.9 916.1L192.9 987.0L202.2 1006.2L230.3 998.5L120.2 915.7L167.3 958.3L165.0 1002.1L224.6 994.8L224.2 990.6L116.6 919.2L208.7 1000.6L165.4 929.4L137.6 926.9L121.4 920.9L154.7 960.9L258.0 962.9L119.4 909.0L121.8 980.7L258.9 993.2L131.8 945.3L233.9 985.5L134.6 978.9L120.5 946.7L148.2 936.1L147.3 942.9L237.8 967.3L163.9 960.4L121.8 986.9L220.1 976.8L133.0 910.7" marker-start="url(#mg21)" marker-mid="url(#mg21)" marker-end="url(#mg21)" fill="none" stroke="none"/><path d="M141.3 966.7L138.8 936.6L152.2 945.0L126.7 1006.3L92.6 1016.9L241.2 999.5L237.7 1002.4L253.0 998.0L123.6 974.3L129.3 925.1L104.9 886.9L249.8 982.3L157.6 992.1L271.6 992.0L143.9 986.8L262.4 984.1L142.5 941.0L123.4 926.8L134.8 985.4L259.3 991.9L129.2 971.9L188.0 974.7L209.3 972.0L111.6 880.1L189.0 993.3L124.4 1016.9L126.2 943.1L144.2 951.6L162.5 977.6L170.4 978.8L202.3 977.2L195.2 982.6L190.3 965.9L160.5 944.6L119.7 963.0L124.1 950.2" marker-start="url(#mg22)" marker-mid="url(#mg22)" marker-end="url(#mg22)" fill="none" stroke="none"/><path d="M250.5 991.1L128.5 948.0L180.8 965.4L117.5 1001.1L177.0 970.7L226.5 1000.0L166.2 947.3L234.0 979.8L110.9 868.5L117.4 936.3L125.4 954.9L191.3 981.6L167.6 989.6L167.3 981.7L124.6 987.1L226.9 998.8L249.1 955.1L245.5 992.1L116.4 1009.6L139.5 987.6L123.5 910.7L104.6 1012.4L139.6 909.0L264.2 992.8L120.9 925.6L234.6 943.4L137.5 990.0" marker-start="url(#mg23)" marker-mid="url(#mg23)" marker-end="url(#mg23)" fill="none" stroke="none"/><path d="M141.7 949.7L134.2 1008.1L189.7 985.8L150.8 937.2L103.0 917.5L131.5 991.5L185.5 972.2L200.1 979.3L172.6 978.0L151.3 980.4L232.2 955.6L208.5 976.7L153.3 985.5" marker-start="url(#mg24)" marker-mid="url(#mg24)" marker-end="url(#mg24)" fill="none" stroke="none"/><path d="M131.6 957.2L123.4 898.1L198.2 973.7L193.3 973.8L157.1 984.3L115.8 949.3L101.8 968.8L130.8 920.1L123.4 920.1L194.8 987.1L250.7 995.4" marker-start="url(#mg25)" marker-mid="url(#mg25)" marker-end="url(#mg25)" fill="none" stroke="none"/><path d="M166.9 935.9L140.0 1013.5L136.2 917.4L224.9 992.3L216.8 968.2L220.6 978.8L160.3 940.8L163.3 1008.1L266.4 992.0L210.1 981.1L222.9 988.7" marker-start="url(#mg26)" marker-mid="url(#mg26)" marker-end="url(#mg26)" fill="none" stroke="none"/><path d="M247.9 984.4L232.7 999.6L117.6 963.1L200.8 994.6L161.0 992.1L162.0 972.2L138.5 989.1L179.4 942.5L178.7 988.2" marker-start="url(#mg27)" marker-mid="url(#mg27)" marker-end="url(#mg27)" fill="none" stroke="none"/><path d="M114.9 976.8L128.3 960.7L109.1 998.8L162.3 953.8L117.8 910.1L121.8 1016.9L117.7 985.8L200.7 986.3L118.3 967.5L123.0 970.8L151.8 987.8L138.1 916.5L149.2 983.7L149.8 931.4" marker-start="url(#mg28)" marker-mid="url(#mg28)" marker-end="url(#mg28)" fill="none" stroke="none"/><path d="M158.0 966.3L148.7 973.8L190.3 980.0L113.2 984.4" marker-start="url(#mg33)" marker-mid="url(#mg33)" marker-end="url(#mg33)" fill="none" stroke="none"/><path d="M168.0 964.1L185.5 975.5L154.0 998.1L268.6 952.7" marker-start="url(#mg34)" marker-mid="url(#mg34)" marker-end="url(#mg34)" fill="none" stroke="none"/><path d="M265.2 1002.3L138.4 938.8L131.4 936.0L98.5 962.9L266.2 994.0L139.3 968.6" marker-start="url(#mg35)" marker-mid="url(#mg35)" marker-end="url(#mg35)" fill="none" stroke="none"/><path d="M128.5 923.4L155.9 970.1L196.9 990.8L126.8 957.7L140.5 1003.1L199.0 971.9L91.1 979.9L236.7 1008.5" marker-start="url(#mg36)" marker-mid="url(#mg36)" marker-end="url(#mg36)" fill="none" stroke="none"/><path d="M137.2 968.4L127.7 921.9L242.4 977.2L114.7 956.4" marker-start="url(#mg37)" marker-mid="url(#mg37)" marker-end="url(#mg37)" fill="none" stroke="none"/><path d="M127.0 922.8L127.5 907.8" marker-start="url(#mg4)" marker-mid="url(#mg4)" marker-end="url(#mg4)" fill="none" stroke="none"/><path d="M152.9 994.4" marker-start="url(#mg5)" marker-mid="url(#mg5)" marker-end="url(#mg5)" fill="none" stroke="none"/><path d="M176.2 988.6" marker-start="url(#mg6)" marker-mid="url(#mg6)" marker-end="url(#mg6)" fill="none" stroke="none"/><path d="M194.5 989.6L193.8 961.0L189.2 1001.6" marker-start="url(#mg7)" marker-mid="url(#mg7)" marker-end="url(#mg7)" fill="none" stroke="none"/><path d="M161.7 928.8L174.7 959.1" marker-start="url(#mg8)" marker-mid="url(#mg8)" marker-end="url(#mg8)" fill="none" stroke="none"/><path d="M136.0 932.4" marker-start="url(#mg9)" marker-mid="url(#mg9)" marker-end="url(#mg9)" fill="none" stroke="none"/><path d="M241.8 965.7L232.2 992.5L195.4 983.2L238.8 986.0L221.7 985.2L238.1 985.3" marker-start="url(#mg10)" marker-mid="url(#mg10)" marker-end="url(#mg10)" fill="none" stroke="none"/><path d="M119.2 988.8L123.1 910.1L185.2 972.8L136.3 975.2L126.9 986.5L241.9 995.7" marker-start="url(#mg16)" marker-mid="url(#mg16)" marker-end="url(#mg16)" fill="none" stroke="none"/><path d="M274.5 1001.8L127.3 971.5L162.9 944.2L129.1 902.7L261.8 981.7L123.8 940.6L240.3 1004.3L166.6 975.2L166.0 929.7L123.0 958.4L165.0 974.8L120.8 978.6" marker-start="url(#mg17)" marker-mid="url(#mg17)" marker-end="url(#mg17)" fill="none" stroke="none"/><path d="M128.0 953.1L131.5 945.3L143.0 966.8L119.7 949.4L166.8 1016.9L134.3 959.4L275.0 988.6L165.4 956.4L140.3 942.7L162.4 979.0L188.6 983.0L146.5 972.7L245.1 979.7L266.0 985.9L163.3 941.8L162.7 985.3L177.6 940.4L173.7 993.5L117.5 911.5L126.9 997.8L259.3 987.6L171.3 990.1L116.5 984.1L166.9 940.7L167.7 998.3L173.0 960.1L171.0 955.4L132.4 896.4L164.2 977.0L131.6 943.0L120.6 966.2L256.7 982.3L151.5 959.5" marker-start="url(#mg18)" marker-mid="url(#mg18)" marker-end="url(#mg18)" fill="none" stroke="none"/><path d="M172.4 956.3L170.9 972.6L138.0 914.5L260.9 993.3L264.5 979.8L147.9 960.4L167.7 964.8L127.5 991.0L174.0 990.4L267.5 999.5L224.3 984.8L127.9 985.1L236.3 953.8L194.0 991.9L261.3 1000.4L164.6 950.5L182.4 975.5L171.7 994.7L219.3 998.3L158.8 928.6L251.7 997.0L175.6 994.7L142.2 913.0L131.2 907.5L174.2 946.3L167.6 942.5L238.5 976.4L166.6 948.9L118.8 949.2L123.5 938.2L127.6 898.8L169.8 974.3L125.7 897.1L139.3 964.3L157.7 998.7L192.2 981.2L242.8 993.1L128.8 986.2L113.4 908.8L139.8 1003.4L242.2 1001.1L121.7 918.6L94.8 998.1L141.6 955.9L134.8 929.3L140.1 976.4L172.0 986.9L251.9 991.9L116.2 970.3L259.6 980.7" marker-start="url(#mg19)" marker-mid="url(#mg19)" marker-end="url(#mg19)" fill="none" stroke="none"/><path d="M217.8 978.6L145.1 989.4L204.1 974.9L177.5 954.2L173.6 988.7L119.3 948.2L101.3 897.6L137.8 935.2L125.3 960.1L139.2 939.6L178.6 948.4L252.6 1002.7L163.3 984.2L130.3 916.6L119.3 958.4L119.9 968.3L226.9 962.8L188.9 982.3L148.1 1004.1L95.2 1008.1L137.2 986.1L103.9 1000.5L247.1 978.8L144.8 917.5L253.8 999.7L110.3 1016.9L137.1 982.3L194.8 973.4L215.5 975.3L191.4 987.4L245.9 978.9L117.7 961.4L165.0 960.1L124.6 989.9L161.3 984.1L206.9 987.3L249.3 1004.0L141.4 992.0L186.8 949.3L157.6 1006.4L126.4 945.8L161.6 990.2" marker-start="url(#mg20)" marker-mid="url(#mg20)" marker-end="url(#mg20)" fill="none" stroke="none"/><path d="M127.1 946.1L235.5 986.0L141.4 969.4L134.9 1002.6L147.5 959.3L160.0 983.4L175.3 1002.1L184.8 951.5L133.6 959.9L150.6 936.7L148.9 962.2L137.1 943.0L117.2 944.3L190.7 979.5L281.5 1006.3L150.4 994.6L187.8 994.4L130.2 934.4L148.6 1004.8L141.2 968.3L200.4 971.5L140.3 949.1L148.2 994.2L249.9 988.0L123.0 902.0L137.4 1010.4L132.0 909.9L254.8 959.6L227.5 988.6L150.1 939.8L124.9 881.6L151.0 945.4L181.0 982.0L135.7 937.5L123.3 896.7L171.9 933.2L131.4 939.1L188.3 993.4L167.3 985.6L119.4 930.7L154.4 989.5L137.8 971.9L123.7 1008.5L142.0 972.3L104.5 883.8L228.8 982.0L120.4 922.8" marker-start="url(#mg21)" marker-mid="url(#mg21)" marker-end="url(#mg21)" fill="none" stroke="none"/><path d="M158.0 981.1L141.3 939.6L250.7 992.4L119.8 959.2L78.2 963.8L132.2 981.2L141.6 992.2L222.2 996.0L169.2 972.0L123.9 905.1L115.7 916.1L216.8 977.8L105.7 887.8L165.4 932.4L249.0 968.9L257.2 993.1L140.0 967.5L226.7 1003.8L86.3 997.6L251.3 1004.9L143.3 927.5L155.1 970.4L128.9 975.3L154.9 994.7L126.8 982.3" marker-start="url(#mg22)" marker-mid="url(#mg22)" marker-end="url(#mg22)" fill="none" stroke="none"/><path d="M158.3 993.8L166.1 986.6L167.4 962.2L194.4 981.2L208.3 951.4L120.6 905.6L262.3 981.0L216.6 968.8L158.3 992.6L208.8 999.3L245.0 988.5L226.6 992.7L167.0 981.6L201.5 991.7L137.6 923.0L269.3 977.9L259.5 978.7L134.3 970.8L173.7 992.4L126.6 913.9L117.2 970.9L140.3 972.1L128.3 937.0L163.4 971.4L120.8 964.9" marker-start="url(#mg23)" marker-mid="url(#mg23)" marker-end="url(#mg23)" fill="none" stroke="none"/><path d="M180.8 975.8L130.7 971.4L129.3 959.8L126.2 994.2L208.8 982.7L134.4 907.5L138.0 934.4L237.8 1010.7L123.2 968.8L242.0 979.8" marker-start="url(#mg24)" marker-mid="url(#mg24)" marker-end="url(#mg24)" fill="none" stroke="none"/><path d="M147.9 949.3L156.8 973.5L135.5 971.2L152.4 1002.9L266.7 985.7L263.9 992.5L123.8 997.6L217.6 970.4L134.1 934.0L106.6 1007.7L169.3 941.6L167.8 969.0L122.6 1006.6" marker-start="url(#mg25)" marker-mid="url(#mg25)" marker-end="url(#mg25)" fill="none" stroke="none"/><path d="M214.9 975.3L151.6 964.3L253.0 990.3L233.6 989.1L117.3 939.7L120.7 949.0L136.7 902.3L139.3 951.9L161.9 964.1L178.3 951.8" marker-start="url(#mg26)" marker-mid="url(#mg26)" marker-end="url(#mg26)" fill="none" stroke="none"/><path d="M261.5 986.5L244.7 988.6L196.3 976.4L144.3 920.1L178.5 995.8L143.0 950.0L103.9 894.5L176.2 979.5L165.7 980.7L155.7 999.3L113.0 997.8L241.8 995.9L107.2 891.8" marker-start="url(#mg27)" marker-mid="url(#mg27)" marker-end="url(#mg27)" fill="none" stroke="none"/><path d="M124.5 932.3L256.0 986.7L148.1 976.8" marker-start="url(#mg28)" marker-mid="url(#mg28)" marker-end="url(#mg28)" fill="none" stroke="none"/><path d="M135.9 987.4L193.9 987.9L104.2 965.7L134.8 888.7L264.6 986.4L123.5 975.3L244.2 991.2L236.3 971.4L267.8 962.0L153.2 1004.7" marker-start="url(#mg33)" marker-mid="url(#mg33)" marker-end="url(#mg33)" fill="none" stroke="none"/><path d="M272.9 1001.4L265.1 996.2L148.8 959.9L97.3 962.2" marker-start="url(#mg34)" marker-mid="url(#mg34)" marker-end="url(#mg34)" fill="none" stroke="none"/><path d="M166.0 993.4L168.5 954.9L247.6 996.4L150.0 964.9L137.1 955.1L163.7 942.0L261.5 990.2L216.3 991.1L120.4 982.4" marker-start="url(#mg35)" marker-mid="url(#mg35)" marker-end="url(#mg35)" fill="none" stroke="none"/><path d="M212.4 973.6L111.2 977.9L228.8 985.6L133.2 960.9L204.6 968.6L237.6 979.0L122.5 939.4L87.3 997.4L233.3 1002.1L145.9 975.4" marker-start="url(#mg36)" marker-mid="url(#mg36)" marker-end="url(#mg36)" fill="none" stroke="none"/><path d="M147.5 982.6L119.9 997.2L133.7 953.8L175.0 976.5" marker-start="url(#mg37)" marker-mid="url(#mg37)" marker-end="url(#mg37)" fill="none" stroke="none"/><path d="M269.5 982.7L204.0 983.3L213.9 973.2L233.6 964.6" marker-start="url(#mg5)" marker-mid="url(#mg5)" marker-end="url(#mg5)" fill="none" stroke="none"/><path d="M265.2 989.2" marker-start="url(#mg6)" marker-mid="url(#mg6)" marker-end="url(#mg6)" fill="none" stroke="none"/><path d="M167.6 957.4L257.1 995.9L177.6 948.1L175.3 930.1L153.3 953.0L167.2 948.9" marker-start="url(#mg7)" marker-mid="url(#mg7)" marker-end="url(#mg7)" fill="none" stroke="none"/><path d="M193.3 988.1L230.7 999.8L140.4 928.1L166.8 1008.1" marker-start="url(#mg8)" marker-mid="url(#mg8)" marker-end="url(#mg8)" fill="none" stroke="none"/><path d="M158.3 938.4L177.3 987.5" marker-start="url(#mg9)" marker-mid="url(#mg9)" marker-end="url(#mg9)" fill="none" stroke="none"/><path d="M174.4 976.1" marker-start="url(#mg10)" marker-mid="url(#mg10)" marker-end="url(#mg10)" fill="none" stroke="none"/><path d="M145.8 940.2" marker-start="url(#mg14)" marker-mid="url(#mg14)" marker-end="url(#mg14)" fill="none" stroke="none"/><path d="M129.9 929.1L167.6 1006.2L220.8 959.2L148.9 985.3" marker-start="url(#mg16)" marker-mid="url(#mg16)" marker-end="url(#mg16)" fill="none" stroke="none"/><path d="M234.9 979.4L151.3 924.1L185.1 987.6L177.2 988.7L138.9 956.1L161.3 971.2L196.7 977.4L108.6 875.6L130.0 903.5L262.0 1004.8L155.9 985.3L130.8 919.3L121.2 965.8L233.3 990.3L173.2 987.1L171.4 969.6L172.0 934.3L190.3 963.9L173.1 965.7L238.7 976.3" marker-start="url(#mg17)" marker-mid="url(#mg17)" marker-end="url(#mg17)" fill="none" stroke="none"/><path d="M130.1 987.3L177.0 973.1L252.5 961.6L157.6 958.3L155.9 947.2L127.0 998.2L131.2 990.7L129.2 985.8L228.6 1002.9L134.0 1000.6L147.8 933.0L227.3 953.8L145.2 982.7L259.4 996.2L152.9 940.1L262.3 980.4L267.8 998.5L138.5 912.9L157.4 996.2L237.2 996.3L263.0 988.3L152.5 979.7L136.1 970.3L238.2 995.6L206.1 992.2L125.5 964.8L121.7 944.0" marker-start="url(#mg18)" marker-mid="url(#mg18)" marker-end="url(#mg18)" fill="none" stroke="none"/><path d="M113.2 931.9L133.8 924.6L169.4 996.7L132.5 981.2L183.8 977.2L177.4 980.6L202.3 971.0L138.5 971.8L261.6 997.9L144.7 923.0L125.2 954.9L265.4 993.6L186.9 980.6L208.0 976.6L142.4 986.9L157.9 1016.9L120.9 935.8L158.6 997.5L134.1 915.9L119.7 977.2L244.6 992.9L204.7 985.3L159.9 954.4L202.8 1011.2L97.6 976.6L132.8 932.5L166.1 949.6L248.1 998.9L160.0 962.4L130.5 941.5L127.9 939.8L146.7 996.0L131.6 934.1L169.8 964.5L143.2 949.3L127.5 986.3L151.8 955.3L243.5 966.9L154.4 974.2L137.9 978.1L138.7 973.5L155.9 947.4L148.2 993.7L175.7 969.9L183.1 972.3L208.9 970.3L115.7 911.2L153.6 979.9L158.8 993.1L142.4 952.2L146.6 952.7L158.0 974.5L170.6 954.4L147.0 999.2L133.6 982.2" marker-start="url(#mg19)" marker-mid="url(#mg19)" marker-end="url(#mg19)" fill="none" stroke="none"/><path d="M154.4 968.2L129.9 964.8L110.6 995.4L190.3 978.3L115.9 980.1L217.0 1013.6L272.7 978.1L130.3 969.5L119.1 967.3L151.1 948.0L197.1 982.1L122.4 983.4L124.5 990.5L119.6 974.4L175.9 988.7L116.9 982.6L158.5 990.8L225.1 998.9L98.8 925.0L232.6 1001.5L122.8 986.7L262.1 1004.6L120.2 991.9L241.9 993.8L95.0 982.6L255.8 991.3L133.1 909.8L116.4 928.4L168.6 957.7L130.1 936.9L247.8 987.2L163.1 959.0L134.4 933.6L99.5 923.2L145.0 959.6L157.2 910.8L163.9 973.5L245.7 1004.1L256.8 966.2L95.5 967.3L227.1 999.3L140.8 927.4L226.9 987.6L124.3 899.8L126.0 906.2L119.9 904.5L157.3 940.1L139.1 970.3L249.3 984.5L204.7 982.4L175.8 936.7L243.1 999.1L147.7 940.5L133.9 905.4L142.2 998.8" marker-start="url(#mg20)" marker-mid="url(#mg20)" marker-end="url(#mg20)" fill="none" stroke="none"/><path d="M168.3 942.9L257.2 970.2L147.4 943.2L174.7 1001.2L129.4 963.7L134.2 930.5L148.3 988.0L244.4 981.9L159.8 960.1L194.5 990.9L119.8 958.7L167.1 971.9L249.2 983.4L126.6 977.6L256.6 977.1L239.1 978.5L149.4 952.0L115.4 950.2L155.7 940.6L167.1 947.2L246.3 986.7L252.5 997.4L158.4 934.0L142.9 987.6L122.5 995.1L201.0 994.4L173.6 971.1L132.3 989.6L134.3 985.4L145.1 928.0L228.1 967.8L213.7 978.0L144.1 928.5L255.6 983.4L161.9 995.8L198.5 970.4L129.9 909.8L168.8 1014.1L146.6 988.2L264.4 976.5L117.9 973.1L246.8 989.6L235.0 980.0" marker-start="url(#mg21)" marker-mid="url(#mg21)" marker-end="url(#mg21)" fill="none" stroke="none"/><path d="M248.1 995.1L120.1 920.7L255.8 990.8L128.9 953.0L134.9 926.5L191.1 980.7L262.1 995.3L199.3 989.0L153.6 952.8L142.0 983.6L117.7 967.8L134.6 991.2L198.8 991.8L120.6 961.9L118.8 935.1L147.2 983.0L243.8 987.0L213.9 981.3L133.3 948.4L210.7 978.8L185.0 975.2L173.7 993.0L131.7 930.8L117.3 1016.9L177.6 1002.0L189.0 1015.1L167.7 986.8L215.9 975.6L131.7 940.5L151.8 1008.1L114.1 978.6L221.8 975.5L220.3 994.4L267.0 989.9L156.9 949.7L223.8 963.0L141.9 913.1L157.5 1001.2" marker-start="url(#mg22)" marker-mid="url(#mg22)" marker-end="url(#mg22)" fill="none" stroke="none"/><path d="M240.2 959.0L156.9 1004.8L116.1 908.4L180.0 994.5L127.7 928.7L150.7 962.4L174.1 1014.0L160.5 995.5L151.8 982.0L268.5 984.0L131.5 921.2L146.5 1008.1L236.8 991.7L146.9 987.8L267.5 992.7L152.6 946.4L117.6 961.6" marker-start="url(#mg23)" marker-mid="url(#mg23)" marker-end="url(#mg23)" fill="none" stroke="none"/><path d="M136.7 997.1L198.2 970.8L122.1 942.1L178.1 947.7L139.4 935.8L233.3 1003.0L157.2 953.9L153.6 936.8L130.4 906.9L220.6 974.6L215.5 963.8L246.6 994.4" marker-start="url(#mg24)" marker-mid="url(#mg24)" marker-end="url(#mg24)" fill="none" stroke="none"/><path d="M168.8 994.3L134.2 978.1L112.3 891.4L123.1 920.9L126.3 947.8L112.8 958.0L156.6 994.1L265.4 1000.1" marker-start="url(#mg25)" marker-mid="url(#mg25)" marker-end="url(#mg25)" fill="none" stroke="none"/><path d="M132.0 943.4L140.2 1000.7L124.2 927.1L157.0 993.7L143.8 1016.9L177.2 989.9L194.8 982.3" marker-start="url(#mg26)" marker-mid="url(#mg26)" marker-end="url(#mg26)" fill="none" stroke="none"/><path d="M145.0 943.4L128.8 975.7L228.7 1007.1L142.4 985.0L125.1 941.8L152.5 997.9L151.8 996.9L164.6 975.0L118.6 917.6L136.2 974.2" marker-start="url(#mg27)" marker-mid="url(#mg27)" marker-end="url(#mg27)" fill="none" stroke="none"/><path d="M120.5 942.4L134.6 991.2" marker-start="url(#mg32)" marker-mid="url(#mg32)" marker-end="url(#mg32)" fill="none" stroke="none"/><path d="M120.1 969.3L140.3 1003.4L133.0 968.5L121.4 957.1L162.7 971.6" marker-start="url(#mg33)" marker-mid="url(#mg33)" marker-end="url(#mg33)" fill="none" stroke="none"/><path d="M131.0 948.4L138.7 925.4L251.6 988.4" marker-start="url(#mg34)" marker-mid="url(#mg34)" marker-end="url(#mg34)" fill="none" stroke="none"/><path d="M253.2 990.5L230.6 985.7L107.7 960.4L113.7 925.7L141.9 972.9L207.0 987.9L162.9 995.4L113.3 995.3" marker-start="url(#mg35)" marker-mid="url(#mg35)" marker-end="url(#mg35)" fill="none" stroke="none"/><path d="M117.1 918.1L231.3 977.9L128.4 989.5L132.0 902.3L183.7 1003.3L255.0 996.5L166.4 936.0L198.9 988.0L225.0 983.1L130.9 949.2L140.3 963.7L258.7 982.9L187.4 976.2" marker-start="url(#mg36)" marker-mid="url(#mg36)" marker-end="url(#mg36)" fill="none" stroke="none"/><path d="M239.2 1005.7L256.3 981.9L246.7 998.5L138.5 925.2L159.1 949.9L120.1 994.8" marker-start="url(#mg37)" marker-mid="url(#mg37)" marker-end="url(#mg37)" fill="none" stroke="none"/><path d="M250.7 982.7L239.1 984.8" marker-start="url(#mg4)" marker-mid="url(#mg4)" marker-end="url(#mg4)" fill="none" stroke="none"/><path d="M245.6 984.1L178.7 985.1L106.4 1008.1L156.5 955.5L167.8 982.5" marker-start="url(#mg5)" marker-mid="url(#mg5)" marker-end="url(#mg5)" fill="none" stroke="none"/><path d="M180.1 974.2L191.7 973.6L235.0 944.3L190.4 1001.1" marker-start="url(#mg6)" marker-mid="url(#mg6)" marker-end="url(#mg6)" fill="none" stroke="none"/><path d="M135.0 922.3L249.1 979.0L119.2 914.9" marker-start="url(#mg9)" marker-mid="url(#mg9)" marker-end="url(#mg9)" fill="none" stroke="none"/><path d="M173.7 993.0L179.6 991.2L194.0 991.9L236.7 1008.5L245.7 1004.1L262.4 984.1L267.3 983.7L275.0 991.2L252.5 997.4" marker-start="url(#mgk)" marker-mid="url(#mgk)" marker-end="url(#mgk)" fill="none" stroke="none"/></g>
<path d="M76.91 1039.50v-4.2M99.42 1039.50v-2.2M121.93 1039.50v-4.2M144.44 1039.50v-2.2M166.95 1039.50v-4.2M189.45 1039.50v-2.2M211.96 1039.50v-4.2M234.47 1039.50v-2.2M256.98 1039.50v-4.2M279.49 1039.50v-2.2M302.00 1039.50v-4.2M54.40 1039.50h2.2M54.40 1017.36h4.2M54.40 995.21h2.2M54.40 973.07h4.2M54.40 950.92h2.2M54.40 928.78h4.2M54.40 906.63h2.2M54.40 884.49h4.2M54.40 862.34h2.2M54.40 840.20h4.2" stroke="#000" stroke-width="1.4" fill="none"/>
<rect x="54.40" y="840.20" width="247.60" height="199.30" fill="none" stroke="#000" stroke-width="1.9"/>
<text x="76.91" y="1055.30" font-size="13.8" text-anchor="middle">0</text>
<text x="121.93" y="1055.30" font-size="13.8" text-anchor="middle">1000</text>
<text x="166.95" y="1055.30" font-size="13.8" text-anchor="middle">2000</text>
<text x="211.96" y="1055.30" font-size="13.8" text-anchor="middle">3000</text>
<text x="256.98" y="1055.30" font-size="13.8" text-anchor="middle">4000</text>
<text x="302.00" y="1055.30" font-size="13.8" text-anchor="middle">5000</text>
<text x="49.50" y="1021.86" font-size="13.8" text-anchor="end">0</text>
<text x="49.50" y="977.57" font-size="13.8" text-anchor="end">200</text>
<text x="49.50" y="933.28" font-size="13.8" text-anchor="end">400</text>
<text x="49.50" y="888.99" font-size="13.8" text-anchor="end">600</text>
<text x="49.50" y="844.70" font-size="13.8" text-anchor="end">800</text>
<text x="3.30" y="818.00" font-size="25">(</text><text x="12.95" y="818.00" font-size="25">g</text><text x="26.10" y="818.00" font-size="25">)</text>
<g transform="translate(21.50 986.40) rotate(-90)"><text x="-0.20" y="0.00" font-size="19" font-style="italic">d</text><text x="9.60" y="3.60" font-size="11.5">33</text><text x="21.00" y="0.00" font-size="19"> (pC N</text><text x="74.80" y="-7.60" font-size="11.5">-1</text><text x="84.20" y="0.00" font-size="19">)</text></g>
<g transform="translate(17.20 802.50)"><text x="41.15" y="276.00" font-size="21.5" font-style="italic">D</text><text x="59.16" y="264.90" font-size="10">4</text><text x="57.00" y="280.00" font-size="12.3">simp</text><text x="82.60" y="276.00" font-size="21">:</text><text x="94.80" y="276.00" font-size="20">e</text><text x="104.00" y="267.20" font-size="14">(</text><text x="108.30" y="266.60" font-size="13" font-style="italic">NM</text><text x="130.00" y="271.70" font-size="8.5">B</text><text x="135.50" y="266.60" font-size="13">-</text><text x="139.10" y="266.60" font-size="13" font-style="italic">MV</text><text x="159.90" y="271.70" font-size="8.5">B</text><text x="170.80" y="267.60" font-size="14.5">)</text><text x="177.40" y="276.00" font-size="21">·</text><text x="184.40" y="276.00" font-size="21" font-style="italic">ST/(ID</text><text x="246.70" y="282.60" font-size="12">A</text><text x="255.60" y="276.00" font-size="21">)</text><text x="262.40" y="268.70" font-size="13">2</text></g>
<rect x="307.40" y="844.70" width="15.70" height="11.58" fill="#4d72b8"/>
<rect x="307.40" y="855.88" width="15.70" height="11.58" fill="#547eb3"/>
<rect x="307.40" y="867.06" width="15.70" height="11.58" fill="#5a87ae"/>
<rect x="307.40" y="878.25" width="15.70" height="11.58" fill="#618ea9"/>
<rect x="307.40" y="889.43" width="15.70" height="11.58" fill="#6993a2"/>
<rect x="307.40" y="900.61" width="15.70" height="11.58" fill="#73999a"/>
<rect x="307.40" y="911.79" width="15.70" height="11.58" fill="#7fa090"/>
<rect x="307.40" y="922.98" width="15.70" height="11.58" fill="#8ca686"/>
<rect x="307.40" y="934.16" width="15.70" height="11.58" fill="#98aa7a"/>
<rect x="307.40" y="945.34" width="15.70" height="11.58" fill="#a0ae72"/>
<rect x="307.40" y="956.52" width="15.70" height="11.58" fill="#a9b26a"/>
<rect x="307.40" y="967.71" width="15.70" height="11.58" fill="#b2b863"/>
<rect x="307.40" y="978.89" width="15.70" height="11.58" fill="#bcbe5c"/>
<rect x="307.40" y="990.07" width="15.70" height="11.58" fill="#c5c357"/>
<rect x="307.40" y="1001.25" width="15.70" height="11.58" fill="#cdca52"/>
<rect x="307.40" y="1012.44" width="15.70" height="11.58" fill="#d5d24d"/>
<rect x="307.40" y="1023.62" width="15.70" height="11.58" fill="#dcdb4a"/>
<rect x="307.40" y="839.30" width="15.70" height="5.40" fill="#000"/>
<rect x="307.40" y="1034.80" width="15.70" height="5.20" fill="#c8c8cc"/>
<text x="329.10" y="849.20" font-size="12.6">1200</text>
<text x="329.10" y="868.20" font-size="12.6">1180</text>
<text x="329.10" y="887.20" font-size="12.6">1160</text>
<text x="329.10" y="906.20" font-size="12.6">1140</text>
<text x="329.10" y="925.20" font-size="12.6">1120</text>
<text x="329.10" y="944.20" font-size="12.6">1100</text>
<text x="329.10" y="963.20" font-size="12.6">1080</text>
<text x="329.10" y="982.20" font-size="12.6">1060</text>
<text x="329.10" y="1001.20" font-size="12.6">1040</text>
<text x="329.10" y="1020.20" font-size="12.6">1020</text>
<text x="329.10" y="1039.20" font-size="12.6">1000</text>
<path d="M323.10 844.80h3.8M323.10 863.80h3.8M323.10 882.80h3.8M323.10 901.80h3.8M323.10 920.80h3.8M323.10 939.80h3.8M323.10 958.80h3.8M323.10 977.80h3.8M323.10 996.80h3.8M323.10 1015.80h3.8M323.10 1034.80h3.8" stroke="#222" stroke-width="1.1" fill="none"/>
<text x="307.40" y="834.00" font-size="13.6" font-style="italic">ST</text>
<rect x="458.60" y="42.40" width="142.00" height="90.80" fill="#e7dede"/>
<g clip-path="url(#clipRb)"><path d="M531.5 150.0L589.8 132.0L584.1 150.3L625.5 131.6L614.9 167.3L549.7 115.0L569.1 101.2L613.2 160.8L549.0 174.2L572.1 87.4L606.9 183.9L576.9 106.5L575.9 131.1L498.1 127.9L608.0 155.3L583.9 141.3L568.0 75.6L557.4 103.9L613.9 155.8L596.6 101.7L590.1 118.3L614.4 188.5L571.3 50.1L591.5 117.1L551.7 130.1L550.0 146.5L587.2 96.2L595.9 162.1L605.5 162.5L594.8 124.9L598.5 172.6L594.0 118.5L570.2 44.8L583.9 130.4L588.4 98.8L580.5 83.8L612.8 171.2L585.4 118.3L530.5 177.7L637.8 143.2L558.8 82.9L557.3 92.0L510.5 126.1L560.7 98.1L570.0 60.4L562.9 77.4L550.7 141.1L554.9 198.7L545.5 158.4L552.2 201.5L587.9 141.7L578.1 120.6L561.6 114.6L587.5 129.4L597.3 131.7L498.9 133.0L613.3 154.1L577.2 126.7L529.8 163.0L565.2 90.3L529.6 184.6L595.0 160.7L611.9 173.0L558.1 101.4L576.9 72.2L581.8 139.5L564.7 91.3L582.2 84.3L597.0 157.0L591.5 116.9L441.4 136.6L564.8 49.5L565.2 81.7L582.3 86.8L593.8 158.6L566.3 106.2L499.6 91.2L578.8 129.8L616.3 122.9L529.3 185.4L553.8 103.5L587.8 126.7L568.5 135.3L600.8 136.7L563.2 122.7L582.9 90.5L565.0 136.0L616.3 120.3L568.2 105.7L614.8 72.1L602.5 132.4L561.7 84.9L560.1 132.7L562.0 111.5L598.1 138.8L500.0 127.7L556.1 137.0L593.8 154.9L603.3 181.0L625.5 131.5L550.0 147.3L573.0 63.8L558.3 101.1L613.4 140.0L592.7 112.5L615.1 165.2L587.2 172.4L615.0 165.0L575.3 52.1L597.1 139.1L484.4 59.6L612.9 171.3L557.7 64.2L593.6 153.9L585.2 110.3L613.6 152.8L608.7 157.9L601.3 158.3L610.0 177.0L568.7 108.5L497.3 147.6L564.2 119.9L558.9 46.7L597.6 157.7L594.2 149.4L588.6 102.6L579.8 63.1L555.6 86.9L553.4 203.5L611.7 116.0L550.6 199.5L592.4 136.1L585.2 141.4L588.7 115.0L569.2 103.3L563.4 127.5L576.3 108.9L531.1 165.4L601.3 172.4L561.0 150.2L536.5 216.4L571.6 135.2L560.6 135.6L578.3 140.0L467.5 125.3L572.6 45.8L575.1 119.9L575.5 116.6L563.4 118.4L547.3 234.8L575.0 98.1L616.4 184.4L568.4 107.3L601.7 183.5L563.5 143.0L587.6 121.5L582.0 72.5L578.3 114.9L589.4 101.4L558.0 177.7L551.6 117.8L539.6 104.2L559.0 118.4L609.2 190.5L609.8 170.6L574.4 124.3L594.2 119.7L613.3 183.8L541.5 144.0L599.0 158.5L583.2 148.0L530.6 147.8L601.4 164.9L595.8 112.9L614.9 185.7L601.7 154.5L549.7 128.6L587.9 127.8L550.1 126.4L584.7 139.7L560.6 104.8L584.0 89.3L487.4 60.0L599.6 175.2L552.3 145.9L555.8 89.1L562.9 116.0L599.9 115.2L531.2 160.8L551.0 217.2L591.3 101.1L600.1 133.8L582.2 111.9L581.4 97.5L572.3 105.2L570.4 111.9L551.7 188.6L564.3 130.0L569.4 100.7L615.5 170.7L613.6 182.5L549.0 123.8L607.3 185.5L545.3 124.6L545.7 114.2L568.3 133.6L577.0 90.7L582.2 100.5L528.9 161.7L557.8 96.8L573.0 101.4L587.6 100.8L548.8 216.4L556.5 88.7L530.0 144.1L541.1 151.9L590.4 143.3L582.0 129.4L555.7 77.9L610.0 168.3L530.3 150.7L572.6 78.4L642.4 153.5L592.7 149.6L557.9 50.8L587.1 141.3L588.5 157.6L594.2 170.5L559.7 128.2L550.6 152.4L636.2 159.3L549.9 113.4L536.9 155.4L562.7 112.7L562.9 118.2L497.9 144.7L598.6 153.0L564.3 61.0L562.4 73.5L580.8 98.6L598.2 146.5L489.0 75.4L598.5 178.0L570.2 121.6L601.4 166.4L590.0 127.7L584.3 76.2L545.4 145.4L470.6 138.2L552.0 195.6L549.7 166.4L588.1 104.1L565.3 125.8L602.0 170.7L580.4 137.3L498.9 147.4L570.7 112.7L596.3 159.6L602.5 171.3L613.9 179.1L501.2 126.1L647.0 155.2L548.5 145.5L596.6 174.4L593.4 100.8L591.1 136.3L481.3 79.4L609.9 175.6L615.3 177.8L579.0 133.3L555.1 113.4L617.1 167.7L561.3 66.7L576.9 131.6L473.6 139.4L611.7 197.1L552.7 101.8L479.8 72.9L556.4 131.0L568.2 138.7L545.7 126.8L595.8 134.0L572.6 89.2L588.5 123.1L559.3 105.5L537.5 148.1L577.4 99.5L586.7 109.1L572.8 87.2L585.5 131.2L567.1 99.7L551.5 205.4L592.8 140.6L614.9 166.6L587.9 125.6L570.0 92.3L598.1 164.9L612.7 187.0L612.8 141.1L593.4 129.3L580.5 108.6L607.6 166.2L545.5 126.9L555.7 131.2L558.8 135.8L493.1 70.7L574.4 68.1L563.2 109.3L589.1 129.6L605.0 162.6L589.1 127.0L584.1 97.1L551.1 119.1L531.2 134.8L581.3 104.2L544.5 128.7L559.6 131.5L581.9 97.8L499.2 150.9L573.7 136.2L639.3 153.5L592.2 126.1L605.1 152.3L614.2 138.3L568.2 135.6L600.9 142.9L595.6 142.4L466.0 177.7L588.8 143.4L603.4 144.4L530.8 137.7L475.9 96.2L592.8 134.8L614.6 170.9L594.0 130.4L596.2 135.9L560.5 116.9L612.2 163.7L575.2 62.1L559.5 129.1L569.0 153.1L579.3 83.9L613.9 155.3L550.6 164.0L612.1 184.1L606.6 175.0L591.4 110.2L596.1 153.5L551.4 105.7L581.7 74.5L568.6 130.6L552.8 126.3L607.8 162.9L567.0 123.7L584.6 84.6L464.0 90.4L570.0 93.9L578.0 93.0L576.2 88.6L567.6 127.7L567.1 60.5L572.2 114.4L560.5 50.6L585.9 131.4L577.4 67.9L567.0 72.6L581.1 114.7L593.7 156.5L611.9 183.9L566.8 99.7L594.9 137.0L547.7 134.3L579.6 82.6L587.3 124.7L586.2 83.2L570.1 93.9L563.3 120.9L539.6 124.0L580.4 127.3L558.3 103.8L603.1 183.1L569.4 83.2L595.4 150.5L441.4 142.7L558.7 151.3L593.5 154.3L595.5 141.9L587.6 143.7L559.3 105.1L589.2 89.1L591.6 111.7L571.9 129.1L589.4 106.1L576.8 92.3L577.8 95.5L594.7 113.0L580.1 128.6L547.3 185.0L594.8 167.8L555.3 73.2L606.8 165.5L613.3 174.7L544.2 152.7L566.8 106.6L571.0 116.0L604.9 143.1L603.9 141.8L530.2 147.8L575.6 52.5L561.9 114.4L584.3 92.8L568.2 85.0L600.0 154.6L589.2 103.3L562.6 103.1L613.8 180.6L602.2 166.5L575.4 104.6L530.4 138.9L568.9 79.9L581.9 82.3L594.6 123.0L585.0 97.9L591.4 95.7L600.6 149.4L601.2 134.9L617.0 185.2L549.3 194.3L613.1 148.2L575.2 110.9L548.8 164.3L531.0 178.2L576.2 98.7L540.7 141.1L613.6 150.9L556.0 83.8L601.2 126.9L560.5 48.2L550.0 130.3L585.8 125.7L570.0 129.7L582.0 134.9L559.8 162.3L604.7 156.1L487.4 80.2L601.9 156.5L545.7 120.1L593.3 158.5L582.7 128.0L576.7 99.4L592.3 155.6L568.7 139.3L605.6 200.3L586.9 147.2L580.9 110.3L558.3 82.0L613.3 173.6L577.8 75.3L569.8 138.5L571.4 109.3L540.8 141.2L591.1 126.7L547.4 143.9L545.2 130.0L605.0 174.3L587.0 86.6L578.8 99.9L599.4 193.8L484.4 74.6L587.8 105.0L549.1 183.7L551.8 113.5L571.1 56.7L565.0 123.1L602.7 141.7L559.5 161.6L583.1 150.3L592.6 147.4L499.0 145.2L616.8 151.3L446.0 168.1L557.6 107.6L597.7 109.9L530.6 138.6L529.9 185.5L592.4 110.4L611.7 172.6L554.4 88.5L592.7 114.9L563.0 106.3L612.0 178.6L555.5 135.9L598.8 127.2L550.3 222.1L613.1 174.8L574.6 92.0L608.6 126.1L583.7 80.3L585.8 88.3L610.9 170.6L614.1 163.1L559.0 165.3L560.1 95.8L598.1 143.5L545.2 134.2L589.7 134.6L613.5 168.4L613.7 145.0L569.1 84.0L563.1 45.9L613.0 161.6L581.3 90.5L599.9 131.8L575.7 130.0L584.1 149.2L551.4 147.0L570.9 79.3L605.8 146.0L578.4 81.3L583.1 149.2L610.3 159.3L581.4 94.0L577.1 126.9L590.4 126.4L524.3 219.6L607.3 158.3L595.4 154.7L604.6 176.5L612.2 172.9L603.1 154.8L567.6 56.1L550.6 210.2L599.9 147.1L614.5 156.7L555.3 64.9L559.9 79.9L597.4 146.5L605.3 163.4L599.3 114.8L422.2 147.1L561.9 98.1L545.7 212.5L578.7 71.0L616.7 183.5L559.9 112.9L555.6 114.1L573.5 114.4L581.9 76.4L581.1 143.5L566.0 118.6L579.1 90.5L584.6 148.8L578.4 121.4L485.9 64.1L594.8 155.2L597.9 138.2L594.9 121.5L588.5 134.7L581.9 146.8L498.1 141.9L573.9 141.0L594.1 122.1L613.0 141.6L568.7 122.7L547.6 114.8L550.8 117.9L582.5 92.9L565.7 120.3L553.5 155.6L607.1 151.5L554.6 65.8L586.5 146.3L587.5 89.2L588.5 136.4L588.4 142.0L589.4 106.5L570.0 104.8L573.0 88.9L573.4 68.0L600.1 155.9L585.2 139.6L588.1 152.1L570.4 137.8L559.1 71.2L591.3 136.6L593.2 155.5L614.6 180.4L554.9 172.9L582.5 74.4L595.6 147.7L530.5 183.9L601.4 133.1L467.5 120.3L564.4 120.9L607.3 158.0L563.1 136.0L612.8 142.7L566.9 107.2L595.1 116.9L560.4 112.7L596.4 133.5L540.6 122.1L554.9 160.4L577.7 116.7L584.3 116.9L598.0 163.9L565.9 131.2L530.7 148.9L565.5 69.0L566.5 117.2L613.4 183.8L609.9 191.6L461.4 135.8L570.4 108.0L613.9 152.7L464.6 97.0L603.1 154.5L593.1 136.9L569.1 108.4L582.1 107.1L577.1 99.9L542.9 127.4L498.3 147.6L613.4 151.5L488.2 64.9L570.2 130.1L577.3 103.3L550.2 176.0L596.4 130.2L563.1 76.4L595.9 157.4L554.1 71.8L557.3 125.4L575.9 89.9L583.7 123.5L556.1 60.4L569.0 132.8L531.7 149.2L612.2 173.5L592.9 144.5L548.8 192.2L547.3 180.5L613.6 163.4L586.3 105.6L577.5 108.7L599.1 140.0L601.2 141.2L567.1 43.5L574.2 143.4L563.1 129.2L569.6 93.3L571.0 118.4L584.2 153.4L577.3 101.1L607.9 178.4L586.5 151.9L564.7 125.3L529.5 160.2L583.8 95.6L485.1 60.9L581.4 115.4L602.2 130.6L614.7 148.3L540.0 142.3L586.7 141.5L566.6 96.9L581.0 103.6L599.7 168.6L564.3 123.6L608.6 160.3L615.3 176.5L583.9 75.6L572.9 87.1L550.2 199.1L552.0 89.1L616.8 181.1L583.2 119.8L556.9 62.9L573.9 54.9L578.0 105.5L570.1 128.6L551.1 221.8L558.6 76.2L498.3 128.9L593.1 169.2L611.5 175.3L595.4 128.6L601.9 159.9L456.8 170.8L614.3 176.0L565.8 74.6L569.3 63.5L610.3 164.8L575.4 134.1L579.0 136.4L613.2 118.1L598.0 135.4L565.8 135.4L561.7 53.2L553.6 80.4L557.2 76.7L535.0 147.0L528.5 169.0L576.0 143.2L499.4 136.5L570.9 138.8L584.2 101.0L592.7 116.7L562.5 78.7L567.4 114.5L576.3 143.5L583.5 105.1L549.3 139.7L596.8 147.4L571.8 81.1L572.9 123.8L548.7 117.3L594.5 125.3L584.3 89.2L579.5 119.9L580.6 110.2L509.8 125.3L577.6 131.9L570.5 119.5L554.2 135.6L589.9 87.8L579.7 146.6L536.2 157.4L573.0 77.3L543.1 149.5L596.1 143.1L528.9 176.2L561.1 122.7L604.1 162.9L605.0 150.3L550.0 142.8L555.1 136.5L579.3 72.2L613.2 165.5L573.9 64.2L569.7 62.8L593.5 99.8L566.4 88.3L559.0 162.1L567.3 68.5L576.0 104.5L556.4 61.5L614.6 166.8L578.3 91.6L548.2 145.0L583.5 129.5L531.6 177.5L614.6 184.3L595.7 160.7L597.9 171.9L608.0 185.0L587.7 152.5L573.4 114.3L571.4 63.5L592.9 153.7L556.7 112.1L563.8 111.3L592.4 146.2L562.1 75.3L613.2 158.0L596.7 149.6L557.0 63.9L489.0 62.5L593.6 102.3L546.5 133.6L574.9 58.9L600.7 179.7L609.1 180.0L582.2 86.2L559.8 64.5L577.7 101.0L560.6 47.4L597.6 140.8L610.8 175.6L560.3 105.3L556.2 134.9L542.7 185.6L614.4 182.2L529.1 181.3L467.2 121.8L573.0 89.0L587.2 85.4L651.6 156.8L606.7 166.6L572.0 109.4L588.6 100.0L611.6 179.0L548.2 108.4" marker-start="url(#rb)" marker-mid="url(#rb)" marker-end="url(#rb)" fill="none" stroke="none"/></g>
<rect x="458.60" y="42.40" width="142.00" height="90.80" fill="none" stroke="#000" stroke-width="2.0" stroke-dasharray="2.40 6.90"/>
<path d="M539.1 118.9L552.0 69.0" stroke="#000" stroke-width="1.9" fill="none"/><path d="M555.1 56.9L555.3 71.9L551.9 69.5L547.6 69.9Z" fill="#000"/><path d="M581.1 72.2L594.4 112.4" stroke="#000" stroke-width="1.9" fill="none"/><path d="M598.3 124.3L590.0 111.8L594.2 112.0L597.6 109.3Z" fill="#000"/>
<path d="M409.20 238.90v-4.2M424.54 238.90v-2.2M439.88 238.90v-4.2M455.22 238.90v-2.2M470.56 238.90v-4.2M485.91 238.90v-2.2M501.25 238.90v-4.2M516.59 238.90v-2.2M531.93 238.90v-4.2M547.27 238.90v-2.2M562.61 238.90v-4.2M577.95 238.90v-2.2M593.29 238.90v-4.2M608.64 238.90v-2.2M623.98 238.90v-4.2M639.32 238.90v-2.2M654.66 238.90v-4.2M670.00 238.90v-2.2M409.20 230.92h4.2M409.20 214.80h2.2M409.20 198.68h4.2M409.20 182.56h2.2M409.20 166.44h4.2M409.20 150.32h2.2M409.20 134.20h4.2M409.20 118.08h2.2M409.20 101.96h4.2M409.20 85.84h2.2M409.20 69.72h4.2M409.20 53.60h2.2M409.20 37.48h4.2" stroke="#000" stroke-width="1.4" fill="none"/>
<rect x="409.20" y="29.30" width="260.80" height="209.60" fill="none" stroke="#000" stroke-width="1.9"/>
<text x="409.20" y="254.50" font-size="13.8" text-anchor="middle">4.8</text>
<text x="439.88" y="254.50" font-size="13.8" text-anchor="middle">5.0</text>
<text x="470.56" y="254.50" font-size="13.8" text-anchor="middle">5.2</text>
<text x="501.25" y="254.50" font-size="13.8" text-anchor="middle">5.4</text>
<text x="531.93" y="254.50" font-size="13.8" text-anchor="middle">5.6</text>
<text x="562.61" y="254.50" font-size="13.8" text-anchor="middle">5.8</text>
<text x="593.29" y="254.50" font-size="13.8" text-anchor="middle">6.0</text>
<text x="623.98" y="254.50" font-size="13.8" text-anchor="middle">6.2</text>
<text x="654.66" y="254.50" font-size="13.8" text-anchor="middle">6.4</text>
<text x="404.50" y="235.52" font-size="13.8" text-anchor="end">-60</text>
<text x="404.50" y="203.28" font-size="13.8" text-anchor="end">-40</text>
<text x="404.50" y="171.04" font-size="13.8" text-anchor="end">-20</text>
<text x="404.50" y="138.80" font-size="13.8" text-anchor="end">0</text>
<text x="404.50" y="106.56" font-size="13.8" text-anchor="end">20</text>
<text x="404.50" y="74.32" font-size="13.8" text-anchor="end">40</text>
<text x="404.50" y="42.08" font-size="13.8" text-anchor="end">60</text>
<text x="353.80" y="19.00" font-size="25">(</text><text x="363.25" y="19.00" font-size="25">b</text><text x="378.10" y="19.00" font-size="25">)</text>
<g transform="translate(377.00 214.00) rotate(-90)"><text x="-0.95" y="0.00" font-size="18.0">SHAP value for </text><text x="124.54" y="0.00" font-size="18.0" font-style="italic">NM</text><text x="154.04" y="4.32" font-size="11.52">B</text></g>
<text x="521.40" y="280.00" font-size="17.8" font-style="italic">NM</text>
<text x="550.38" y="284.80" font-size="11.5">B</text>
<rect x="433.80" y="304.50" width="202.20" height="91.80" fill="#e7dede"/>
<g clip-path="url(#clipRd)"><path d="M494.1 416.2L471.2 440.1L467.2 436.8L484.7 426.2L521.7 365.3L496.9 397.2L539.9 392.4L550.5 351.0L471.7 425.9L496.9 416.0L501.1 395.6L517.6 391.2L536.4 378.8L469.4 413.6L539.1 382.5L547.5 361.6L524.9 362.1L536.8 403.8L489.4 394.8L468.1 444.3L486.9 418.3L481.7 448.9L537.6 336.7L497.8 384.8L536.7 361.4L461.1 433.8L519.3 367.6L481.1 459.4L549.8 361.9L479.1 438.9L528.3 370.3L467.0 430.1L536.7 381.2L493.0 425.5L495.2 388.8L466.9 448.8L545.1 356.9L552.8 368.3L559.3 390.1L495.7 405.5L551.1 369.2L537.4 384.2L543.8 353.5L519.4 376.4L525.5 378.2L477.7 460.5L464.2 458.8L590.8 431.1L537.9 353.7L542.9 326.0L495.6 393.7L507.4 393.2L553.9 382.7L485.8 413.4L563.2 401.9L473.9 465.6L549.6 328.0L587.3 340.0L572.2 380.1L624.4 351.8L525.3 370.6L463.8 466.4L509.2 378.3L510.9 367.6L493.8 397.9L546.0 375.3L533.3 410.7L470.9 444.9L564.5 369.3L560.0 354.5L548.9 346.0L489.3 418.6L487.6 408.3L468.6 470.5L492.7 400.3L470.4 430.6L509.9 379.3L549.0 350.9L553.8 372.5L477.6 431.7L471.1 455.7L511.4 384.2L531.2 382.0L541.3 349.4L480.7 439.2L560.1 386.2L483.1 426.3L500.5 470.2L481.5 446.5L531.3 372.3L457.1 455.8L525.5 326.0L477.9 430.0L484.1 417.9L543.9 308.1L465.6 425.3L464.3 417.2L583.9 328.4L557.1 351.9L484.7 431.2L542.6 387.2L543.7 343.2L529.6 385.7L505.8 389.2L522.8 350.2L464.1 435.9L538.8 348.3L560.5 368.1L570.1 370.1L562.2 423.7L505.7 361.7L465.8 470.2L478.0 451.3L432.8 420.4L521.2 377.3L538.3 319.9L538.9 347.9L548.2 365.1L542.1 388.5L537.0 378.7L467.6 444.1L516.4 376.1L502.8 387.6L534.8 406.0L538.8 402.8L557.3 369.9L557.0 370.1L543.4 336.7L498.2 378.9L519.5 363.5L565.7 381.3L606.4 371.8L561.5 355.2L491.2 390.8L463.6 467.0L471.0 457.3L525.9 391.6L476.8 467.3L461.9 433.6L537.4 323.4L604.7 315.3L545.9 371.5L465.8 474.6L539.7 402.0L501.9 394.2L484.6 417.3L481.1 465.7L542.8 319.8L506.7 372.9L539.2 374.3L544.6 412.2L471.4 431.7L463.2 455.3L534.5 331.3L550.7 328.3L549.5 353.2L550.0 368.3L545.9 362.8L507.7 377.3L493.0 387.2L551.8 392.9L464.7 452.6L584.3 341.9L552.6 344.1L561.0 385.4L500.6 390.0L491.5 434.9L464.4 445.5L573.4 383.4L469.7 424.2L522.4 368.5L564.6 377.0L527.7 357.3L464.2 414.4L470.5 456.7L483.8 419.5L497.4 414.4L558.1 373.6L463.6 450.7L531.8 358.0L458.8 487.6L555.2 362.9L503.8 396.2L461.3 446.1L535.5 326.0L523.3 377.5L555.1 349.9L521.9 372.9L505.3 390.3L448.4 435.5L556.3 384.2L563.5 355.6L471.3 418.7L479.9 452.2L505.3 389.5L535.0 369.0L482.6 421.3L541.9 323.5L590.8 450.0L463.6 456.0L467.8 428.9L467.4 435.3L559.7 383.5L470.2 441.4L533.7 347.0L487.1 436.9L489.0 437.2L518.6 367.5L535.5 353.3L513.7 381.2L549.1 364.1L597.8 366.0L556.5 349.5L467.4 426.2L464.5 451.4L525.6 368.8L527.9 334.2L521.6 371.7L523.3 375.9L470.6 471.6L486.7 440.3L530.1 349.9L495.6 418.0L497.1 390.5L554.0 345.6L494.8 414.4L559.2 380.1L467.5 369.6L472.5 445.4L632.5 368.9L550.4 403.1L525.2 382.1L548.8 364.3L501.3 397.7L520.6 359.1L471.2 429.0L466.9 423.3L492.7 408.4L466.4 432.9L471.2 465.9L521.5 366.9L463.6 458.2L489.6 419.0L552.6 378.7L554.7 368.0L542.9 379.8L543.3 354.8L467.6 415.6L541.9 357.1L554.2 332.0L624.2 393.1L463.2 420.3L544.4 370.6L526.8 329.7L465.4 423.3L485.0 443.7L522.3 341.7L534.9 392.4L546.1 335.4L505.7 380.9L470.5 471.1L559.0 357.7L486.7 418.0L487.4 443.6L561.6 383.8L539.1 404.8L534.5 351.0L538.9 345.5L475.9 457.1L461.8 448.8L532.5 353.8L496.3 403.7L509.4 384.7L493.1 423.3L541.8 355.5L482.6 456.4L583.9 380.5L535.4 403.0L611.4 365.5L551.7 370.2L490.5 415.8L533.7 355.6L510.4 386.6L592.6 313.9L558.9 376.6L461.9 432.4L470.1 439.7L494.2 418.6L560.3 391.5L490.4 404.7L532.5 379.8L480.6 451.3L486.1 449.2L497.0 397.4L478.8 464.6L463.5 464.4L537.9 336.6L532.3 391.6L492.1 415.7L548.1 333.2L552.7 373.1L533.4 368.2L655.1 394.2L487.8 437.4L494.5 387.0L531.7 358.6L539.1 330.3L534.4 329.9L462.0 445.9L544.0 354.5L501.3 391.5L551.2 359.3L564.0 375.2L479.5 445.0L524.8 338.0L516.5 372.2L558.2 365.7L565.3 377.5L662.0 403.4L490.9 437.7L546.9 345.4L539.3 350.9L497.1 387.2L541.8 393.8L513.1 392.0L578.7 322.6L543.6 347.9L464.6 458.4L618.6 376.1L467.5 390.0L538.0 322.7L553.4 330.0L534.1 382.8L559.1 364.2L536.5 415.3L480.5 438.0L533.9 346.8L537.0 340.0L465.8 426.5L464.2 415.0L484.0 407.8L543.4 387.4L511.0 381.4L533.0 419.2L537.6 367.8L462.0 453.7L550.5 380.1L539.7 336.6L468.2 463.2L535.1 326.7L496.6 383.0L462.8 448.2L420.6 409.4L573.4 332.7L538.3 388.3L476.8 467.2L528.6 354.2L552.5 375.7L558.4 358.4L478.1 432.7L557.2 373.8L543.3 346.1L476.5 427.4L493.9 415.0L570.0 354.4L503.3 375.2L482.3 429.2L470.6 427.8L521.6 371.8L554.6 384.2L525.9 365.6L540.5 303.8L492.6 388.6L523.8 362.4L546.7 337.6L537.0 368.4L480.7 410.0L544.4 378.3L563.0 356.6L539.6 373.6L471.9 440.9L503.8 391.2L525.7 369.5L521.6 376.0L537.8 346.7L537.9 367.3L498.8 401.6L469.3 428.4L512.0 382.6L478.4 424.4L540.0 350.7L544.7 368.6L536.9 413.9L467.1 446.0L496.4 418.2L524.8 345.2L468.9 455.8L467.2 451.2L470.2 433.5L532.5 336.7L491.0 393.2L540.1 375.5L524.1 347.8L637.7 457.2L509.8 377.5L535.6 421.9L466.2 431.9L482.5 460.0L525.7 325.5L546.9 340.1L547.8 394.7L519.7 361.4L467.5 422.8L464.0 471.8L484.3 432.8L471.0 425.5L545.9 332.3L529.6 323.3L548.3 390.8L556.7 349.6L486.1 437.1L448.4 461.5L498.1 399.0L501.4 393.7L543.7 342.8L545.5 362.9L543.7 365.2L513.2 384.9L552.7 383.3L482.7 429.3L615.1 436.9L469.2 455.4L560.9 354.1L601.2 354.4L464.2 443.8L468.7 461.1L484.9 452.2L476.9 426.0L523.7 379.4L535.1 323.6L486.0 441.3L554.8 367.8L478.5 426.6L521.6 378.3L516.6 379.8L522.0 342.5L527.6 394.3L564.1 374.0L553.4 385.0L472.0 447.2L582.5 329.0L525.5 370.3L495.3 404.7L469.2 456.5L486.6 427.2L549.4 330.7L543.5 325.1L468.2 469.1L476.7 465.1L598.3 391.2L546.7 341.8L554.8 332.3L519.2 362.3L537.7 378.2L497.8 389.9L528.8 351.1L625.8 338.2L531.9 346.8L537.5 403.5L571.7 385.2L489.7 441.1L478.5 453.8L462.2 426.0L558.8 414.2L530.0 387.6L552.9 360.7L502.0 391.0L544.1 332.8L524.6 354.5L545.4 387.4L472.1 436.2L462.8 451.0L483.5 411.5L547.7 344.8L553.1 372.1L465.2 444.1L500.1 376.9L611.7 361.7L636.0 397.9L534.8 366.2L575.2 386.3L534.6 417.0L465.1 461.1L553.5 385.8L539.0 375.4L521.1 372.3L563.3 406.7L482.7 461.6L511.3 375.3L495.6 405.3L548.9 383.4L528.0 394.0L470.2 427.1L521.7 350.1L536.6 401.0L468.0 420.1L461.7 443.6L517.5 379.4L483.6 436.9L537.9 356.7L604.4 386.3L495.5 403.2L476.1 454.3L481.5 424.2L543.2 388.1L489.1 443.0L467.2 420.1L490.1 431.9L533.8 355.8L436.3 383.7L545.5 415.0L559.9 371.7L497.8 394.4L502.8 392.6L464.8 452.9L469.5 429.2L492.3 425.6L547.0 327.2L554.2 352.0L550.9 411.4L548.0 325.4L630.8 388.2L561.6 375.0L533.1 359.9L570.4 334.4L523.0 341.7L508.8 384.1L496.9 383.7L521.2 377.4L469.7 448.1L500.7 398.9L523.4 388.0L563.0 311.0L594.3 412.3L531.5 376.6L547.2 334.1L462.9 432.6L625.5 318.2L538.9 358.8L463.8 427.9L626.1 355.6L558.1 361.9L502.9 393.7L550.8 388.3L545.0 380.0L518.1 367.8L559.7 394.2L496.5 399.9L462.1 441.3L469.4 427.9L469.9 469.9L491.0 425.9L538.3 383.9L538.4 341.4L467.5 394.7L636.0 328.4L545.1 333.5L464.5 432.6L492.0 428.4L543.2 381.0L463.2 413.2L468.5 441.8L521.2 352.4L466.5 472.0L514.9 376.3L566.5 318.2L558.1 385.0L517.3 387.5L498.4 392.0L537.3 347.4L469.2 458.9L533.9 320.3L480.5 422.5L464.4 457.8L494.8 396.0L468.9 437.2L560.4 352.2L554.5 373.1L560.9 352.4L529.2 374.0L481.8 465.7L480.3 442.3L564.3 402.9L464.6 439.4L580.4 347.2L475.1 437.0L540.6 367.6L537.2 340.7L575.7 364.6L496.8 408.2L547.7 329.6L474.9 433.3L546.6 357.8L528.7 373.3L488.9 415.5L467.9 465.7L533.8 378.8L494.1 414.1L492.9 400.9L522.2 340.2L630.8 438.4L548.9 328.4L484.9 424.5L531.7 341.2L523.1 322.6L471.9 445.1L538.3 387.8L469.1 434.1L485.5 439.1L553.9 379.9L480.3 453.8L465.8 455.5L515.1 380.5L469.6 436.4L489.2 423.0L563.8 383.7L520.6 369.8L493.3 414.4L468.8 453.2L607.6 346.2L472.0 431.6L466.0 427.6L564.1 385.7L507.5 369.7L513.2 380.3L474.5 470.2L528.0 335.4L535.3 355.5L530.6 367.3L535.4 376.6L483.0 442.2L574.4 378.3L549.0 371.6L538.7 384.1L465.2 419.0L546.0 324.8L497.5 395.5L541.2 337.6L540.2 340.3L547.9 344.5L561.3 418.0L481.2 446.1L520.4 363.3L594.3 402.2L532.7 417.2L504.6 389.7L487.0 415.0L480.0 456.0L597.8 378.6L598.6 358.0L538.5 366.9L484.1 440.7L545.8 329.2L558.7 370.4L541.1 408.6L519.2 364.6L528.7 356.3L498.0 407.5L552.4 347.8L467.1 413.5L525.2 379.1L547.4 385.9L455.4 484.7L463.3 449.6L466.3 440.1L490.8 423.2L527.7 382.6L517.8 382.1L433.6 390.0L482.2 450.2L448.4 452.9L533.2 325.1L558.6 402.8L541.1 362.3L533.1 413.6L491.6 423.6L533.9 376.3L511.1 370.4L537.5 343.6L486.9 441.1L463.6 418.8L560.8 409.0L486.3 448.7L496.2 406.7L493.4 397.9L526.8 376.8L497.9 409.0L549.6 369.7L560.2 344.7L467.8 453.2L546.8 344.8L574.3 379.6L493.0 424.0L467.6 433.8L520.5 363.7L482.6 412.3L552.8 389.5L548.3 332.8L532.6 411.4L462.3 447.6L496.3 415.9L476.0 451.5L553.0 372.2L468.9 421.5L534.0 406.6L542.0 408.9L451.9 426.8L559.8 352.1L527.0 387.5L498.5 379.5L484.6 420.1L470.2 447.6L530.1 348.3L532.7 412.8L465.9 453.4L552.0 403.9L514.6 384.5L499.8 408.3L481.0 456.5L481.2 459.3L525.9 389.6L491.9 422.7L528.0 390.3L543.6 360.1L484.9 448.3L448.4 441.3L544.9 423.0L542.6 354.7L497.0 400.3L485.6 420.5L538.8 367.6L546.7 330.0L478.1 417.6L482.4 454.9" marker-start="url(#rd)" marker-mid="url(#rd)" marker-end="url(#rd)" fill="none" stroke="none"/></g>
<rect x="433.80" y="304.50" width="202.20" height="91.80" fill="none" stroke="#000" stroke-width="2.0" stroke-dasharray="2.40 9.90"/>
<path d="M491.9 376.0L516.1 334.2" stroke="#000" stroke-width="1.9" fill="none"/><path d="M522.4 323.4L518.6 338.0L515.9 334.6L511.7 333.9Z" fill="#000"/><path d="M555.9 336.8L564.9 357.0" stroke="#000" stroke-width="1.9" fill="none"/><path d="M570.0 368.4L560.4 356.8L564.7 356.5L567.7 353.5Z" fill="#000"/>
<path d="M410.20 506.30v-2.2M427.57 506.30v-4.2M444.93 506.30v-2.2M462.30 506.30v-4.2M479.67 506.30v-2.2M497.03 506.30v-4.2M514.40 506.30v-2.2M531.77 506.30v-4.2M549.13 506.30v-2.2M566.50 506.30v-4.2M583.87 506.30v-2.2M601.23 506.30v-4.2M618.60 506.30v-2.2M635.97 506.30v-4.2M653.33 506.30v-2.2M670.70 506.30v-4.2M410.20 499.18h2.2M410.20 484.70h4.2M410.20 470.23h2.2M410.20 455.75h4.2M410.20 441.28h2.2M410.20 426.80h4.2M410.20 412.33h2.2M410.20 397.85h4.2M410.20 383.38h2.2M410.20 368.90h4.2M410.20 354.43h2.2M410.20 339.95h4.2M410.20 325.48h2.2M410.20 311.00h4.2M410.20 296.53h2.2" stroke="#000" stroke-width="1.4" fill="none"/>
<rect x="410.20" y="296.50" width="260.50" height="209.80" fill="none" stroke="#000" stroke-width="1.9"/>
<text x="427.57" y="521.90" font-size="13.5" text-anchor="middle">10.6</text>
<text x="462.30" y="521.90" font-size="13.5" text-anchor="middle">10.8</text>
<text x="497.03" y="521.90" font-size="13.5" text-anchor="middle">11.0</text>
<text x="531.77" y="521.90" font-size="13.5" text-anchor="middle">11.2</text>
<text x="566.50" y="521.90" font-size="13.5" text-anchor="middle">11.4</text>
<text x="601.23" y="521.90" font-size="13.5" text-anchor="middle">11.6</text>
<text x="635.97" y="521.90" font-size="13.5" text-anchor="middle">11.8</text>
<text x="670.70" y="521.90" font-size="13.5" text-anchor="middle">12.0</text>
<text x="405.50" y="489.30" font-size="13.5" text-anchor="end">-60</text>
<text x="405.50" y="460.35" font-size="13.5" text-anchor="end">-40</text>
<text x="405.50" y="431.40" font-size="13.5" text-anchor="end">-20</text>
<text x="405.50" y="402.45" font-size="13.5" text-anchor="end">0</text>
<text x="405.50" y="373.50" font-size="13.5" text-anchor="end">20</text>
<text x="405.50" y="344.55" font-size="13.5" text-anchor="end">40</text>
<text x="405.50" y="315.60" font-size="13.5" text-anchor="end">60</text>
<text x="354.10" y="294.20" font-size="25">(</text><text x="363.85" y="294.20" font-size="25">d</text><text x="378.40" y="294.20" font-size="25">)</text>
<g transform="translate(381.10 480.70) rotate(-90)"><text x="-0.94" y="0.00" font-size="17.8">SHAP value for </text><text x="123.16" y="0.00" font-size="17.8" font-style="italic">MV</text><text x="151.36" y="4.27" font-size="11.392000000000001">B</text></g>
<text x="522.50" y="545.50" font-size="17.7" font-style="italic">MV</text>
<text x="550.34" y="550.30" font-size="11.5">B</text>
<rect x="462.60" y="572.80" width="140.70" height="101.20" fill="#e7dede"/>
<g clip-path="url(#clipRf)"><path d="M537.4 641.3L551.6 657.7L486.7 687.5L506.4 642.7L495.5 679.9L486.3 685.1L472.8 684.2L529.0 651.2L526.5 662.7L514.4 647.0L530.4 648.4L539.7 601.7L527.1 615.7L524.0 633.6L538.3 651.3L518.0 668.0L537.8 610.1L475.8 727.1L534.1 610.4L523.6 612.5L485.0 669.2L486.9 675.4L492.1 683.6L558.8 700.0L532.0 596.9L482.9 681.3L472.7 704.0L497.1 645.3L510.3 645.6L504.1 672.3L547.0 646.9L465.6 726.6L475.6 708.3L475.9 728.7L520.7 651.4L508.6 671.0L513.5 670.2L545.9 655.9L472.4 733.6L494.8 682.0L534.5 662.0L542.1 655.4L543.6 653.8L495.2 656.3L476.6 717.5L534.3 643.9L517.0 652.0L531.9 674.7L473.4 720.6L523.0 610.0L492.5 672.5L516.1 615.2L497.4 655.7L514.0 623.5L536.8 613.7L476.0 693.4L522.8 583.8L526.8 653.3L547.2 671.3L483.1 682.1L493.4 683.7L493.8 675.0L517.3 663.6L473.4 680.2L531.0 669.3L472.8 725.8L476.8 751.2L473.2 686.2L517.0 628.1L476.3 680.4L522.7 645.3L531.3 632.8L520.8 655.8L517.6 648.9L512.6 649.1L484.0 701.7L524.6 602.2L524.1 650.5L483.2 710.9L525.4 641.8L532.0 615.5L473.2 697.0L543.6 629.3L544.9 652.1L518.8 629.6L478.4 694.4L476.4 676.0L512.8 613.8L531.3 620.4L628.6 683.3L507.3 663.2L537.0 661.4L510.3 672.8L481.2 705.4L571.7 680.3L523.2 595.7L524.0 639.1L532.3 617.0L497.2 657.6L541.5 660.0L510.3 639.9L514.8 661.5L518.1 633.0L497.5 671.8L512.0 619.9L472.8 704.7L535.7 671.6L498.7 658.7L481.2 682.1L506.2 637.3L541.6 620.6L530.0 624.8L511.1 625.1L539.0 616.0L516.1 664.6L521.1 614.0L478.4 685.0L513.2 597.0L475.4 676.2L550.8 640.1L473.1 693.2L545.5 667.9L514.6 633.6L531.3 645.8L514.3 608.4L552.5 670.2L474.1 679.5L495.3 682.6L536.1 631.2L505.9 656.1L487.2 695.0L529.4 653.7L539.6 630.1L530.9 610.0L553.4 649.7L491.6 665.1L508.5 636.9L551.1 640.9L518.1 621.0L514.1 640.9L475.9 715.3L550.0 671.1L540.7 640.2L522.8 576.9L505.7 657.8L523.0 652.0L552.5 645.9L531.9 649.5L496.1 653.8L519.6 628.3L532.5 633.7L475.7 690.7L535.1 616.4L523.6 624.2L475.8 700.4L548.5 630.5L475.9 728.1L544.3 672.5L510.3 648.1L527.0 621.1L532.4 673.6L473.1 709.1L571.7 693.1L513.4 637.5L484.0 672.9L488.0 677.9L479.7 676.6L541.0 617.1L525.5 648.2L473.7 689.6L531.1 642.2L513.2 662.0L476.4 711.0L497.2 670.4L475.8 686.4L537.9 618.5L522.6 657.0L523.4 604.4L507.5 665.3L487.2 672.6L472.7 690.4L526.4 667.1L475.2 693.6L496.5 665.7L488.6 665.1L486.7 685.7L523.2 618.2L473.5 718.5L538.4 614.7L509.4 651.9L546.2 667.8L515.0 639.9L538.4 639.7L459.1 723.7L527.1 670.2L509.0 644.9L523.5 623.1L535.6 655.6L523.8 640.3L545.8 640.0L518.6 598.1L506.7 626.9L577.5 653.7L496.6 676.9L513.6 654.9L475.5 730.2L528.3 663.4L532.1 631.5L487.1 693.0L484.3 676.8L536.5 614.2L524.8 610.6L475.9 725.1L548.0 641.0L506.3 634.7L546.5 638.8L549.5 636.6L500.4 655.9L538.6 650.3L527.4 643.2L523.8 656.6L499.1 673.1L507.0 663.8L538.3 624.0L485.3 691.5L531.9 630.9L533.4 654.9L541.2 642.6L529.2 627.7L507.6 643.5L482.9 694.9L538.4 631.7L501.5 687.3L499.1 653.4L540.2 620.4L514.0 654.1L474.1 724.8L595.8 669.5L511.2 657.1L513.5 652.2L515.1 615.1L472.3 680.1L523.2 666.0L530.4 606.3L595.1 669.5L545.4 627.8L523.7 679.4L497.1 673.5L492.6 681.8L499.2 647.3L533.2 649.7L506.0 664.6L546.8 653.0L465.6 708.9L538.6 643.5L483.6 712.1L514.2 674.1L490.7 670.4L472.6 685.0L534.1 625.0L532.2 599.4L525.3 640.9L513.8 610.4L506.9 653.2L533.1 671.6L517.4 644.6L473.2 680.0L486.9 695.6L532.2 611.4L496.1 653.9L523.5 665.9L475.5 683.8L506.4 663.6L476.1 705.7L539.6 642.8L537.3 650.6L523.6 638.5L488.7 680.2L494.7 676.4L478.5 676.2L494.2 663.7L491.3 657.7L512.7 617.7L555.6 722.7L506.4 672.2L552.5 671.6L545.9 658.3L476.0 713.4L535.2 656.4L529.0 643.8L534.1 661.8L472.7 699.6L523.2 628.5L538.3 658.0L479.5 681.4L540.2 642.4L524.1 664.5L513.8 628.2L480.0 686.7L496.8 645.9L496.4 659.6L531.8 647.6L506.3 650.7L475.2 717.5L485.1 672.6L484.4 687.3L503.2 650.8L524.0 617.8L475.9 693.5L535.2 625.2L515.4 663.3L517.3 631.6L538.3 625.1L502.3 685.9L519.5 605.3L518.0 611.4L506.2 651.4L546.4 671.9L532.7 619.1L546.8 653.8L532.2 664.7L533.2 602.7L516.5 657.0L557.2 665.8L539.6 709.9L527.7 598.0L527.7 641.9L531.7 633.9L514.6 630.6L496.6 642.1L533.7 640.1L514.0 646.5L531.5 636.4L529.6 607.8L541.0 664.8L523.6 644.9L522.2 661.3L519.9 612.0L544.1 630.4L473.6 687.8L473.4 702.9L540.1 618.2L492.4 683.0L538.1 632.4L505.8 649.5L498.9 679.9L595.6 666.8L513.9 663.3L555.3 654.6L513.7 615.8L531.7 630.0L523.6 680.1L520.1 658.5L473.4 715.6L492.5 662.9L531.2 669.0L538.3 638.8L475.8 685.7L532.1 613.4L473.6 675.6L544.5 653.1L538.5 629.4L538.3 654.1L546.3 624.8L543.3 626.6L523.9 674.1L523.5 675.7L538.0 638.9L547.5 657.7L546.0 704.9L523.1 670.4L472.9 679.6L506.1 673.0L531.1 651.4L497.0 660.0L532.4 648.8L506.5 649.8L514.1 640.8L544.3 625.5L523.1 650.9L515.8 656.8L510.4 637.1L545.7 648.2L530.9 672.9L532.7 629.9L531.5 634.7L526.4 637.7L507.1 627.3L596.0 668.8L512.1 666.8L521.4 663.6L549.7 638.2L525.5 627.7L529.3 636.2L503.7 652.0L572.7 622.8L476.2 682.3L523.6 597.3L506.2 651.4L522.9 645.2L497.5 673.1L523.6 670.1L485.3 690.8L549.7 642.0L545.6 672.7L513.0 641.6L532.0 597.9L527.1 623.6L533.7 637.8L579.8 652.7L514.1 607.3L475.1 694.7L506.8 669.9L514.0 600.4L500.4 673.2L497.1 676.0L530.5 632.5L512.6 620.7L546.0 665.2L507.3 644.2L544.1 631.6L532.3 598.3L523.9 650.0L524.0 603.4L507.1 680.4L497.4 675.1L637.6 676.4L523.1 607.0L473.8 690.1L578.1 707.9L533.7 633.8L522.0 607.6L475.7 677.5L532.2 675.9L536.2 624.9L545.4 650.2L496.5 669.6L523.2 599.5L504.5 639.3L510.0 631.6L532.3 594.8L535.1 607.3L532.1 634.8L530.4 604.1L545.2 666.0L537.9 664.1L524.2 646.1L494.3 676.6L572.0 624.6L513.6 659.0L506.2 660.4L521.1 645.8L538.4 621.3L492.5 659.9L496.6 660.1L523.5 599.4L476.8 697.5L524.4 668.5L537.4 598.3L509.1 660.0L565.3 726.6L521.8 614.4L532.3 625.9L506.7 669.2L523.5 616.4L524.8 607.8L513.4 614.0L527.9 645.2L513.4 620.7L489.3 679.9L555.1 660.2L532.1 660.7L531.5 666.5L523.8 663.4L535.4 609.4L526.7 657.8L513.2 641.7L537.9 671.1L507.1 663.7L505.7 649.5L483.6 699.6L551.3 638.9L524.3 660.8L520.5 634.1L538.1 639.5L524.0 631.9L546.1 674.8L524.1 628.5L500.8 665.7L504.6 670.8L482.2 688.6L532.1 603.3L473.1 687.4L524.5 610.8L533.1 719.7L475.8 706.7L522.1 655.6L475.4 706.1L542.9 671.1L538.4 648.1L529.6 661.6L531.7 622.5L538.5 661.8L538.8 606.0L508.0 641.1L480.9 697.3L510.8 651.0L500.9 658.8L473.2 700.0L534.5 667.3L521.1 628.4L548.5 661.6L476.2 695.8L513.9 642.2L475.4 719.3L488.9 689.4L522.8 638.8L525.6 642.4L545.7 655.9L513.6 667.3L549.2 714.8L522.8 580.8L476.0 728.5L475.8 705.1L443.1 711.8L542.5 658.1L532.6 605.8L527.5 625.7L519.1 673.5L481.1 708.3L541.2 665.3L507.6 657.9L514.0 645.2L525.5 656.2L473.6 693.1L473.3 682.4L538.6 623.4L475.8 712.2L511.2 625.8L473.6 719.0L524.2 610.5L512.0 607.1L500.0 689.2L507.9 654.5L523.5 597.9L485.4 672.4L568.5 685.2L551.3 650.0L524.0 610.8L578.1 695.1L462.4 678.4L515.3 607.6L595.8 667.5L545.2 654.1L533.9 666.3L513.9 640.1L484.5 702.8L518.0 600.7L523.5 666.0L573.3 624.2L522.5 627.0L562.1 712.8L532.4 673.3L546.6 666.8L513.8 643.3L532.9 670.7L473.7 720.2L571.3 628.0L648.3 690.2L476.0 675.4L533.1 687.2L540.4 650.1L495.8 662.9L523.1 672.4L513.2 652.1L525.8 665.7L547.8 664.9L532.1 670.5L522.1 655.7L532.3 654.8L518.6 629.0L522.1 660.7L491.4 679.8L524.0 673.8L521.5 648.1L482.0 690.0L554.2 660.6L522.8 626.7L475.7 690.5L531.6 615.9L531.5 635.7L476.4 703.2L526.9 671.1L538.0 662.4L514.5 611.7L474.3 676.8L492.1 661.1L506.4 645.9L513.5 649.8L513.7 609.9L521.8 608.5L473.7 717.3L546.5 623.4L522.0 624.7L546.0 645.9L531.1 613.7L538.0 659.0L465.6 700.0L475.8 692.6L503.6 680.9L514.7 661.7L516.2 627.1L492.7 676.7L506.5 642.0L524.5 623.1L545.1 624.6L544.8 617.4L539.6 620.8L506.5 669.2L531.3 660.4L542.0 618.6L577.5 645.9L520.9 597.6L473.0 678.3L522.6 666.2L531.4 650.7L505.2 645.9L513.5 597.1L496.4 651.3L554.4 657.9L506.2 658.9L545.9 671.4L545.7 654.4L596.8 669.4L496.8 651.7L473.2 675.5L496.9 669.4L474.0 695.5L472.4 691.0L532.0 667.5L484.2 697.0L532.1 630.5L517.6 650.1L506.1 645.3L522.6 589.0L531.6 613.5L484.3 699.0L473.5 706.1L514.7 668.8L473.9 683.6L546.7 637.7L490.1 669.3L542.6 613.2L571.7 627.6L507.6 656.6L473.2 724.7L514.9 608.0L546.7 670.4L546.7 644.8L462.4 690.2L505.6 635.1L489.4 684.6L549.4 636.1L523.9 647.3L475.5 676.7L538.1 646.6L529.0 633.7L525.2 624.6L503.9 659.8L485.8 683.5L532.1 601.0L540.1 640.7L508.4 618.1L521.0 653.7L513.9 611.0L496.1 688.0L531.0 601.2L510.4 642.9L523.3 669.9L516.3 630.4L531.3 644.1L531.6 630.3L500.3 653.7L473.4 683.2L514.6 612.9L542.8 683.3L527.1 635.3L513.9 664.7L539.6 697.1L504.0 651.6L521.8 649.1L483.0 700.5L506.9 670.7L519.9 674.0L527.3 653.8L477.5 688.8L523.3 624.6L543.2 623.0L532.2 635.7L539.7 654.6L538.9 662.7L514.1 639.6L497.1 656.3L487.0 669.9L517.3 644.2L523.8 624.4L497.3 659.8L505.8 666.1L473.5 721.1L523.5 658.8L523.7 614.5L512.0 657.6L496.6 680.2L473.0 683.3L473.1 713.5L501.3 651.5L476.3 676.7L476.4 721.9L493.2 691.7L523.9 661.0L496.9 676.9L506.9 646.7L506.7 673.5L506.4 633.6L523.0 661.7L513.7 622.6L522.9 675.2L509.3 663.8L523.3 605.5L537.9 618.7L532.2 595.4L517.4 633.1L499.6 659.5L520.8 668.8L639.3 677.4L509.0 648.5L542.3 626.2L538.8 670.4L475.6 721.7L506.5 671.2L513.4 631.1L473.3 731.6L498.3 652.5L485.1 678.5L528.0 632.1L496.5 666.9L521.6 644.3L473.5 711.7L531.6 644.4L523.6 629.1L538.2 618.7L506.5 675.7L498.9 661.2L524.1 591.0L537.8 637.9L528.6 592.9L524.0 664.6L538.6 658.2L552.4 687.2L490.3 668.1L476.1 685.4L523.8 644.9L475.5 712.4L542.5 661.3L491.9 679.4L498.7 657.9L496.7 647.1L483.1 709.3L515.0 612.4L475.3 710.9L474.0 677.8L538.6 628.7L455.9 711.8L522.6 625.4L524.5 641.1L533.8 638.1L476.2 695.5L498.5 692.0L530.3 661.9L518.7 660.8L521.5 609.7L518.1 618.7L476.0 714.2L538.2 619.7L496.9 663.8L521.3 625.6L540.6 647.0L513.2 602.8L541.1 641.5L523.4 602.9L522.9 610.1L473.3 693.6L497.0 662.0L545.4 663.2L513.8 652.3L526.2 662.3L545.4 648.8L476.4 709.2L514.3 661.4L526.7 680.3L545.2 649.4L545.1 642.8L545.6 650.0L496.2 665.0L523.5 659.9L496.7 646.0L514.0 627.2L479.1 679.9L495.3 656.9L537.0 628.0L510.3 658.3L512.7 649.6L522.9 631.2L538.1 645.5L531.2 629.7L546.0 724.6L489.1 689.2L531.5 650.1L476.2 688.1L515.3 632.7L542.3 669.9L479.1 686.3L513.6 598.6L523.7 588.9L476.8 714.6L496.1 692.0L555.6 653.7L492.2 695.4L573.3 640.9L541.9 652.3L531.7 658.6L523.5 639.1L506.1 656.4L514.1 623.2L506.3 646.5L473.0 714.7L519.1 637.6L528.3 670.3L515.0 654.9L526.9 668.4L503.1 656.9L482.6 685.7L506.9 663.6L523.5 631.2L465.6 719.7L538.8 643.6L481.4 689.7L482.7 683.2L532.3 666.1L532.3 643.6L541.2 648.3L531.1 602.6L475.4 705.5L481.5 669.5L514.3 629.0L521.8 656.2L523.5 645.0L535.3 673.7L523.3 632.2L545.8 667.9L539.1 640.6L506.5 646.6L473.1 689.3L522.4 669.7L487.1 679.2L509.4 663.9L522.7 678.9L513.7 618.1L475.6 700.1L475.4 705.3L513.9 625.5L473.3 714.4L486.9 681.0L507.7 638.9L475.8 713.8L545.6 664.8L523.1 608.9L521.7 662.7L541.1 637.9L494.0 679.0L474.1 700.1L480.6 688.2L554.6 657.3L488.3 680.7L541.2 611.0L530.4 671.3L513.7 622.0L522.9 590.7L502.5 677.1L476.4 698.7L514.3 637.0L524.0 592.0L552.6 644.1L543.8 672.7L531.1 612.6L531.4 651.0L539.2 617.0L512.0 626.5L483.3 709.3L496.6 672.6L529.9 624.5L523.6 653.4L513.4 649.5L514.2 660.8L538.7 644.1L473.1 685.9L506.6 656.3L496.7 650.8L573.3 632.1L473.5 688.2L506.5 657.0L541.2 640.6L521.4 623.8L557.8 660.6L574.9 719.7L475.4 714.1" marker-start="url(#rf)" marker-mid="url(#rf)" marker-end="url(#rf)" fill="none" stroke="none"/></g>
<rect x="462.60" y="572.80" width="140.70" height="101.20" fill="none" stroke="#000" stroke-width="2.0" stroke-dasharray="2.40 9.70"/>
<path d="M484.5 659.6L504.4 610.7" stroke="#000" stroke-width="1.9" fill="none"/><path d="M509.1 599.1L507.3 614.0L504.2 611.1L499.9 611.0Z" fill="#000"/><path d="M537.4 618.0L542.1 637.3" stroke="#000" stroke-width="1.9" fill="none"/><path d="M545.0 649.4L537.7 636.2L541.9 636.8L545.5 634.4Z" fill="#000"/>
<path d="M410.90 773.70v-4.2M426.98 773.70v-2.2M443.06 773.70v-4.2M459.14 773.70v-2.2M475.23 773.70v-4.2M491.31 773.70v-2.2M507.39 773.70v-4.2M523.47 773.70v-2.2M539.55 773.70v-4.2M555.63 773.70v-2.2M571.71 773.70v-4.2M587.79 773.70v-2.2M603.88 773.70v-4.2M619.96 773.70v-2.2M636.04 773.70v-4.2M652.12 773.70v-2.2M668.20 773.70v-4.2M410.90 764.05h2.2M410.90 754.20h4.2M410.90 744.35h2.2M410.90 734.50h4.2M410.90 724.65h2.2M410.90 714.80h4.2M410.90 704.95h2.2M410.90 695.10h4.2M410.90 685.25h2.2M410.90 675.40h4.2M410.90 665.55h2.2M410.90 655.70h4.2M410.90 645.85h2.2M410.90 636.00h4.2M410.90 626.15h2.2M410.90 616.30h4.2M410.90 606.45h2.2M410.90 596.60h4.2M410.90 586.75h2.2M410.90 576.90h4.2M410.90 567.05h2.2" stroke="#000" stroke-width="1.4" fill="none"/>
<rect x="410.90" y="567.00" width="257.30" height="206.70" fill="none" stroke="#000" stroke-width="1.9"/>
<text x="410.90" y="789.30" font-size="13.3" text-anchor="middle">0.03</text>
<text x="443.06" y="789.30" font-size="13.3" text-anchor="middle">0.04</text>
<text x="475.23" y="789.30" font-size="13.3" text-anchor="middle">0.05</text>
<text x="507.39" y="789.30" font-size="13.3" text-anchor="middle">0.06</text>
<text x="539.55" y="789.30" font-size="13.3" text-anchor="middle">0.07</text>
<text x="571.71" y="789.30" font-size="13.3" text-anchor="middle">0.08</text>
<text x="603.88" y="789.30" font-size="13.3" text-anchor="middle">0.09</text>
<text x="636.04" y="789.30" font-size="13.3" text-anchor="middle">0.10</text>
<text x="668.20" y="789.30" font-size="13.3" text-anchor="middle">0.11</text>
<text x="406.20" y="778.50" font-size="13.3" text-anchor="end">-100</text>
<text x="406.20" y="758.80" font-size="13.3" text-anchor="end">-80</text>
<text x="406.20" y="739.10" font-size="13.3" text-anchor="end">-60</text>
<text x="406.20" y="719.40" font-size="13.3" text-anchor="end">-40</text>
<text x="406.20" y="699.70" font-size="13.3" text-anchor="end">-20</text>
<text x="406.20" y="680.00" font-size="13.3" text-anchor="end">0</text>
<text x="406.20" y="660.30" font-size="13.3" text-anchor="end">20</text>
<text x="406.20" y="640.60" font-size="13.3" text-anchor="end">40</text>
<text x="406.20" y="620.90" font-size="13.3" text-anchor="end">60</text>
<text x="406.20" y="601.20" font-size="13.3" text-anchor="end">80</text>
<text x="406.20" y="581.50" font-size="13.3" text-anchor="end">100</text>
<text x="354.10" y="556.60" font-size="25">(</text><text x="363.25" y="556.60" font-size="25">f</text><text x="372.20" y="556.60" font-size="25">)</text>
<g transform="translate(374.20 752.90) rotate(-90)"><text x="-0.93" y="0.00" font-size="17.6">SHAP value for </text><text x="121.77" y="0.00" font-size="17.6" font-style="italic">ID</text><text x="141.83" y="4.22" font-size="11.264000000000001">A</text></g>
<text x="524.70" y="814.50" font-size="18.0" font-style="italic">ID</text>
<text x="545.00" y="819.30" font-size="11.5">A</text>
<rect x="439.20" y="837.90" width="174.80" height="86.40" fill="#e7dede"/>
<g clip-path="url(#clipRh)"><path d="M559.4 931.2L514.2 896.7L543.9 901.2L535.6 905.5L518.4 903.5L479.1 890.0L570.3 977.3L487.6 892.9L486.7 895.7L519.7 933.7L517.0 946.5L500.5 962.8L633.8 979.8L532.9 921.5L507.0 936.3L549.2 967.5L550.1 941.4L510.0 892.6L539.1 946.8L504.3 965.4L493.9 847.8L524.8 866.8L519.7 900.5L560.3 966.0L551.9 930.1L491.5 896.3L545.2 930.0L566.6 966.3L481.6 895.8L536.6 934.8L501.1 912.3L548.6 927.9L518.2 937.0L558.4 955.7L531.3 953.0L576.5 957.8L476.0 902.1L525.1 854.3L527.6 911.9L575.0 997.6L492.1 916.5L538.4 934.8L538.7 957.8L537.9 900.8L524.0 894.1L471.5 901.2L530.6 922.8L545.8 928.1L549.1 950.7L532.9 919.8L474.0 872.5L545.5 948.8L513.2 928.3L571.8 973.8L545.9 955.5L544.9 921.5L563.4 926.4L604.7 970.7L524.4 942.1L514.7 922.1L520.1 891.8L540.8 939.3L548.5 944.0L564.2 970.4L552.6 951.2L545.0 924.3L540.1 916.5L481.1 959.4L548.0 967.9L536.6 949.4L524.0 899.3L521.6 939.7L518.7 952.0L525.8 923.5L528.9 950.5L526.4 921.3L528.0 900.7L571.6 977.4L540.2 945.1L525.5 891.7L508.2 921.8L529.5 917.3L508.2 929.6L561.7 953.6L538.8 892.6L548.5 933.4L519.3 909.4L556.5 947.0L557.4 923.2L554.1 951.7L534.7 926.2L539.0 892.4L596.9 929.0L604.8 952.1L510.9 897.8L548.3 953.5L550.4 940.7L530.9 929.2L557.4 974.0L525.6 862.9L526.8 915.0L547.4 962.3L471.7 910.4L526.9 921.3L518.1 876.2L552.9 948.9L572.3 941.5L459.2 956.0L558.0 959.0L558.7 955.3L556.4 948.1L528.7 904.4L521.2 891.5L535.3 932.9L564.2 961.1L570.0 969.7L479.5 920.7L584.2 979.5L554.4 928.3L554.4 959.1L500.5 993.4L508.3 940.7L510.0 894.2L524.1 923.6L489.2 891.9L560.9 961.8L533.1 935.0L526.5 880.5L508.6 948.2L574.0 973.3L532.7 926.7L520.2 918.6L525.9 866.7L536.7 928.1L509.0 920.8L540.4 912.9L562.2 938.6L528.8 878.4L578.2 904.9L533.1 926.1L529.4 921.7L533.5 918.0L580.2 969.4L559.4 929.0L510.3 943.6L474.0 928.7L541.3 921.5L520.5 936.0L514.3 920.2L559.6 960.0L549.2 949.5L542.6 922.0L544.3 921.6L555.5 951.5L633.8 1003.6L533.1 921.1L547.1 946.1L553.9 941.9L633.8 959.4L536.9 933.8L601.7 967.2L596.0 941.8L530.4 888.9L521.1 878.8L546.7 929.1L527.5 906.7L506.8 946.5L500.8 914.2L532.3 914.2L551.1 936.2L556.1 954.3L531.9 909.1L494.1 967.9L545.3 931.7L539.8 943.9L518.6 931.8L562.1 946.8L507.0 963.1L543.9 945.2L477.6 890.6L652.5 1007.0L542.6 950.6L519.2 932.8L575.6 981.7L544.7 924.6L509.9 957.8L535.5 941.2L548.2 940.8L531.4 891.9L542.2 935.8L549.8 945.6L530.9 929.6L534.9 916.9L574.3 938.2L516.7 904.6L551.6 929.1L530.8 911.2L474.0 993.4L536.0 940.8L518.1 933.7L507.2 911.1L562.3 924.0L523.8 915.4L551.3 927.5L509.0 915.8L534.5 872.9L602.7 909.1L518.6 913.2L564.8 960.9L516.7 967.9L538.7 904.2L442.3 956.0L448.8 942.3L531.7 879.1L542.1 917.3L457.2 949.1L554.8 973.0L574.9 970.7L537.3 899.6L528.2 933.5L550.9 927.6L527.6 896.7L554.3 925.5L500.9 934.9L534.7 939.0L582.6 936.3L545.0 923.5L584.2 981.9L555.3 968.5L545.9 963.2L509.4 875.5L549.7 1000.2L606.4 951.7L539.8 934.0L563.5 935.0L532.6 922.3L532.8 938.0L473.7 909.4L555.5 968.3L529.0 896.0L526.3 867.7L523.0 904.6L538.4 940.7L541.1 956.5L540.3 917.3L535.2 942.3L514.5 879.9L533.2 927.6L555.3 956.0L549.8 969.5L538.7 948.7L574.1 932.1L524.3 890.9L531.4 928.2L534.5 917.0L544.4 907.8L533.3 935.0L545.9 929.5L554.5 948.7L550.7 945.1L536.5 934.5L532.5 933.0L529.5 874.0L603.0 957.1L574.5 929.0L563.0 973.8L528.6 897.5L542.5 948.4L535.2 903.7L522.5 888.9L540.6 902.5L522.2 934.8L533.3 905.1L525.4 909.0L559.0 984.0L565.5 936.9L533.1 938.5L552.7 959.6L653.2 1013.9L505.2 887.5L526.8 897.0L560.8 921.4L544.0 955.8L560.1 944.6L532.3 886.0L548.0 961.1L565.4 963.4L541.1 939.9L623.4 944.0L591.7 909.1L544.1 914.6L554.7 947.7L545.2 943.5L564.0 950.6L544.2 897.6L523.9 894.0L544.2 893.4L533.2 938.9L541.8 946.1L522.4 904.4L546.1 945.6L547.7 937.8L487.6 933.8L545.0 954.2L442.3 899.8L539.1 946.4L493.9 872.5L560.0 929.7L514.7 927.1L511.8 944.0L546.4 942.0L518.5 929.8L528.7 930.6L525.5 946.7L526.9 927.0L505.2 883.0L533.2 874.1L530.9 874.3L584.6 935.7L560.4 975.0L551.7 938.0L507.7 844.4L589.3 941.9L596.9 903.2L561.2 974.1L538.2 918.6L442.3 973.0L501.4 933.0L503.1 916.3L552.2 954.5L527.5 879.0L565.3 963.6L518.4 925.9L569.5 949.6L603.4 974.9L556.4 944.4L508.5 923.4L529.1 918.5L549.7 993.4L568.5 971.5L474.0 949.1L550.0 937.5L526.2 926.0L510.4 881.3L534.0 888.6L541.1 934.3L520.3 910.3L563.4 943.5L525.5 887.3L442.3 945.7L604.7 928.7L569.5 951.5L545.8 950.7L513.7 923.7L506.8 950.2L505.4 952.1L535.8 884.7L633.8 949.1L540.0 923.2L543.4 897.7L633.8 969.6L570.2 972.3L533.4 869.6L580.1 983.4L529.8 893.6L517.2 904.0L537.6 912.1L532.0 929.1L510.5 921.5L536.5 924.2L522.6 905.8L461.1 911.7L507.7 874.2L636.4 929.6L442.3 933.8L543.9 914.2L546.3 918.7L535.7 875.6L550.8 954.0L538.7 961.4L588.1 972.4L551.2 978.2L547.1 936.2L536.2 933.9L593.1 927.1L513.8 880.0L536.3 922.1L543.0 903.2L543.8 922.2L531.8 893.2L559.1 924.0L537.8 949.4L536.0 915.4L549.1 900.6L493.9 859.7L560.6 964.4L614.4 937.2L552.1 951.5L519.3 884.6L588.3 971.1L543.2 982.0L540.5 917.6L563.2 932.3L638.9 1016.4L524.5 934.1L514.6 874.8L541.5 919.2L523.8 878.2L537.6 931.0L542.9 944.7L497.9 893.7L507.7 891.2L521.0 907.4L503.2 912.0L653.8 1024.1L521.4 932.7L501.6 960.2L540.5 940.0L542.4 952.0L548.8 978.3L536.5 884.5L537.2 920.1L538.5 932.9L541.1 932.8L465.0 940.6L557.6 953.8L522.9 938.3L536.3 932.5L478.6 921.9L538.9 927.7L554.3 966.2L547.3 952.4L523.8 922.3L578.3 952.2L547.3 915.9L511.6 932.9L526.6 898.0L541.7 924.8L556.7 913.5L543.3 918.4L541.1 961.8L551.8 945.2L474.0 938.9L519.8 882.3L561.3 996.8L521.9 949.5L533.5 938.3L522.7 894.6L532.2 939.1L557.2 938.9L567.0 954.3L605.7 949.2L548.8 933.2L563.4 965.7L578.2 898.1L560.4 952.0L558.1 965.8L576.2 889.5L471.9 894.4L544.8 960.6L553.1 949.5L543.1 948.4L571.7 953.1L541.3 919.9L531.7 936.1L544.0 910.4L546.2 933.3L442.3 966.2L540.7 931.3L527.3 888.6L517.1 933.2L479.7 878.9L544.5 948.8L525.1 842.7L559.5 957.1L538.6 906.0L542.2 934.5L509.6 954.5L545.7 943.4L517.4 904.4L548.8 964.6L549.1 952.5L584.0 988.9L509.2 891.5L493.9 865.7L523.9 922.7L540.5 916.3L593.8 938.3L523.9 850.0L560.2 963.9L542.2 906.8L532.0 949.4L532.6 883.5L604.2 925.3L538.1 901.7L548.5 917.4L557.4 954.7L552.3 944.4L563.3 973.8L547.9 943.3L527.5 948.4L526.0 884.6L529.7 928.0L534.5 934.4L534.7 935.1L497.5 895.6L512.6 889.3L519.5 924.6L545.2 932.1L548.7 956.3L527.8 871.6L551.8 929.6L537.4 945.1L577.3 987.6L558.6 952.0L535.8 907.6L514.4 926.3L517.2 920.9L493.9 853.8L511.0 901.8L651.9 1000.2L527.6 870.0L536.2 946.8L523.8 904.9L576.2 881.0L521.0 940.6L545.2 944.4L533.9 929.5L562.9 958.7L563.2 974.9L508.9 900.9L551.1 947.7L508.2 959.5L544.2 943.4L547.8 920.1L516.6 936.0L565.7 937.3L526.8 905.0L540.7 929.5L514.8 887.7L533.8 953.7L544.6 951.8L517.8 868.3L552.4 906.3L508.3 923.5L549.7 956.0L574.3 1018.1L596.9 898.1L511.1 919.1L533.7 911.0L567.1 995.7L555.4 943.6L530.4 886.9L522.3 895.9L547.6 933.3L532.7 891.7L515.8 886.9L546.9 939.3L518.2 936.5L606.9 950.5L600.5 928.7L574.9 1000.2L538.7 942.0L539.4 952.4L534.0 934.2L540.5 917.1L528.5 924.1L522.4 900.6L506.2 921.6L540.6 940.1L539.0 926.7L572.4 991.6L563.0 938.4L561.9 942.9L543.2 951.3L548.6 935.6L521.7 912.6L524.6 850.8L490.4 895.4L526.0 852.3L540.4 978.1L510.0 927.3L535.6 932.5L538.5 915.8L512.4 962.5L561.5 961.6L510.8 941.6L432.6 957.7L550.6 900.6L530.3 930.6L543.3 913.8L552.8 940.1L543.3 911.0L548.3 921.1L531.9 918.2L532.6 946.3L517.1 927.5L543.0 936.3L546.6 935.6L562.1 979.7L538.8 940.3L493.2 883.8L576.7 959.7L495.5 900.4L574.3 971.5L524.6 868.3L551.8 931.3L551.8 911.5L525.8 892.8L549.6 918.5L555.9 942.0L541.2 908.0L542.1 911.0L531.8 931.6L521.5 879.7L554.1 967.6L534.0 926.3L525.0 870.2L527.7 878.3L514.0 885.8L519.5 947.6L570.8 959.7L499.7 902.5L542.0 946.9L532.0 890.1L517.0 940.8L537.5 903.7L556.4 959.6L540.6 933.2L534.9 907.9L552.0 943.0L556.8 958.3L532.7 928.6L551.6 986.5L542.8 907.9L600.9 987.2L500.5 950.8L545.6 936.7L517.4 883.3L500.5 927.0L517.6 887.2L542.4 951.8L550.2 968.8L530.3 892.1L514.4 925.8L557.9 926.7L553.7 956.0L572.2 986.2L543.0 909.9L546.9 936.8L537.9 926.8L540.9 943.3L544.7 912.4L550.1 949.3L503.1 919.8L540.3 918.0L542.9 936.3L514.3 936.5L534.2 878.0L522.5 934.9L572.4 974.2L487.6 945.7L513.2 881.9L536.9 939.3L500.5 886.1L596.9 891.2L547.0 916.1L577.2 977.2L537.7 932.6L531.3 907.4L520.1 873.0L550.2 986.1L476.9 884.2L472.1 894.6L546.5 964.6L532.5 922.2L542.0 894.4L500.5 938.9L534.4 936.1L633.8 996.8L531.1 898.4L552.1 905.6L552.4 938.9L606.2 989.3L565.3 931.8L538.8 919.3L524.5 916.1L570.6 969.8L525.2 841.9L528.8 923.7L557.9 976.4L510.4 898.6L531.9 892.2L542.1 948.8L553.3 908.2L552.6 917.6L544.9 897.7L484.9 883.1L583.0 953.2L549.7 966.5L516.7 938.3L527.0 931.5L570.3 948.1L532.9 919.8L514.2 897.7L552.0 947.9L508.2 962.9L544.1 939.0L557.5 950.9" marker-start="url(#rh)" marker-mid="url(#rh)" marker-end="url(#rh)" fill="none" stroke="none"/></g>
<rect x="439.20" y="837.90" width="174.80" height="86.40" fill="none" stroke="#000" stroke-width="2.0" stroke-dasharray="2.40 6.80"/>
<path d="M467.5 916.6L493.2 873.6" stroke="#000" stroke-width="1.9" fill="none"/><path d="M499.6 862.9L495.6 877.4L492.9 874.1L488.7 873.3Z" fill="#000"/><path d="M565.0 914.7L538.7 864.6" stroke="#000" stroke-width="1.9" fill="none"/><path d="M532.9 853.5L543.2 864.5L538.9 865.0L536.1 868.2Z" fill="#000"/>
<path d="M410.00 1035.80v-4.2M426.17 1035.80v-2.2M442.34 1035.80v-4.2M458.51 1035.80v-2.2M474.68 1035.80v-4.2M490.84 1035.80v-2.2M507.01 1035.80v-4.2M523.18 1035.80v-2.2M539.35 1035.80v-4.2M555.52 1035.80v-2.2M571.69 1035.80v-4.2M587.86 1035.80v-2.2M604.03 1035.80v-4.2M620.19 1035.80v-2.2M636.36 1035.80v-4.2M652.53 1035.80v-2.2M668.70 1035.80v-4.2M410.00 1027.48h4.2M410.00 1010.45h2.2M410.00 993.42h4.2M410.00 976.39h2.2M410.00 959.36h4.2M410.00 942.33h2.2M410.00 925.30h4.2M410.00 908.27h2.2M410.00 891.24h4.2M410.00 874.21h2.2M410.00 857.18h4.2M410.00 840.15h2.2" stroke="#000" stroke-width="1.4" fill="none"/>
<rect x="410.00" y="827.40" width="258.70" height="208.40" fill="none" stroke="#000" stroke-width="1.9"/>
<text x="410.00" y="1051.40" font-size="15.0" text-anchor="middle">900</text>
<text x="442.34" y="1051.40" font-size="15.0" text-anchor="middle">950</text>
<text x="474.68" y="1051.40" font-size="15.0" text-anchor="middle">1000</text>
<text x="507.01" y="1051.40" font-size="15.0" text-anchor="middle">1050</text>
<text x="539.35" y="1051.40" font-size="15.0" text-anchor="middle">1100</text>
<text x="571.69" y="1051.40" font-size="15.0" text-anchor="middle">1150</text>
<text x="604.03" y="1051.40" font-size="15.0" text-anchor="middle">1200</text>
<text x="636.36" y="1051.40" font-size="15.0" text-anchor="middle">1250</text>
<text x="668.70" y="1051.40" font-size="15.0" text-anchor="middle">1300</text>
<text x="405.30" y="1032.08" font-size="15.0" text-anchor="end">-60</text>
<text x="405.30" y="998.02" font-size="15.0" text-anchor="end">-40</text>
<text x="405.30" y="963.96" font-size="15.0" text-anchor="end">-20</text>
<text x="405.30" y="929.90" font-size="15.0" text-anchor="end">0</text>
<text x="405.30" y="895.84" font-size="15.0" text-anchor="end">20</text>
<text x="405.30" y="861.78" font-size="15.0" text-anchor="end">40</text>
<text x="354.10" y="819.70" font-size="25">(</text><text x="363.55" y="819.70" font-size="25">h</text><text x="378.10" y="819.70" font-size="25">)</text>
<g transform="translate(378.00 1009.60) rotate(-90)"><text x="-1.03" y="0.00" font-size="19.5">SHAP value for </text><text x="134.92" y="0.00" font-size="19.5" font-style="italic">ST</text></g>
<text x="527.60" y="1080.90" font-size="20.5" font-style="italic">ST</text>
</svg></body></html>
